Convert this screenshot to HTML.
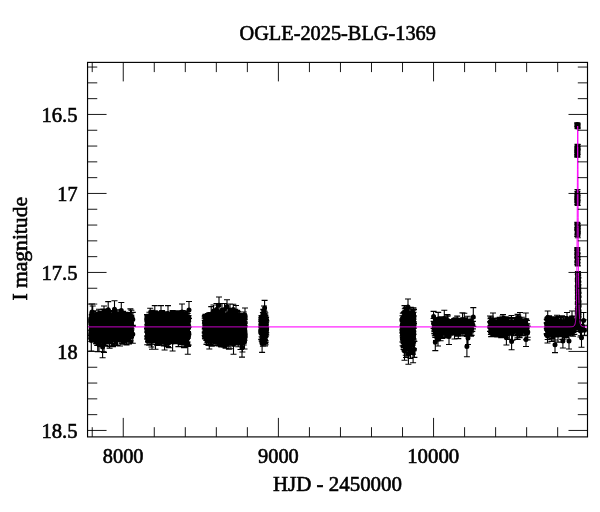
<!DOCTYPE html>
<html><head><meta charset="utf-8"><title>OGLE-2025-BLG-1369</title>
<style>
html,body{margin:0;padding:0;background:#fff;}
body{width:600px;height:512px;overflow:hidden;font-family:"Liberation Serif",serif;}
svg{display:block;}
text{font-family:"Liberation Serif",serif;font-size:20px;fill:#000;stroke:#000;stroke-width:0.6px;}
</style></head><body>
<svg width="600" height="512" viewBox="0 0 600 512">
<rect width="600" height="512" fill="#fff"/>
<path d="M87.55,326.90L560.00,326.90L560.50,326.90L561.00,326.90L561.50,326.90L562.00,326.90L562.50,326.90L563.00,326.90L563.50,326.89L564.00,326.89L564.50,326.89L565.00,326.89L565.50,326.89L566.00,326.89L566.50,326.89L567.00,326.88L567.50,326.88L568.00,326.88L568.50,326.87L569.00,326.86L569.50,326.85L570.00,326.84L570.50,326.82L571.00,326.80L571.50,326.76L572.00,326.71L572.50,326.63L573.00,326.50L573.50,326.30L574.00,325.95L574.50,325.31L575.00,324.08L575.05,323.91L575.10,323.71L575.15,323.51L575.20,323.28L575.25,323.04L575.30,322.78L575.35,322.50L575.40,322.19L575.45,321.86L575.50,321.50L575.55,321.11L575.60,320.68L575.65,320.22L575.70,319.72L575.75,319.17L575.80,318.57L575.85,317.92L575.90,317.20L575.95,316.42L576.00,315.56L576.05,314.62L576.10,313.59L576.15,312.45L576.20,311.20L576.25,309.83L576.30,308.32L576.35,306.65L576.40,304.81L576.45,302.78L576.50,300.54L576.55,298.06L576.60,295.31L576.65,292.27L576.70,288.91L576.75,285.18L576.80,281.05L576.85,276.47L576.90,271.39L576.95,265.77L577.00,259.54L577.05,252.66L577.10,245.05L577.15,236.66L577.20,227.45L577.25,217.37L577.30,206.42L577.35,194.66L577.40,182.21L577.45,169.38L577.50,156.65L577.55,144.82L577.60,134.97L577.65,128.35L577.70,126.00L577.75,128.35L577.80,134.97L577.85,144.82L577.90,156.65L577.95,169.38L578.00,182.21L578.05,194.66L578.10,206.42L578.15,217.37L578.20,227.45L578.25,236.66L578.30,245.05L578.35,252.66L578.40,259.54L578.45,265.77L578.50,271.39L578.55,276.47L578.60,281.05L578.65,285.18L578.70,288.91L578.75,292.27L578.80,295.31L578.85,298.06L578.90,300.54L578.95,302.78L579.00,304.81L579.05,306.65L579.10,308.32L579.15,309.83L579.20,311.20L579.25,312.45L579.30,313.59L579.35,314.62L579.40,315.56L579.45,316.42L579.50,317.20L579.55,317.92L579.60,318.57L579.65,319.17L579.70,319.72L579.75,320.22L579.80,320.68L579.85,321.11L579.90,321.50L579.95,321.86L580.00,322.19L580.05,322.50L580.10,322.78L580.15,323.04L580.20,323.28L580.25,323.51L580.30,323.71L580.35,323.91L580.40,324.08L580.45,324.25L580.50,324.40L580.55,324.55L580.60,324.68L580.65,324.81L580.70,324.92L580.75,325.03L581.25,325.80L581.75,326.21L582.25,326.45L582.75,326.60L583.25,326.69L583.75,326.75L584.25,326.79L584.75,326.82L585.25,326.83L585.75,326.85L586.25,326.86L586.75,326.87L587.25,326.87L587.50,326.88" fill="none" stroke="#ff00ff" stroke-width="1.0" stroke-opacity="0.5" stroke-linejoin="round"/>
<g fill="none" stroke="#000" stroke-width="1.1">
<path d="M113.6,316.8v12.2M110.6,316.8h6M110.6,329.0h6M98.0,319.4v14.2M95.0,319.4h6M95.0,333.6h6M107.2,316.7v18.0M104.2,316.7h6M104.2,334.7h6M130.8,320.1v15.8M127.8,320.1h6M127.8,335.9h6M92.1,321.4v11.6M89.1,321.4h6M89.1,333.0h6M98.9,318.0v15.9M95.9,318.0h6M95.9,333.9h6M130.7,322.0v18.7M127.7,322.0h6M127.7,340.7h6M128.3,318.7v11.7M125.3,318.7h6M125.3,330.5h6M115.1,327.7v15.7M112.1,327.7h6M112.1,343.4h6M100.9,316.5v18.1M97.9,316.5h6M97.9,334.6h6M113.4,322.7v11.3M110.4,322.7h6M110.4,334.0h6M109.7,329.6v17.0M106.7,329.6h6M106.7,346.6h6M114.4,326.9v17.9M111.4,326.9h6M111.4,344.8h6M109.1,315.0v14.5M106.1,315.0h6M106.1,329.6h6M119.0,314.5v13.8M116.0,314.5h6M116.0,328.2h6M117.5,314.8v10.5M114.5,314.8h6M114.5,325.3h6M125.6,315.4v15.0M122.6,315.4h6M122.6,330.4h6M113.0,315.9v12.9M110.0,315.9h6M110.0,328.9h6M102.3,318.0v13.5M99.3,318.0h6M99.3,331.5h6M113.6,323.3v15.1M110.6,323.3h6M110.6,338.4h6M102.1,316.4v13.3M99.1,316.4h6M99.1,329.7h6M105.2,317.3v14.0M102.2,317.3h6M102.2,331.3h6M123.9,315.0v10.9M120.9,315.0h6M120.9,325.9h6M111.3,318.3v13.1M108.3,318.3h6M108.3,331.4h6M101.0,322.7v13.6M98.0,322.7h6M98.0,336.3h6M114.2,316.5v13.6M111.2,316.5h6M111.2,330.0h6M99.3,315.8v15.5M96.3,315.8h6M96.3,331.3h6M114.2,322.9v16.1M111.2,322.9h6M111.2,339.0h6M91.5,317.3v13.1M88.5,317.3h6M88.5,330.4h6M96.8,317.1v16.0M93.8,317.1h6M93.8,333.1h6M120.6,324.8v16.1M117.6,324.8h6M117.6,340.9h6M96.5,328.5v14.9M93.5,328.5h6M93.5,343.4h6M97.1,313.8v15.0M94.1,313.8h6M94.1,328.8h6M121.4,318.0v14.8M118.4,318.0h6M118.4,332.8h6M111.7,317.2v14.5M108.7,317.2h6M108.7,331.7h6M123.4,322.6v16.9M120.4,322.6h6M120.4,339.6h6M114.8,312.3v13.7M111.8,312.3h6M111.8,325.9h6M105.3,328.7v16.9M102.3,328.7h6M102.3,345.6h6M106.0,314.4v11.9M103.0,314.4h6M103.0,326.3h6M93.7,318.7v16.5M90.7,318.7h6M90.7,335.2h6M111.5,318.4v12.4M108.5,318.4h6M108.5,330.8h6M107.9,315.6v12.0M104.9,315.6h6M104.9,327.6h6M129.9,321.3v20.3M126.9,321.3h6M126.9,341.7h6M97.3,316.5v15.5M94.3,316.5h6M94.3,332.1h6M120.9,316.8v12.8M117.9,316.8h6M117.9,329.7h6M111.8,318.6v16.0M108.8,318.6h6M108.8,334.6h6M105.2,320.2v15.4M102.2,320.2h6M102.2,335.7h6M124.5,317.3v15.5M121.5,317.3h6M121.5,332.8h6M118.8,318.9v13.1M115.8,318.9h6M115.8,332.0h6M103.0,317.4v13.1M100.0,317.4h6M100.0,330.5h6M98.8,313.1v15.4M95.8,313.1h6M95.8,328.5h6M114.7,320.8v14.9M111.7,320.8h6M111.7,335.7h6M101.8,316.5v12.2M98.8,316.5h6M98.8,328.7h6M109.6,325.5v22.8M106.6,325.5h6M106.6,348.3h6M93.2,311.5v15.6M90.2,311.5h6M90.2,327.1h6M124.2,320.0v14.5M121.2,320.0h6M121.2,334.5h6M97.0,313.8v15.8M94.0,313.8h6M94.0,329.6h6M124.6,315.1v14.8M121.6,315.1h6M121.6,329.9h6M105.2,314.6v14.6M102.2,314.6h6M102.2,329.2h6M125.2,320.0v14.1M122.2,320.0h6M122.2,334.1h6M128.0,323.9v18.4M125.0,323.9h6M125.0,342.2h6M113.0,316.4v15.5M110.0,316.4h6M110.0,332.0h6M104.6,318.1v12.1M101.6,318.1h6M101.6,330.1h6M92.1,322.3v17.3M89.1,322.3h6M89.1,339.7h6M109.6,314.5v12.9M106.6,314.5h6M106.6,327.4h6M101.5,322.8v15.8M98.5,322.8h6M98.5,338.6h6M116.3,319.5v13.7M113.3,319.5h6M113.3,333.1h6M92.8,324.7v13.5M89.8,324.7h6M89.8,338.2h6M103.3,309.1v11.8M100.3,309.1h6M100.3,320.9h6M125.6,320.4v10.3M122.6,320.4h6M122.6,330.7h6M104.4,329.4v17.0M101.4,329.4h6M101.4,346.3h6M96.5,321.2v14.2M93.5,321.2h6M93.5,335.4h6M92.1,318.7v12.2M89.1,318.7h6M89.1,330.9h6M130.4,318.7v15.7M127.4,318.7h6M127.4,334.4h6M131.0,324.8v12.1M128.0,324.8h6M128.0,336.9h6M97.0,324.1v14.6M94.0,324.1h6M94.0,338.7h6M100.7,312.9v10.8M97.7,312.9h6M97.7,323.6h6M96.4,322.3v13.7M93.4,322.3h6M93.4,335.9h6M99.4,315.7v9.8M96.4,315.7h6M96.4,325.5h6M104.0,319.3v12.7M101.0,319.3h6M101.0,331.9h6M93.1,319.3v14.8M90.1,319.3h6M90.1,334.1h6M105.2,319.5v16.1M102.2,319.5h6M102.2,335.6h6M123.2,319.0v20.9M120.2,319.0h6M120.2,339.9h6M128.3,320.1v14.7M125.3,320.1h6M125.3,334.8h6M97.2,317.0v14.5M94.2,317.0h6M94.2,331.5h6M129.1,314.6v14.3M126.1,314.6h6M126.1,328.9h6M121.5,319.2v16.2M118.5,319.2h6M118.5,335.5h6M95.5,318.6v15.0M92.5,318.6h6M92.5,333.7h6M105.8,316.6v12.8M102.8,316.6h6M102.8,329.4h6M111.1,324.9v18.8M108.1,324.9h6M108.1,343.6h6M98.9,326.0v17.3M95.9,326.0h6M95.9,343.3h6M103.4,323.1v19.2M100.4,323.1h6M100.4,342.3h6M113.9,317.3v16.8M110.9,317.3h6M110.9,334.1h6M116.7,319.0v12.2M113.7,319.0h6M113.7,331.2h6M116.8,309.7v13.0M113.8,309.7h6M113.8,322.7h6M104.7,318.1v15.6M101.7,318.1h6M101.7,333.7h6M119.4,317.4v15.2M116.4,317.4h6M116.4,332.6h6M109.9,324.8v15.6M106.9,324.8h6M106.9,340.3h6M122.6,318.0v14.1M119.6,318.0h6M119.6,332.1h6M95.8,320.0v17.0M92.8,320.0h6M92.8,337.0h6M95.6,325.4v15.4M92.6,325.4h6M92.6,340.8h6M115.0,316.2v13.0M112.0,316.2h6M112.0,329.3h6M125.0,317.0v13.9M122.0,317.0h6M122.0,330.9h6M126.7,314.3v12.6M123.7,314.3h6M123.7,326.9h6M96.5,315.2v16.6M93.5,315.2h6M93.5,331.7h6M128.5,318.0v17.2M125.5,318.0h6M125.5,335.2h6M115.2,321.9v15.0M112.2,321.9h6M112.2,336.9h6M119.9,321.9v13.6M116.9,321.9h6M116.9,335.5h6M117.4,324.9v15.0M114.4,324.9h6M114.4,339.9h6M98.9,323.5v16.0M95.9,323.5h6M95.9,339.6h6M109.7,315.6v16.3M106.7,315.6h6M106.7,331.9h6M121.0,314.7v17.5M118.0,314.7h6M118.0,332.1h6M123.9,322.6v19.9M120.9,322.6h6M120.9,342.5h6M103.9,320.1v12.7M100.9,320.1h6M100.9,332.8h6M98.3,315.7v14.1M95.3,315.7h6M95.3,329.9h6M121.6,319.4v16.3M118.6,319.4h6M118.6,335.7h6M114.8,318.3v14.1M111.8,318.3h6M111.8,332.4h6M92.5,319.4v11.8M89.5,319.4h6M89.5,331.2h6M96.8,323.3v18.2M93.8,323.3h6M93.8,341.5h6M115.0,316.6v14.4M112.0,316.6h6M112.0,331.0h6M103.6,320.5v17.1M100.6,320.5h6M100.6,337.7h6M93.3,316.2v12.4M90.3,316.2h6M90.3,328.6h6M105.4,316.3v16.4M102.4,316.3h6M102.4,332.8h6M102.6,317.4v10.1M99.6,317.4h6M99.6,327.5h6M124.9,320.6v13.7M121.9,320.6h6M121.9,334.2h6M99.1,320.1v16.7M96.1,320.1h6M96.1,336.9h6M126.0,320.1v14.8M123.0,320.1h6M123.0,334.9h6M117.0,313.2v18.7M114.0,313.2h6M114.0,331.9h6M92.3,322.7v18.3M89.3,322.7h6M89.3,341.1h6M125.7,320.8v13.3M122.7,320.8h6M122.7,334.1h6M95.4,317.4v12.3M92.4,317.4h6M92.4,329.7h6M112.5,314.1v13.8M109.5,314.1h6M109.5,327.9h6M96.1,318.1v12.2M93.1,318.1h6M93.1,330.3h6M113.9,321.4v16.8M110.9,321.4h6M110.9,338.2h6M107.6,316.8v13.6M104.6,316.8h6M104.6,330.3h6M125.4,318.7v16.9M122.4,318.7h6M122.4,335.5h6M128.7,317.7v14.4M125.7,317.7h6M125.7,332.1h6M107.8,319.7v15.6M104.8,319.7h6M104.8,335.3h6M119.5,314.5v11.1M116.5,314.5h6M116.5,325.6h6M128.6,318.0v12.6M125.6,318.0h6M125.6,330.6h6M118.3,313.8v13.6M115.3,313.8h6M115.3,327.3h6M126.1,316.8v13.8M123.1,316.8h6M123.1,330.6h6M91.3,323.9v17.6M88.3,323.9h6M88.3,341.5h6M117.6,327.5v18.3M114.6,327.5h6M114.6,345.8h6M125.6,321.3v16.2M122.6,321.3h6M122.6,337.5h6M127.6,318.0v14.7M124.6,318.0h6M124.6,332.8h6M105.2,323.0v12.5M102.2,323.0h6M102.2,335.6h6M96.5,318.1v16.9M93.5,318.1h6M93.5,335.0h6M128.4,315.0v15.3M125.4,315.0h6M125.4,330.3h6M131.0,315.5v15.6M128.0,315.5h6M128.0,331.1h6M98.8,315.8v12.9M95.8,315.8h6M95.8,328.7h6M114.4,315.8v13.8M111.4,315.8h6M111.4,329.6h6M113.4,318.5v16.5M110.4,318.5h6M110.4,335.0h6M99.0,309.3v13.1M96.0,309.3h6M96.0,322.4h6M117.6,316.4v15.0M114.6,316.4h6M114.6,331.3h6M119.3,312.9v14.2M116.3,312.9h6M116.3,327.1h6M108.0,319.3v15.5M105.0,319.3h6M105.0,334.8h6M113.1,322.5v16.5M110.1,322.5h6M110.1,339.0h6M98.1,314.5v11.9M95.1,314.5h6M95.1,326.4h6M127.2,316.3v13.6M124.2,316.3h6M124.2,330.0h6M122.8,317.6v16.3M119.8,317.6h6M119.8,333.8h6M130.5,320.5v16.4M127.5,320.5h6M127.5,336.9h6M115.6,316.9v12.8M112.6,316.9h6M112.6,329.6h6M103.2,321.9v15.1M100.2,321.9h6M100.2,336.9h6M103.5,312.3v13.1M100.5,312.3h6M100.5,325.4h6M104.7,313.7v10.2M101.7,313.7h6M101.7,323.9h6M93.9,320.4v13.9M90.9,320.4h6M90.9,334.3h6M124.1,322.2v18.6M121.1,322.2h6M121.1,340.7h6M127.9,316.9v12.9M124.9,316.9h6M124.9,329.8h6M126.3,319.9v15.8M123.3,319.9h6M123.3,335.7h6M95.9,316.7v15.7M92.9,316.7h6M92.9,332.4h6M95.9,321.7v14.6M92.9,321.7h6M92.9,336.2h6M99.5,317.9v15.7M96.5,317.9h6M96.5,333.6h6M108.5,316.7v15.9M105.5,316.7h6M105.5,332.5h6M110.7,320.2v14.9M107.7,320.2h6M107.7,335.2h6M105.6,319.6v15.6M102.6,319.6h6M102.6,335.2h6M108.6,314.2v17.6M105.6,314.2h6M105.6,331.8h6M96.2,323.7v17.3M93.2,323.7h6M93.2,341.1h6M105.9,313.2v10.4M102.9,313.2h6M102.9,323.7h6M102.2,319.9v18.3M99.2,319.9h6M99.2,338.2h6M115.1,325.9v15.3M112.1,325.9h6M112.1,341.2h6M100.0,320.5v16.6M97.0,320.5h6M97.0,337.1h6M119.5,321.2v12.6M116.5,321.2h6M116.5,333.8h6M104.8,323.9v14.3M101.8,323.9h6M101.8,338.2h6M112.8,316.0v14.2M109.8,316.0h6M109.8,330.2h6M111.1,317.1v17.1M108.1,317.1h6M108.1,334.2h6M130.3,319.4v16.0M127.3,319.4h6M127.3,335.5h6M98.3,319.4v15.9M95.3,319.4h6M95.3,335.4h6M128.7,322.0v14.3M125.7,322.0h6M125.7,336.3h6M126.1,321.0v15.1M123.1,321.0h6M123.1,336.0h6M100.8,317.7v15.3M97.8,317.7h6M97.8,333.0h6M125.7,320.1v12.7M122.7,320.1h6M122.7,332.9h6M121.8,322.4v11.7M118.8,322.4h6M118.8,334.1h6M91.1,321.7v17.2M88.1,321.7h6M88.1,338.8h6M95.7,324.0v12.4M92.7,324.0h6M92.7,336.4h6M105.8,311.9v14.6M102.8,311.9h6M102.8,326.6h6M126.1,319.2v14.7M123.1,319.2h6M123.1,333.9h6M127.1,318.7v15.7M124.1,318.7h6M124.1,334.4h6M117.8,318.1v16.1M114.8,318.1h6M114.8,334.2h6M110.6,319.6v12.7M107.6,319.6h6M107.6,332.3h6M96.8,321.2v16.7M93.8,321.2h6M93.8,338.0h6M92.9,320.4v16.0M89.9,320.4h6M89.9,336.4h6M129.8,316.1v14.2M126.8,316.1h6M126.8,330.3h6M93.7,317.7v17.5M90.7,317.7h6M90.7,335.2h6M111.5,320.6v16.9M108.5,320.6h6M108.5,337.5h6M106.8,326.0v18.0M103.8,326.0h6M103.8,343.9h6M112.3,315.9v15.4M109.3,315.9h6M109.3,331.3h6M115.2,317.3v15.1M112.2,317.3h6M112.2,332.3h6M97.7,325.2v14.6M94.7,325.2h6M94.7,339.7h6M115.9,313.3v11.7M112.9,313.3h6M112.9,325.0h6M119.4,316.9v14.6M116.4,316.9h6M116.4,331.5h6M97.5,315.9v14.5M94.5,315.9h6M94.5,330.4h6M108.9,312.3v16.6M105.9,312.3h6M105.9,328.9h6M116.4,328.5v17.0M113.4,328.5h6M113.4,345.5h6M109.6,312.1v13.8M106.6,312.1h6M106.6,325.9h6M102.4,309.2v14.7M99.4,309.2h6M99.4,323.9h6M126.5,322.9v22.0M123.5,322.9h6M123.5,344.9h6M130.6,318.7v14.3M127.6,318.7h6M127.6,333.0h6M116.0,315.4v13.3M113.0,315.4h6M113.0,328.6h6M107.5,311.6v17.1M104.5,311.6h6M104.5,328.7h6M97.0,319.4v13.4M94.0,319.4h6M94.0,332.8h6M111.1,318.3v15.5M108.1,318.3h6M108.1,333.8h6M129.6,319.1v14.9M126.6,319.1h6M126.6,334.0h6M120.2,317.3v15.6M117.2,317.3h6M117.2,333.0h6M121.1,324.3v17.2M118.1,324.3h6M118.1,341.4h6M120.1,319.8v12.1M117.1,319.8h6M117.1,331.9h6M92.6,317.4v12.4M89.6,317.4h6M89.6,329.8h6M95.9,326.7v17.1M92.9,326.7h6M92.9,343.8h6M98.0,316.9v14.5M95.0,316.9h6M95.0,331.4h6M96.1,319.0v17.2M93.1,319.0h6M93.1,336.2h6M100.6,316.7v15.4M97.6,316.7h6M97.6,332.1h6M95.7,316.8v18.4M92.7,316.8h6M92.7,335.2h6M129.0,319.0v15.4M126.0,319.0h6M126.0,334.4h6M102.1,326.2v18.6M99.1,326.2h6M99.1,344.7h6M107.8,321.5v15.6M104.8,321.5h6M104.8,337.1h6M115.6,316.9v15.6M112.6,316.9h6M112.6,332.5h6M106.4,317.0v13.9M103.4,317.0h6M103.4,330.9h6M97.2,325.8v19.6M94.2,325.8h6M94.2,345.4h6M109.2,316.5v15.8M106.2,316.5h6M106.2,332.3h6M91.2,320.6v14.2M88.2,320.6h6M88.2,334.8h6M95.4,316.4v15.3M92.4,316.4h6M92.4,331.7h6M95.5,318.7v14.3M92.5,318.7h6M92.5,333.1h6M98.6,323.8v12.2M95.6,323.8h6M95.6,336.0h6M100.7,318.1v13.0M97.7,318.1h6M97.7,331.2h6M103.7,321.2v15.6M100.7,321.2h6M100.7,336.8h6M122.0,322.9v9.9M119.0,322.9h6M119.0,332.8h6M121.3,318.7v14.5M118.3,318.7h6M118.3,333.2h6M98.9,321.0v15.0M95.9,321.0h6M95.9,336.0h6M116.3,320.8v17.6M113.3,320.8h6M113.3,338.4h6M127.7,319.0v17.9M124.7,319.0h6M124.7,337.0h6M92.6,317.2v12.1M89.6,317.2h6M89.6,329.3h6M102.9,326.6v14.5M99.9,326.6h6M99.9,341.1h6M122.1,319.2v13.1M119.1,319.2h6M119.1,332.3h6M124.6,315.6v14.5M121.6,315.6h6M121.6,330.1h6M114.2,326.4v13.8M111.2,326.4h6M111.2,340.2h6M102.1,325.4v16.4M99.1,325.4h6M99.1,341.8h6M119.1,323.5v13.6M116.1,323.5h6M116.1,337.1h6M91.5,319.4v10.9M88.5,319.4h6M88.5,330.3h6M105.9,320.4v13.9M102.9,320.4h6M102.9,334.3h6M127.7,322.9v16.0M124.7,322.9h6M124.7,339.0h6M104.0,320.7v12.8M101.0,320.7h6M101.0,333.6h6M127.8,316.5v16.4M124.8,316.5h6M124.8,332.9h6M102.8,317.0v14.6M99.8,317.0h6M99.8,331.6h6M129.2,319.1v19.7M126.2,319.1h6M126.2,338.9h6M121.3,320.2v13.4M118.3,320.2h6M118.3,333.6h6M123.8,320.2v15.4M120.8,320.2h6M120.8,335.6h6M111.9,318.7v15.2M108.9,318.7h6M108.9,333.9h6M123.1,321.0v12.4M120.1,321.0h6M120.1,333.4h6M118.6,322.2v12.0M115.6,322.2h6M115.6,334.3h6M101.4,316.3v12.2M98.4,316.3h6M98.4,328.5h6M118.5,318.0v15.1M115.5,318.0h6M115.5,333.1h6M109.0,319.9v17.3M106.0,319.9h6M106.0,337.2h6M104.9,312.8v12.1M101.9,312.8h6M101.9,324.9h6M120.0,311.9v14.4M117.0,311.9h6M117.0,326.3h6M131.0,320.1v12.0M128.0,320.1h6M128.0,332.2h6M119.2,319.7v13.4M116.2,319.7h6M116.2,333.1h6M131.0,316.6v14.2M128.0,316.6h6M128.0,330.7h6M115.5,319.5v14.2M112.5,319.5h6M112.5,333.8h6M108.8,317.5v13.9M105.8,317.5h6M105.8,331.4h6M99.3,322.4v14.4M96.3,322.4h6M96.3,336.8h6M128.1,320.1v13.3M125.1,320.1h6M125.1,333.4h6M91.2,322.4v12.7M88.2,322.4h6M88.2,335.2h6M96.3,314.1v12.6M93.3,314.1h6M93.3,326.7h6M112.0,315.5v11.7M109.0,315.5h6M109.0,327.2h6M107.2,321.2v13.0M104.2,321.2h6M104.2,334.2h6M104.9,322.5v15.3M101.9,322.5h6M101.9,337.8h6M116.9,321.1v12.3M113.9,321.1h6M113.9,333.3h6M114.4,312.0v13.3M111.4,312.0h6M111.4,325.4h6M104.1,324.7v16.6M101.1,324.7h6M101.1,341.2h6M117.1,321.3v15.1M114.1,321.3h6M114.1,336.4h6M105.6,322.2v19.0M102.6,322.2h6M102.6,341.2h6M99.4,318.3v14.6M96.4,318.3h6M96.4,332.9h6M116.2,317.0v16.2M113.2,317.0h6M113.2,333.2h6M118.3,319.6v17.7M115.3,319.6h6M115.3,337.3h6M127.7,322.7v16.7M124.7,322.7h6M124.7,339.4h6M100.7,324.4v13.5M97.7,324.4h6M97.7,337.9h6M102.2,319.0v14.3M99.2,319.0h6M99.2,333.3h6M122.0,316.4v18.7M119.0,316.4h6M119.0,335.0h6M129.9,323.5v13.6M126.9,323.5h6M126.9,337.1h6M120.6,315.5v16.1M117.6,315.5h6M117.6,331.6h6M114.9,318.6v14.6M111.9,318.6h6M111.9,333.2h6M124.0,315.9v12.0M121.0,315.9h6M121.0,327.9h6M116.0,315.0v13.5M113.0,315.0h6M113.0,328.5h6M106.1,314.5v15.2M103.1,314.5h6M103.1,329.7h6M116.4,317.4v11.2M113.4,317.4h6M113.4,328.6h6M92.1,316.1v13.7M89.1,316.1h6M89.1,329.8h6M94.4,320.2v15.5M91.4,320.2h6M91.4,335.8h6M119.9,316.2v20.9M116.9,316.2h6M116.9,337.1h6M92.3,319.1v14.4M89.3,319.1h6M89.3,333.5h6M94.5,321.7v17.7M91.5,321.7h6M91.5,339.4h6M99.9,313.3v20.6M96.9,313.3h6M96.9,333.9h6M103.9,318.0v14.8M100.9,318.0h6M100.9,332.8h6M105.6,314.8v17.0M102.6,314.8h6M102.6,331.8h6M125.3,317.5v13.6M122.3,317.5h6M122.3,331.1h6M108.2,320.9v14.7M105.2,320.9h6M105.2,335.6h6M116.5,322.5v15.2M113.5,322.5h6M113.5,337.7h6M103.1,319.5v18.0M100.1,319.5h6M100.1,337.5h6M128.7,315.7v15.9M125.7,315.7h6M125.7,331.6h6M108.4,319.0v11.4M105.4,319.0h6M105.4,330.4h6M118.3,316.6v17.6M115.3,316.6h6M115.3,334.2h6M115.1,316.9v16.8M112.1,316.9h6M112.1,333.7h6M108.5,315.3v14.5M105.5,315.3h6M105.5,329.8h6M104.6,318.9v12.0M101.6,318.9h6M101.6,330.9h6M94.7,317.7v15.2M91.7,317.7h6M91.7,332.9h6M102.2,320.1v14.3M99.2,320.1h6M99.2,334.4h6M100.7,321.0v11.0M97.7,321.0h6M97.7,332.0h6M115.8,320.9v16.9M112.8,320.9h6M112.8,337.8h6M113.4,313.7v14.4M110.4,313.7h6M110.4,328.0h6M127.2,322.6v15.8M124.2,322.6h6M124.2,338.4h6M119.9,314.9v15.1M116.9,314.9h6M116.9,330.0h6M128.1,320.1v16.1M125.1,320.1h6M125.1,336.2h6M101.2,314.6v12.6M98.2,314.6h6M98.2,327.2h6M115.2,316.9v13.9M112.2,316.9h6M112.2,330.8h6M113.5,320.7v16.4M110.5,320.7h6M110.5,337.2h6M91.4,326.3v12.9M88.4,326.3h6M88.4,339.2h6M129.6,323.5v10.7M126.6,323.5h6M126.6,334.2h6M113.7,321.3v13.3M110.7,321.3h6M110.7,334.6h6M101.2,317.4v17.8M98.2,317.4h6M98.2,335.2h6M103.5,319.1v19.0M100.5,319.1h6M100.5,338.1h6M100.3,311.3v9.5M97.3,311.3h6M97.3,320.8h6M94.5,316.3v14.0M91.5,316.3h6M91.5,330.3h6M123.3,316.5v16.1M120.3,316.5h6M120.3,332.6h6M122.5,321.6v15.5M119.5,321.6h6M119.5,337.1h6M102.8,325.1v13.6M99.8,325.1h6M99.8,338.8h6M103.3,318.0v12.9M100.3,318.0h6M100.3,330.9h6M131.4,319.5v15.6M128.4,319.5h6M128.4,335.1h6M130.0,319.8v16.6M127.0,319.8h6M127.0,336.5h6M98.9,325.0v12.7M95.9,325.0h6M95.9,337.7h6M108.7,312.3v16.8M105.7,312.3h6M105.7,329.1h6M125.1,324.9v14.4M122.1,324.9h6M122.1,339.3h6M130.3,319.6v16.5M127.3,319.6h6M127.3,336.1h6M130.4,316.8v14.3M127.4,316.8h6M127.4,331.1h6M119.9,319.2v15.0M116.9,319.2h6M116.9,334.2h6M130.2,315.2v11.8M127.2,315.2h6M127.2,327.0h6M102.5,324.8v12.3M99.5,324.8h6M99.5,337.1h6M110.6,323.3v14.6M107.6,323.3h6M107.6,337.9h6M109.3,323.2v15.5M106.3,323.2h6M106.3,338.7h6M116.5,321.0v18.2M113.5,321.0h6M113.5,339.2h6M115.8,317.1v13.2M112.8,317.1h6M112.8,330.2h6M103.0,316.5v17.9M100.0,316.5h6M100.0,334.5h6M107.2,320.1v11.7M104.2,320.1h6M104.2,331.7h6M109.5,317.3v16.5M106.5,317.3h6M106.5,333.7h6M114.1,320.9v10.6M111.1,320.9h6M111.1,331.4h6M96.3,324.5v14.5M93.3,324.5h6M93.3,339.0h6M124.8,318.8v17.2M121.8,318.8h6M121.8,336.0h6M113.0,314.9v15.2M110.0,314.9h6M110.0,330.0h6M103.4,322.9v18.6M100.4,322.9h6M100.4,341.4h6M100.3,315.8v10.1M97.3,315.8h6M97.3,325.9h6M99.3,320.5v13.3M96.3,320.5h6M96.3,333.7h6M127.6,318.7v13.2M124.6,318.7h6M124.6,331.9h6M91.3,320.8v13.0M88.3,320.8h6M88.3,333.8h6M97.8,326.7v12.2M94.8,326.7h6M94.8,338.8h6M114.4,327.3v16.0M111.4,327.3h6M111.4,343.3h6M124.1,317.7v17.1M121.1,317.7h6M121.1,334.8h6M106.9,316.1v14.8M103.9,316.1h6M103.9,330.9h6M94.0,321.8v16.7M91.0,321.8h6M91.0,338.5h6M107.8,321.1v14.2M104.8,321.1h6M104.8,335.3h6M106.5,321.6v13.0M103.5,321.6h6M103.5,334.6h6M106.2,317.1v12.1M103.2,317.1h6M103.2,329.1h6M101.1,325.4v15.7M98.1,325.4h6M98.1,341.1h6M102.7,325.4v17.6M99.7,325.4h6M99.7,343.1h6M120.9,321.7v15.0M117.9,321.7h6M117.9,336.7h6M115.9,318.0v19.1M112.9,318.0h6M112.9,337.1h6M131.3,319.1v14.3M128.3,319.1h6M128.3,333.4h6M128.6,319.2v16.8M125.6,319.2h6M125.6,336.0h6M107.8,322.1v18.0M104.8,322.1h6M104.8,340.1h6M109.1,311.3v14.2M106.1,311.3h6M106.1,325.5h6M114.4,322.4v12.4M111.4,322.4h6M111.4,334.8h6M93.0,315.5v14.7M90.0,315.5h6M90.0,330.2h6M108.0,323.0v14.1M105.0,323.0h6M105.0,337.2h6M100.3,316.7v14.3M97.3,316.7h6M97.3,330.9h6M129.3,324.3v11.0M126.3,324.3h6M126.3,335.3h6M99.3,322.6v14.0M96.3,322.6h6M96.3,336.6h6M95.7,318.7v14.7M92.7,318.7h6M92.7,333.4h6M129.4,317.9v12.6M126.4,317.9h6M126.4,330.4h6M107.6,321.4v12.2M104.6,321.4h6M104.6,333.5h6M93.6,320.7v13.8M90.6,320.7h6M90.6,334.5h6M108.8,321.8v17.9M105.8,321.8h6M105.8,339.8h6M126.3,318.0v15.6M123.3,318.0h6M123.3,333.6h6M116.5,315.9v16.7M113.5,315.9h6M113.5,332.5h6M128.0,319.3v16.8M125.0,319.3h6M125.0,336.1h6M99.2,320.5v14.2M96.2,320.5h6M96.2,334.7h6M124.5,316.0v14.3M121.5,316.0h6M121.5,330.4h6M124.3,318.4v13.1M121.3,318.4h6M121.3,331.5h6M101.3,320.7v8.2M98.3,320.7h6M98.3,328.9h6M131.2,312.6v17.8M128.2,312.6h6M128.2,330.4h6M120.8,323.3v17.5M117.8,323.3h6M117.8,340.8h6M106.3,318.6v9.3M103.3,318.6h6M103.3,327.8h6M94.7,318.2v14.7M91.7,318.2h6M91.7,332.9h6M129.8,315.4v17.1M126.8,315.4h6M126.8,332.5h6M116.9,318.1v14.8M113.9,318.1h6M113.9,332.9h6M107.3,317.0v14.4M104.3,317.0h6M104.3,331.3h6M92.3,318.6v16.2M89.3,318.6h6M89.3,334.8h6M101.8,323.1v15.1M98.8,323.1h6M98.8,338.2h6M97.2,317.7v19.7M94.2,317.7h6M94.2,337.4h6M111.4,320.9v15.0M108.4,320.9h6M108.4,336.0h6M113.1,317.9v14.9M110.1,317.9h6M110.1,332.8h6M91.7,321.5v15.1M88.7,321.5h6M88.7,336.6h6M128.7,319.1v16.1M125.7,319.1h6M125.7,335.2h6M106.8,321.8v14.7M103.8,321.8h6M103.8,336.6h6M118.5,318.2v15.1M115.5,318.2h6M115.5,333.3h6M110.1,317.4v12.9M107.1,317.4h6M107.1,330.3h6M125.5,312.4v15.3M122.5,312.4h6M122.5,327.6h6M91.7,319.7v16.9M88.7,319.7h6M88.7,336.7h6M99.4,317.5v16.3M96.4,317.5h6M96.4,333.8h6M108.4,325.2v17.3M105.4,325.2h6M105.4,342.5h6M102.0,318.8v17.7M99.0,318.8h6M99.0,336.5h6M97.3,324.1v17.9M94.3,324.1h6M94.3,341.9h6M97.8,325.3v14.7M94.8,325.3h6M94.8,340.0h6M112.4,323.7v14.5M109.4,323.7h6M109.4,338.2h6M113.5,316.6v8.7M110.5,316.6h6M110.5,325.3h6M119.6,320.1v13.4M116.6,320.1h6M116.6,333.5h6M122.4,325.0v19.2M119.4,325.0h6M119.4,344.1h6M130.8,319.7v16.0M127.8,319.7h6M127.8,335.7h6M93.8,323.4v15.0M90.8,323.4h6M90.8,338.4h6M92.1,314.0v13.7M89.1,314.0h6M89.1,327.8h6M126.0,322.2v15.7M123.0,322.2h6M123.0,337.9h6M104.2,316.7v16.3M101.2,316.7h6M101.2,333.0h6M98.7,314.3v15.5M95.7,314.3h6M95.7,329.8h6M127.6,314.0v14.3M124.6,314.0h6M124.6,328.3h6M113.7,321.5v15.7M110.7,321.5h6M110.7,337.3h6M129.0,318.0v10.5M126.0,318.0h6M126.0,328.4h6M106.6,322.3v10.2M103.6,322.3h6M103.6,332.5h6M92.5,322.3v16.9M89.5,322.3h6M89.5,339.2h6M91.7,314.9v16.0M88.7,314.9h6M88.7,330.8h6M118.4,323.0v17.0M115.4,323.0h6M115.4,340.0h6M100.7,321.7v12.8M97.7,321.7h6M97.7,334.4h6M100.3,319.5v11.4M97.3,319.5h6M97.3,330.8h6M126.6,323.3v17.2M123.6,323.3h6M123.6,340.4h6M110.2,311.1v14.9M107.2,311.1h6M107.2,326.0h6M122.6,316.8v13.0M119.6,316.8h6M119.6,329.8h6M113.2,319.9v14.3M110.2,319.9h6M110.2,334.2h6M121.2,319.4v16.4M118.2,319.4h6M118.2,335.8h6M109.0,323.2v14.3M106.0,323.2h6M106.0,337.4h6M120.8,321.7v12.6M117.8,321.7h6M117.8,334.3h6M123.3,319.6v13.9M120.3,319.6h6M120.3,333.6h6M103.1,315.7v13.6M100.1,315.7h6M100.1,329.3h6M119.3,319.1v17.7M116.3,319.1h6M116.3,336.8h6M107.9,309.7v12.7M104.9,309.7h6M104.9,322.5h6M97.1,314.8v14.4M94.1,314.8h6M94.1,329.1h6M123.8,321.9v13.7M120.8,321.9h6M120.8,335.6h6M108.6,316.1v14.8M105.6,316.1h6M105.6,330.8h6M120.3,318.4v11.2M117.3,318.4h6M117.3,329.6h6M94.2,319.3v18.9M91.2,319.3h6M91.2,338.2h6M129.5,321.8v14.2M126.5,321.8h6M126.5,336.0h6M107.8,320.0v14.7M104.8,320.0h6M104.8,334.7h6M113.9,324.3v14.1M110.9,324.3h6M110.9,338.4h6M107.8,318.8v13.9M104.8,318.8h6M104.8,332.7h6M100.7,322.3v12.9M97.7,322.3h6M97.7,335.1h6M99.4,319.7v14.3M96.4,319.7h6M96.4,334.0h6M119.5,316.7v17.0M116.5,316.7h6M116.5,333.7h6M100.9,317.0v18.0M97.9,317.0h6M97.9,335.0h6M95.9,315.7v15.9M92.9,315.7h6M92.9,331.6h6M122.8,315.2v15.2M119.8,315.2h6M119.8,330.4h6M116.7,316.0v12.6M113.7,316.0h6M113.7,328.6h6M120.9,317.3v14.6M117.9,317.3h6M117.9,331.9h6M125.4,315.1v19.5M122.4,315.1h6M122.4,334.6h6M127.0,317.7v15.2M124.0,317.7h6M124.0,332.8h6M106.7,319.0v14.3M103.7,319.0h6M103.7,333.3h6M109.9,318.9v15.8M106.9,318.9h6M106.9,334.7h6M99.2,321.2v15.9M96.2,321.2h6M96.2,337.1h6M126.8,317.8v16.3M123.8,317.8h6M123.8,334.0h6M129.9,315.0v12.8M126.9,315.0h6M126.9,327.8h6M107.8,324.4v17.3M104.8,324.4h6M104.8,341.7h6M106.8,318.4v18.5M103.8,318.4h6M103.8,336.9h6M125.0,321.4v13.1M122.0,321.4h6M122.0,334.5h6M107.3,324.7v15.5M104.3,324.7h6M104.3,340.2h6M126.4,326.0v14.8M123.4,326.0h6M123.4,340.8h6M92.2,317.6v14.0M89.2,317.6h6M89.2,331.6h6M108.4,325.0v13.1M105.4,325.0h6M105.4,338.0h6M100.6,319.3v14.8M97.6,319.3h6M97.6,334.1h6M100.4,319.7v14.2M97.4,319.7h6M97.4,333.9h6M124.1,321.7v14.6M121.1,321.7h6M121.1,336.3h6M98.9,317.0v15.4M95.9,317.0h6M95.9,332.4h6M99.6,320.5v13.7M96.6,320.5h6M96.6,334.1h6M123.6,323.3v16.1M120.6,323.3h6M120.6,339.5h6M119.8,315.4v13.3M116.8,315.4h6M116.8,328.7h6M113.2,319.4v17.2M110.2,319.4h6M110.2,336.6h6M119.9,319.4v14.0M116.9,319.4h6M116.9,333.4h6M94.5,322.0v13.1M91.5,322.0h6M91.5,335.1h6M100.6,319.9v16.1M97.6,319.9h6M97.6,335.9h6M121.0,314.4v14.9M118.0,314.4h6M118.0,329.4h6M91.5,324.1v15.1M88.5,324.1h6M88.5,339.2h6M114.4,319.1v12.5M111.4,319.1h6M111.4,331.7h6M103.6,317.8v15.2M100.6,317.8h6M100.6,333.0h6M129.7,319.7v11.9M126.7,319.7h6M126.7,331.5h6M117.5,318.8v15.7M114.5,318.8h6M114.5,334.4h6M124.2,314.8v12.8M121.2,314.8h6M121.2,327.6h6M111.6,329.1v16.7M108.6,329.1h6M108.6,345.8h6M115.9,319.1v18.1M112.9,319.1h6M112.9,337.3h6M112.4,322.5v16.0M109.4,322.5h6M109.4,338.5h6M128.2,317.1v11.5M125.2,317.1h6M125.2,328.6h6M95.0,312.8v14.8M92.0,312.8h6M92.0,327.6h6M94.0,315.4v9.7M91.0,315.4h6M91.0,325.1h6M124.2,312.5v13.3M121.2,312.5h6M121.2,325.8h6M106.0,320.8v15.9M103.0,320.8h6M103.0,336.7h6M91.3,318.9v14.1M88.3,318.9h6M88.3,333.1h6M98.4,312.5v14.6M95.4,312.5h6M95.4,327.1h6M92.5,312.9v14.6M89.5,312.9h6M89.5,327.5h6M91.6,323.0v15.3M88.6,323.0h6M88.6,338.3h6M119.9,321.4v17.9M116.9,321.4h6M116.9,339.3h6M118.1,316.0v16.9M115.1,316.0h6M115.1,332.9h6M107.5,310.4v13.6M104.5,310.4h6M104.5,324.0h6M105.1,329.0v14.9M102.1,329.0h6M102.1,343.9h6M106.5,327.8v14.2M103.5,327.8h6M103.5,342.0h6M122.2,321.8v14.2M119.2,321.8h6M119.2,336.1h6M92.6,318.4v12.9M89.6,318.4h6M89.6,331.3h6M112.7,316.9v15.0M109.7,316.9h6M109.7,331.8h6M100.4,321.0v21.0M97.4,321.0h6M97.4,342.0h6M94.6,317.7v12.4M91.6,317.7h6M91.6,330.1h6M117.0,324.4v15.8M114.0,324.4h6M114.0,340.2h6M114.0,318.9v13.3M111.0,318.9h6M111.0,332.2h6M100.9,323.7v16.4M97.9,323.7h6M97.9,340.1h6M107.6,318.8v15.5M104.6,318.8h6M104.6,334.3h6M116.8,318.4v13.6M113.8,318.4h6M113.8,332.0h6M126.9,313.3v14.4M123.9,313.3h6M123.9,327.7h6M119.0,312.3v15.4M116.0,312.3h6M116.0,327.7h6M126.7,316.2v16.1M123.7,316.2h6M123.7,332.4h6M94.3,314.9v12.8M91.3,314.9h6M91.3,327.7h6M108.2,313.4v11.6M105.2,313.4h6M105.2,325.0h6M112.7,311.1v13.7M109.7,311.1h6M109.7,324.8h6M96.5,318.0v12.2M93.5,318.0h6M93.5,330.2h6M124.8,322.9v21.0M121.8,322.9h6M121.8,343.9h6M93.5,317.3v16.2M90.5,317.3h6M90.5,333.5h6M127.3,321.6v13.7M124.3,321.6h6M124.3,335.3h6M122.6,317.8v17.1M119.6,317.8h6M119.6,334.9h6M93.3,321.3v12.5M90.3,321.3h6M90.3,333.8h6M127.1,320.5v18.8M124.1,320.5h6M124.1,339.3h6M126.7,318.4v16.8M123.7,318.4h6M123.7,335.2h6M129.4,320.9v14.3M126.4,320.9h6M126.4,335.2h6M95.9,313.0v13.1M92.9,313.0h6M92.9,326.1h6M116.0,329.7v15.3M113.0,329.7h6M113.0,345.0h6M118.9,323.1v11.8M115.9,323.1h6M115.9,334.9h6M130.6,320.8v17.5M127.6,320.8h6M127.6,338.3h6M129.5,323.5v15.2M126.5,323.5h6M126.5,338.7h6M104.6,318.2v16.0M101.6,318.2h6M101.6,334.2h6M95.8,323.4v14.8M92.8,323.4h6M92.8,338.2h6M129.2,328.4v12.4M126.2,328.4h6M126.2,340.8h6M118.2,323.9v17.9M115.2,323.9h6M115.2,341.8h6M116.1,318.1v16.3M113.1,318.1h6M113.1,334.4h6M130.5,322.4v12.4M127.5,322.4h6M127.5,334.7h6M126.6,314.1v13.3M123.6,314.1h6M123.6,327.4h6M125.2,318.5v12.4M122.2,318.5h6M122.2,330.9h6M93.3,322.9v14.6M90.3,322.9h6M90.3,337.5h6M95.4,317.1v12.3M92.4,317.1h6M92.4,329.4h6M118.9,313.1v13.1M115.9,313.1h6M115.9,326.2h6M123.5,324.5v15.6M120.5,324.5h6M120.5,340.1h6M107.3,316.8v12.8M104.3,316.8h6M104.3,329.7h6M112.9,315.5v14.9M109.9,315.5h6M109.9,330.3h6M123.3,320.0v19.6M120.3,320.0h6M120.3,339.6h6M102.6,315.9v9.7M99.6,315.9h6M99.6,325.7h6M123.7,313.3v8.5M120.7,313.3h6M120.7,321.8h6M99.4,320.9v13.4M96.4,320.9h6M96.4,334.2h6M127.4,317.3v16.5M124.4,317.3h6M124.4,333.7h6M91.6,320.9v15.3M88.6,320.9h6M88.6,336.1h6M101.2,322.7v12.6M98.2,322.7h6M98.2,335.4h6M131.4,315.2v10.7M128.4,315.2h6M128.4,325.9h6M100.1,327.7v15.2M97.1,327.7h6M97.1,342.8h6M116.1,319.9v19.2M113.1,319.9h6M113.1,339.1h6M114.1,328.4v12.1M111.1,328.4h6M111.1,340.5h6M127.3,319.3v11.0M124.3,319.3h6M124.3,330.3h6M97.0,314.5v14.9M94.0,314.5h6M94.0,329.4h6M106.2,325.3v11.8M103.2,325.3h6M103.2,337.1h6M115.3,317.1v18.0M112.3,317.1h6M112.3,335.0h6M121.7,315.8v14.9M118.7,315.8h6M118.7,330.7h6M121.6,322.9v16.5M118.6,322.9h6M118.6,339.4h6M97.5,317.5v12.0M94.5,317.5h6M94.5,329.5h6M130.8,322.0v12.8M127.8,322.0h6M127.8,334.8h6M96.4,325.3v17.4M93.4,325.3h6M93.4,342.7h6M126.2,317.2v16.7M123.2,317.2h6M123.2,333.9h6M100.6,312.3v11.3M97.6,312.3h6M97.6,323.5h6M112.6,319.3v11.4M109.6,319.3h6M109.6,330.7h6M116.7,311.9v12.6M113.7,311.9h6M113.7,324.5h6M122.1,321.2v13.8M119.1,321.2h6M119.1,335.0h6M95.6,320.3v18.4M92.6,320.3h6M92.6,338.7h6M111.3,321.9v19.5M108.3,321.9h6M108.3,341.5h6M101.0,316.6v13.8M98.0,316.6h6M98.0,330.5h6M116.3,317.1v19.1M113.3,317.1h6M113.3,336.2h6M127.3,323.3v17.7M124.3,323.3h6M124.3,341.1h6M103.6,322.2v14.4M100.6,322.2h6M100.6,336.6h6M131.5,317.6v11.3M128.5,317.6h6M128.5,328.9h6M96.8,320.7v17.9M93.8,320.7h6M93.8,338.6h6M121.7,316.6v16.2M118.7,316.6h6M118.7,332.7h6M95.7,310.7v15.8M92.7,310.7h6M92.7,326.5h6M104.7,311.1v13.0M101.7,311.1h6M101.7,324.2h6M111.7,315.6v15.9M108.7,315.6h6M108.7,331.5h6M95.0,322.6v18.1M92.0,322.6h6M92.0,340.7h6M106.6,323.5v14.3M103.6,323.5h6M103.6,337.8h6M96.5,323.6v15.9M93.5,323.6h6M93.5,339.5h6M97.6,321.3v19.9M94.6,321.3h6M94.6,341.2h6M110.3,323.9v15.2M107.3,323.9h6M107.3,339.1h6M128.0,320.8v17.0M125.0,320.8h6M125.0,337.9h6M125.7,319.7v12.0M122.7,319.7h6M122.7,331.7h6M105.6,318.9v17.6M102.6,318.9h6M102.6,336.6h6M99.8,320.6v11.6M96.8,320.6h6M96.8,332.2h6M96.3,316.9v19.6M93.3,316.9h6M93.3,336.6h6M117.7,319.4v16.7M114.7,319.4h6M114.7,336.1h6M105.7,314.7v9.7M102.7,314.7h6M102.7,324.3h6M105.7,319.8v14.4M102.7,319.8h6M102.7,334.1h6M95.8,321.1v14.3M92.8,321.1h6M92.8,335.4h6M124.7,319.5v14.3M121.7,319.5h6M121.7,333.8h6M94.5,321.4v14.2M91.5,321.4h6M91.5,335.6h6M109.6,313.6v14.1M106.6,313.6h6M106.6,327.7h6M124.0,314.9v13.2M121.0,314.9h6M121.0,328.1h6M99.6,319.0v13.2M96.6,319.0h6M96.6,332.2h6M106.7,324.8v17.1M103.7,324.8h6M103.7,341.9h6M101.6,323.6v12.8M98.6,323.6h6M98.6,336.5h6M115.5,320.0v15.7M112.5,320.0h6M112.5,335.6h6M127.8,321.9v19.5M124.8,321.9h6M124.8,341.4h6M91.4,318.1v19.5M88.4,318.1h6M88.4,337.6h6M96.0,313.6v18.1M93.0,313.6h6M93.0,331.7h6M130.5,317.1v14.6M127.5,317.1h6M127.5,331.8h6M92.1,319.4v15.8M89.1,319.4h6M89.1,335.2h6M113.4,323.3v16.7M110.4,323.3h6M110.4,340.0h6M92.6,321.5v19.0M89.6,321.5h6M89.6,340.5h6M93.3,319.9v18.3M90.3,319.9h6M90.3,338.2h6M106.8,319.7v14.7M103.8,319.7h6M103.8,334.4h6M114.8,313.2v16.3M111.8,313.2h6M111.8,329.5h6M116.6,310.1v10.3M113.6,310.1h6M113.6,320.4h6M118.5,320.7v11.6M115.5,320.7h6M115.5,332.3h6M110.2,319.3v12.5M107.2,319.3h6M107.2,331.8h6M104.6,321.4v15.9M101.6,321.4h6M101.6,337.3h6M123.4,323.7v9.7M120.4,323.7h6M120.4,333.4h6M109.8,320.5v13.2M106.8,320.5h6M106.8,333.8h6M125.2,317.4v10.2M122.2,317.4h6M122.2,327.6h6M127.1,319.3v10.9M124.1,319.3h6M124.1,330.2h6M127.3,323.6v17.3M124.3,323.6h6M124.3,341.0h6M92.7,321.9v13.3M89.7,321.9h6M89.7,335.1h6M97.2,322.0v11.7M94.2,322.0h6M94.2,333.7h6M102.8,323.3v8.0M99.8,323.3h6M99.8,331.3h6M128.0,324.9v15.7M125.0,324.9h6M125.0,340.6h6M97.0,319.0v13.7M94.0,319.0h6M94.0,332.7h6M97.5,316.3v13.4M94.5,316.3h6M94.5,329.6h6M127.0,319.5v17.4M124.0,319.5h6M124.0,337.0h6M97.2,319.4v15.0M94.2,319.4h6M94.2,334.4h6M101.3,324.1v14.3M98.3,324.1h6M98.3,338.4h6M123.0,311.2v16.0M120.0,311.2h6M120.0,327.2h6M98.2,318.4v16.0M95.2,318.4h6M95.2,334.3h6M121.7,314.5v14.0M118.7,314.5h6M118.7,328.5h6M128.0,317.2v16.4M125.0,317.2h6M125.0,333.6h6M122.3,316.3v16.7M119.3,316.3h6M119.3,333.1h6M117.5,319.7v13.5M114.5,319.7h6M114.5,333.2h6M104.8,320.1v16.0M101.8,320.1h6M101.8,336.1h6M119.3,313.5v14.6M116.3,313.5h6M116.3,328.1h6M99.4,322.6v15.5M96.4,322.6h6M96.4,338.1h6M127.1,315.8v14.0M124.1,315.8h6M124.1,329.8h6M122.9,322.0v18.0M119.9,322.0h6M119.9,340.0h6M108.3,318.5v12.6M105.3,318.5h6M105.3,331.2h6M123.8,322.1v15.9M120.8,322.1h6M120.8,338.0h6M120.1,322.8v15.2M117.1,322.8h6M117.1,338.0h6M106.9,322.1v10.4M103.9,322.1h6M103.9,332.5h6M124.1,318.0v16.5M121.1,318.0h6M121.1,334.5h6M103.7,321.3v15.5M100.7,321.3h6M100.7,336.7h6M100.5,315.9v14.4M97.5,315.9h6M97.5,330.2h6M101.3,311.7v16.8M98.3,311.7h6M98.3,328.6h6M121.7,326.6v16.6M118.7,326.6h6M118.7,343.2h6M130.7,317.4v13.6M127.7,317.4h6M127.7,331.0h6M118.3,314.9v14.4M115.3,314.9h6M115.3,329.4h6M102.0,316.7v14.2M99.0,316.7h6M99.0,330.9h6M122.1,320.4v17.3M119.1,320.4h6M119.1,337.7h6M100.7,316.8v12.4M97.7,316.8h6M97.7,329.2h6M99.3,320.4v16.2M96.3,320.4h6M96.3,336.6h6M101.8,325.8v19.8M98.8,325.8h6M98.8,345.5h6M107.4,323.2v12.3M104.4,323.2h6M104.4,335.4h6M109.2,320.6v14.0M106.2,320.6h6M106.2,334.5h6M120.3,313.6v14.0M117.3,313.6h6M117.3,327.6h6M128.2,314.7v20.7M125.2,314.7h6M125.2,335.4h6M96.5,317.4v11.7M93.5,317.4h6M93.5,329.0h6M94.3,317.9v14.6M91.3,317.9h6M91.3,332.5h6M117.6,318.3v16.6M114.6,318.3h6M114.6,334.9h6M117.7,319.7v10.3M114.7,319.7h6M114.7,330.0h6M120.2,322.4v18.5M117.2,322.4h6M117.2,341.0h6M113.2,310.6v16.2M110.2,310.6h6M110.2,326.7h6M130.9,317.3v13.7M127.9,317.3h6M127.9,331.0h6M129.0,324.3v19.6M126.0,324.3h6M126.0,343.9h6M130.9,315.2v13.7M127.9,315.2h6M127.9,328.8h6M92.5,314.6v15.6M89.5,314.6h6M89.5,330.3h6M96.5,314.4v13.9M93.5,314.4h6M93.5,328.3h6M110.4,321.3v13.6M107.4,321.3h6M107.4,334.9h6M107.1,313.5v19.8M104.1,313.5h6M104.1,333.3h6M103.5,320.4v18.5M100.5,320.4h6M100.5,338.9h6M113.3,315.3v13.3M110.3,315.3h6M110.3,328.6h6M101.5,327.0v15.8M98.5,327.0h6M98.5,342.8h6M125.8,318.7v16.1M122.8,318.7h6M122.8,334.8h6M112.9,317.4v14.0M109.9,317.4h6M109.9,331.4h6M102.7,316.4v13.6M99.7,316.4h6M99.7,330.0h6M93.8,320.5v16.6M90.8,320.5h6M90.8,337.1h6M131.0,322.2v15.6M128.0,322.2h6M128.0,337.8h6M128.5,318.2v15.8M125.5,318.2h6M125.5,334.0h6M91.4,318.5v14.2M88.4,318.5h6M88.4,332.7h6M98.7,316.9v18.0M95.7,316.9h6M95.7,334.9h6M112.7,319.8v14.8M109.7,319.8h6M109.7,334.6h6M118.0,319.1v10.5M115.0,319.1h6M115.0,329.6h6M121.9,312.5v17.5M118.9,312.5h6M118.9,330.0h6M120.8,316.1v12.8M117.8,316.1h6M117.8,328.9h6M124.9,318.5v12.6M121.9,318.5h6M121.9,331.0h6M128.9,320.4v15.2M125.9,320.4h6M125.9,335.6h6M118.0,323.4v13.2M115.0,323.4h6M115.0,336.6h6M97.6,325.5v15.1M94.6,325.5h6M94.6,340.6h6M92.6,322.1v14.8M89.6,322.1h6M89.6,337.0h6M95.0,317.9v12.6M92.0,317.9h6M92.0,330.5h6M111.3,316.9v17.6M108.3,316.9h6M108.3,334.5h6M119.8,324.1v12.8M116.8,324.1h6M116.8,336.9h6M109.4,319.7v16.5M106.4,319.7h6M106.4,336.3h6M115.8,325.8v19.2M112.8,325.8h6M112.8,345.0h6M130.0,319.0v14.9M127.0,319.0h6M127.0,334.0h6M110.7,314.9v10.8M107.7,314.9h6M107.7,325.7h6M119.5,313.6v13.0M116.5,313.6h6M116.5,326.6h6M115.6,309.8v13.0M112.6,309.8h6M112.6,322.8h6M112.1,319.6v12.0M109.1,319.6h6M109.1,331.6h6M108.8,319.1v13.7M105.8,319.1h6M105.8,332.8h6M95.6,322.4v16.1M92.6,322.4h6M92.6,338.5h6M127.0,321.1v14.9M124.0,321.1h6M124.0,335.9h6M92.8,319.3v14.4M89.8,319.3h6M89.8,333.7h6M101.9,323.4v17.0M98.9,323.4h6M98.9,340.4h6M111.5,316.3v13.9M108.5,316.3h6M108.5,330.2h6M122.1,314.9v13.4M119.1,314.9h6M119.1,328.3h6M131.3,319.4v14.5M128.3,319.4h6M128.3,333.9h6M91.2,318.7v12.1M88.2,318.7h6M88.2,330.9h6M104.8,317.9v15.7M101.8,317.9h6M101.8,333.6h6M104.8,320.3v11.2M101.8,320.3h6M101.8,331.4h6M106.4,320.7v13.8M103.4,320.7h6M103.4,334.5h6M116.7,319.1v15.0M113.7,319.1h6M113.7,334.0h6M110.9,321.4v14.9M107.9,321.4h6M107.9,336.2h6M128.5,317.4v15.1M125.5,317.4h6M125.5,332.6h6M128.5,316.6v12.6M125.5,316.6h6M125.5,329.3h6M104.3,320.4v16.9M101.3,320.4h6M101.3,337.3h6M103.0,320.1v17.6M100.0,320.1h6M100.0,337.7h6M91.9,321.9v10.4M88.9,321.9h6M88.9,332.3h6M106.7,316.1v15.3M103.7,316.1h6M103.7,331.4h6M124.9,321.1v13.3M121.9,321.1h6M121.9,334.4h6M126.9,312.7v13.7M123.9,312.7h6M123.9,326.3h6M115.4,323.0v16.8M112.4,323.0h6M112.4,339.8h6M118.2,317.3v15.5M115.2,317.3h6M115.2,332.8h6M107.3,315.3v16.4M104.3,315.3h6M104.3,331.7h6M116.2,321.4v17.4M113.2,321.4h6M113.2,338.8h6M100.3,324.9v17.4M97.3,324.9h6M97.3,342.2h6M93.7,313.7v15.8M90.7,313.7h6M90.7,329.5h6M129.3,321.6v14.4M126.3,321.6h6M126.3,336.0h6M129.8,316.0v16.0M126.8,316.0h6M126.8,332.1h6M100.3,324.0v15.7M97.3,324.0h6M97.3,339.7h6M109.3,324.1v18.3M106.3,324.1h6M106.3,342.3h6M95.6,321.7v14.0M92.6,321.7h6M92.6,335.7h6M117.8,316.7v11.7M114.8,316.7h6M114.8,328.4h6M123.0,314.1v15.3M120.0,314.1h6M120.0,329.4h6M99.2,320.9v14.2M96.2,320.9h6M96.2,335.1h6M131.4,316.5v16.2M128.4,316.5h6M128.4,332.7h6M99.5,313.5v12.5M96.5,313.5h6M96.5,325.9h6M97.7,316.8v13.8M94.7,316.8h6M94.7,330.6h6M112.8,319.0v10.8M109.8,319.0h6M109.8,329.8h6M94.0,318.8v17.2M91.0,318.8h6M91.0,335.9h6M118.6,322.0v16.4M115.6,322.0h6M115.6,338.4h6M120.3,319.1v17.9M117.3,319.1h6M117.3,337.0h6M114.1,318.3v13.1M111.1,318.3h6M111.1,331.4h6M100.0,323.0v12.2M97.0,323.0h6M97.0,335.2h6M109.0,318.8v14.4M106.0,318.8h6M106.0,333.2h6M100.3,319.2v15.3M97.3,319.2h6M97.3,334.5h6M114.0,318.1v16.5M111.0,318.1h6M111.0,334.6h6M126.0,320.3v10.8M123.0,320.3h6M123.0,331.1h6M94.9,322.6v18.9M91.9,322.6h6M91.9,341.5h6M114.2,319.5v18.3M111.2,319.5h6M111.2,337.8h6M130.1,324.2v17.8M127.1,324.2h6M127.1,342.1h6M126.5,319.5v15.9M123.5,319.5h6M123.5,335.4h6M110.7,324.9v12.7M107.7,324.9h6M107.7,337.7h6M109.3,312.1v12.7M106.3,312.1h6M106.3,324.8h6M124.9,314.7v15.1M121.9,314.7h6M121.9,329.7h6M121.5,320.1v11.0M118.5,320.1h6M118.5,331.1h6M117.4,317.9v18.6M114.4,317.9h6M114.4,336.5h6M121.1,324.9v14.3M118.1,324.9h6M118.1,339.2h6M119.9,325.4v11.4M116.9,325.4h6M116.9,336.8h6M129.3,316.2v13.2M126.3,316.2h6M126.3,329.4h6M127.3,320.8v16.1M124.3,320.8h6M124.3,336.9h6M109.7,317.8v16.7M106.7,317.8h6M106.7,334.5h6M92.3,321.4v16.5M89.3,321.4h6M89.3,337.9h6M112.7,312.2v12.1M109.7,312.2h6M109.7,324.4h6M110.8,315.7v11.0M107.8,315.7h6M107.8,326.7h6M124.3,318.7v15.7M121.3,318.7h6M121.3,334.4h6M92.6,319.4v13.5M89.6,319.4h6M89.6,332.9h6M92.7,322.0v15.1M89.7,322.0h6M89.7,337.1h6M97.7,312.8v16.8M94.7,312.8h6M94.7,329.6h6M130.5,319.4v17.0M127.5,319.4h6M127.5,336.4h6M106.0,325.0v18.7M103.0,325.0h6M103.0,343.7h6M109.4,320.1v19.3M106.4,320.1h6M106.4,339.4h6M92.5,320.7v18.5M89.5,320.7h6M89.5,339.3h6M104.7,318.5v11.3M101.7,318.5h6M101.7,329.8h6M127.2,317.8v15.1M124.2,317.8h6M124.2,332.9h6M91.4,317.7v12.4M88.4,317.7h6M88.4,330.1h6M130.7,318.1v15.2M127.7,318.1h6M127.7,333.2h6M108.8,323.4v19.7M105.8,323.4h6M105.8,343.0h6M111.0,315.0v10.1M108.0,315.0h6M108.0,325.1h6M96.5,316.4v9.5M93.5,316.4h6M93.5,325.9h6M91.3,323.8v13.3M88.3,323.8h6M88.3,337.1h6M107.9,317.9v10.4M104.9,317.9h6M104.9,328.3h6M103.7,319.9v13.8M100.7,319.9h6M100.7,333.7h6M103.3,309.6v11.9M100.3,309.6h6M100.3,321.5h6M128.0,316.7v15.2M125.0,316.7h6M125.0,331.9h6M124.4,318.7v15.3M121.4,318.7h6M121.4,334.0h6M125.8,321.6v15.0M122.8,321.6h6M122.8,336.6h6M116.9,319.6v14.2M113.9,319.6h6M113.9,333.9h6M121.8,316.5v13.9M118.8,316.5h6M118.8,330.4h6M114.9,324.3v15.0M111.9,324.3h6M111.9,339.3h6M107.4,325.1v12.6M104.4,325.1h6M104.4,337.7h6M124.2,316.4v13.9M121.2,316.4h6M121.2,330.3h6M107.5,317.9v16.0M104.5,317.9h6M104.5,333.9h6M94.9,317.8v9.3M91.9,317.8h6M91.9,327.1h6M110.3,313.9v10.3M107.3,313.9h6M107.3,324.1h6M107.8,320.4v15.1M104.8,320.4h6M104.8,335.5h6M117.7,317.7v16.1M114.7,317.7h6M114.7,333.8h6M103.8,314.4v14.5M100.8,314.4h6M100.8,328.8h6M110.7,327.5v16.3M107.7,327.5h6M107.7,343.8h6M93.6,320.8v11.6M90.6,320.8h6M90.6,332.4h6M96.0,326.2v15.6M93.0,326.2h6M93.0,341.8h6M126.9,314.8v12.2M123.9,314.8h6M123.9,326.9h6M94.3,320.7v13.3M91.3,320.7h6M91.3,334.0h6M116.0,316.7v13.9M113.0,316.7h6M113.0,330.5h6M102.5,325.3v15.2M99.5,325.3h6M99.5,340.5h6M121.4,312.1v15.3M118.4,312.1h6M118.4,327.4h6M94.0,321.2v17.4M91.0,321.2h6M91.0,338.6h6M113.6,316.9v13.8M110.6,316.9h6M110.6,330.7h6M101.5,322.4v16.5M98.5,322.4h6M98.5,338.8h6M123.2,323.3v18.1M120.2,323.3h6M120.2,341.5h6M92.9,319.9v13.6M89.9,319.9h6M89.9,333.5h6M91.7,319.6v15.3M88.7,319.6h6M88.7,334.9h6M120.9,314.5v13.2M117.9,314.5h6M117.9,327.6h6M109.0,316.4v11.4M106.0,316.4h6M106.0,327.8h6M117.3,313.9v15.3M114.3,313.9h6M114.3,329.3h6M123.5,312.3v14.4M120.5,312.3h6M120.5,326.7h6M131.3,318.0v16.6M128.3,318.0h6M128.3,334.6h6M97.5,315.3v11.8M94.5,315.3h6M94.5,327.1h6M126.5,317.5v14.2M123.5,317.5h6M123.5,331.7h6M169.7,313.7v14.3M166.7,313.7h6M166.7,328.0h6M151.7,326.7v15.4M148.7,326.7h6M148.7,342.1h6M175.3,319.6v13.5M172.3,319.6h6M172.3,333.1h6M187.6,325.6v12.8M184.6,325.6h6M184.6,338.4h6M188.2,321.5v13.8M185.2,321.5h6M185.2,335.3h6M163.0,316.7v12.9M160.0,316.7h6M160.0,329.6h6M185.8,324.2v15.4M182.8,324.2h6M182.8,339.6h6M164.5,322.7v15.9M161.5,322.7h6M161.5,338.6h6M185.7,321.2v17.0M182.7,321.2h6M182.7,338.1h6M157.9,319.7v18.6M154.9,319.7h6M154.9,338.3h6M147.5,317.7v12.0M144.5,317.7h6M144.5,329.7h6M150.7,320.8v15.3M147.7,320.8h6M147.7,336.1h6M167.6,319.0v13.8M164.6,319.0h6M164.6,332.8h6M159.6,324.5v16.6M156.6,324.5h6M156.6,341.1h6M182.7,326.9v13.9M179.7,326.9h6M179.7,340.8h6M166.6,318.5v18.1M163.6,318.5h6M163.6,336.6h6M152.6,322.1v14.7M149.6,322.1h6M149.6,336.8h6M171.6,317.6v14.5M168.6,317.6h6M168.6,332.2h6M152.8,322.7v16.6M149.8,322.7h6M149.8,339.3h6M155.7,316.5v17.2M152.7,316.5h6M152.7,333.7h6M156.1,318.2v15.1M153.1,318.2h6M153.1,333.2h6M149.3,314.3v12.2M146.3,314.3h6M146.3,326.6h6M164.4,318.2v17.0M161.4,318.2h6M161.4,335.2h6M159.3,321.7v10.6M156.3,321.7h6M156.3,332.3h6M160.4,320.1v12.8M157.4,320.1h6M157.4,333.0h6M186.0,325.5v17.9M183.0,325.5h6M183.0,343.4h6M151.6,315.5v15.0M148.6,315.5h6M148.6,330.5h6M172.6,317.5v12.7M169.6,317.5h6M169.6,330.2h6M172.1,312.9v17.0M169.1,312.9h6M169.1,329.8h6M147.4,319.8v18.6M144.4,319.8h6M144.4,338.4h6M148.8,317.0v16.3M145.8,317.0h6M145.8,333.3h6M148.5,320.4v18.3M145.5,320.4h6M145.5,338.7h6M163.6,321.5v13.8M160.6,321.5h6M160.6,335.3h6M161.4,313.1v18.5M158.4,313.1h6M158.4,331.6h6M150.7,319.4v13.1M147.7,319.4h6M147.7,332.6h6M149.5,315.7v15.6M146.5,315.7h6M146.5,331.3h6M161.8,322.0v17.3M158.8,322.0h6M158.8,339.3h6M168.7,324.4v14.6M165.7,324.4h6M165.7,338.9h6M186.7,317.4v14.1M183.7,317.4h6M183.7,331.5h6M147.2,327.2v17.5M144.2,327.2h6M144.2,344.8h6M156.6,317.7v13.7M153.6,317.7h6M153.6,331.5h6M154.9,323.3v16.8M151.9,323.3h6M151.9,340.0h6M157.4,320.2v16.0M154.4,320.2h6M154.4,336.3h6M168.4,319.1v13.5M165.4,319.1h6M165.4,332.6h6M154.9,319.8v15.0M151.9,319.8h6M151.9,334.8h6M164.0,320.0v13.9M161.0,320.0h6M161.0,333.9h6M182.6,323.9v12.3M179.6,323.9h6M179.6,336.2h6M151.4,320.8v13.7M148.4,320.8h6M148.4,334.6h6M166.2,318.9v16.3M163.2,318.9h6M163.2,335.2h6M187.7,313.5v15.3M184.7,313.5h6M184.7,328.7h6M150.2,308.3v18.7M147.2,308.3h6M147.2,327.0h6M152.4,324.5v16.9M149.4,324.5h6M149.4,341.4h6M148.6,315.2v13.5M145.6,315.2h6M145.6,328.7h6M185.1,314.3v13.5M182.1,314.3h6M182.1,327.7h6M163.0,315.1v16.2M160.0,315.1h6M160.0,331.3h6M186.5,316.3v18.3M183.5,316.3h6M183.5,334.7h6M167.5,317.2v17.0M164.5,317.2h6M164.5,334.2h6M151.3,311.1v15.1M148.3,311.1h6M148.3,326.2h6M185.5,322.6v15.2M182.5,322.6h6M182.5,337.8h6M180.5,322.6v12.2M177.5,322.6h6M177.5,334.8h6M183.2,321.5v13.3M180.2,321.5h6M180.2,334.8h6M151.1,323.2v13.4M148.1,323.2h6M148.1,336.7h6M148.1,320.6v13.5M145.1,320.6h6M145.1,334.1h6M180.4,318.8v9.3M177.4,318.8h6M177.4,328.1h6M155.0,315.3v11.4M152.0,315.3h6M152.0,326.7h6M179.1,322.9v13.6M176.1,322.9h6M176.1,336.5h6M170.3,320.6v17.7M167.3,320.6h6M167.3,338.3h6M153.2,322.8v11.9M150.2,322.8h6M150.2,334.7h6M185.7,324.7v18.8M182.7,324.7h6M182.7,343.5h6M176.1,313.1v13.9M173.1,313.1h6M173.1,327.0h6M181.8,326.3v16.8M178.8,326.3h6M178.8,343.1h6M159.2,323.6v12.6M156.2,323.6h6M156.2,336.2h6M180.5,320.3v13.8M177.5,320.3h6M177.5,334.1h6M153.6,316.8v11.9M150.6,316.8h6M150.6,328.7h6M167.0,323.0v18.5M164.0,323.0h6M164.0,341.5h6M169.2,320.3v14.2M166.2,320.3h6M166.2,334.4h6M156.7,324.4v14.7M153.7,324.4h6M153.7,339.1h6M181.2,325.9v16.6M178.2,325.9h6M178.2,342.4h6M175.4,324.5v17.6M172.4,324.5h6M172.4,342.1h6M167.2,321.7v16.4M164.2,321.7h6M164.2,338.1h6M149.5,315.6v17.4M146.5,315.6h6M146.5,333.1h6M170.6,317.0v16.4M167.6,317.0h6M167.6,333.4h6M147.6,316.5v12.6M144.6,316.5h6M144.6,329.1h6M166.9,320.1v18.5M163.9,320.1h6M163.9,338.6h6M181.3,312.9v14.8M178.3,312.9h6M178.3,327.8h6M149.6,317.4v17.7M146.6,317.4h6M146.6,335.1h6M172.3,315.0v11.6M169.3,315.0h6M169.3,326.7h6M180.6,319.0v16.3M177.6,319.0h6M177.6,335.3h6M148.8,323.3v15.3M145.8,323.3h6M145.8,338.5h6M165.3,324.6v16.8M162.3,324.6h6M162.3,341.4h6M188.4,317.3v17.2M185.4,317.3h6M185.4,334.5h6M164.4,323.8v14.7M161.4,323.8h6M161.4,338.5h6M158.2,323.3v15.3M155.2,323.3h6M155.2,338.6h6M188.0,319.3v12.4M185.0,319.3h6M185.0,331.6h6M186.2,320.8v16.5M183.2,320.8h6M183.2,337.3h6M188.0,319.5v17.3M185.0,319.5h6M185.0,336.8h6M176.2,320.6v15.2M173.2,320.6h6M173.2,335.8h6M180.2,318.3v15.9M177.2,318.3h6M177.2,334.2h6M169.9,323.1v15.8M166.9,323.1h6M166.9,338.9h6M163.1,319.4v13.1M160.1,319.4h6M160.1,332.5h6M175.1,314.9v16.3M172.1,314.9h6M172.1,331.2h6M152.9,327.0v12.6M149.9,327.0h6M149.9,339.6h6M162.7,312.2v16.3M159.7,312.2h6M159.7,328.5h6M149.7,324.1v16.5M146.7,324.1h6M146.7,340.6h6M147.4,316.8v15.0M144.4,316.8h6M144.4,331.8h6M160.4,318.4v14.8M157.4,318.4h6M157.4,333.2h6M167.5,317.1v13.6M164.5,317.1h6M164.5,330.8h6M167.0,318.9v16.6M164.0,318.9h6M164.0,335.5h6M181.6,322.9v16.3M178.6,322.9h6M178.6,339.2h6M173.5,315.8v12.7M170.5,315.8h6M170.5,328.4h6M159.7,323.1v15.1M156.7,323.1h6M156.7,338.2h6M185.6,319.0v15.5M182.6,319.0h6M182.6,334.5h6M170.4,317.9v18.4M167.4,317.9h6M167.4,336.3h6M151.9,322.9v15.3M148.9,322.9h6M148.9,338.2h6M161.1,319.1v14.2M158.1,319.1h6M158.1,333.3h6M164.9,318.6v18.3M161.9,318.6h6M161.9,337.0h6M182.6,310.6v13.5M179.6,310.6h6M179.6,324.2h6M186.3,323.2v13.9M183.3,323.2h6M183.3,337.2h6M160.6,317.2v15.7M157.6,317.2h6M157.6,332.9h6M172.7,311.1v12.9M169.7,311.1h6M169.7,324.0h6M167.0,321.9v15.1M164.0,321.9h6M164.0,337.0h6M148.8,322.3v14.3M145.8,322.3h6M145.8,336.6h6M168.5,322.4v14.8M165.5,322.4h6M165.5,337.2h6M184.0,326.7v17.8M181.0,326.7h6M181.0,344.5h6M156.2,317.0v13.4M153.2,317.0h6M153.2,330.4h6M158.8,326.4v14.6M155.8,326.4h6M155.8,341.0h6M183.0,324.8v13.8M180.0,324.8h6M180.0,338.5h6M175.0,318.7v13.2M172.0,318.7h6M172.0,331.9h6M150.6,323.8v14.7M147.6,323.8h6M147.6,338.5h6M169.0,328.1v19.7M166.0,328.1h6M166.0,347.8h6M161.4,317.2v15.9M158.4,317.2h6M158.4,333.0h6M187.0,316.5v14.0M184.0,316.5h6M184.0,330.5h6M181.1,322.7v12.1M178.1,322.7h6M178.1,334.8h6M176.7,324.8v16.8M173.7,324.8h6M173.7,341.6h6M178.7,316.2v15.1M175.7,316.2h6M175.7,331.3h6M172.2,315.0v14.8M169.2,315.0h6M169.2,329.8h6M183.7,316.4v13.6M180.7,316.4h6M180.7,330.0h6M160.4,318.9v14.3M157.4,318.9h6M157.4,333.2h6M173.7,317.5v14.9M170.7,317.5h6M170.7,332.4h6M169.5,323.6v18.9M166.5,323.6h6M166.5,342.5h6M170.4,327.0v11.7M167.4,327.0h6M167.4,338.7h6M154.9,311.9v11.7M151.9,311.9h6M151.9,323.6h6M173.7,327.1v15.2M170.7,327.1h6M170.7,342.3h6M161.7,319.5v15.8M158.7,319.5h6M158.7,335.4h6M170.4,317.5v11.1M167.4,317.5h6M167.4,328.7h6M149.1,328.1v17.0M146.1,328.1h6M146.1,345.1h6M165.2,315.6v17.6M162.2,315.6h6M162.2,333.2h6M158.5,324.1v17.2M155.5,324.1h6M155.5,341.3h6M149.9,320.6v16.0M146.9,320.6h6M146.9,336.6h6M174.4,319.2v15.5M171.4,319.2h6M171.4,334.7h6M181.0,320.7v17.3M178.0,320.7h6M178.0,338.0h6M150.6,315.1v18.5M147.6,315.1h6M147.6,333.6h6M185.6,320.5v16.1M182.6,320.5h6M182.6,336.6h6M174.9,318.9v13.0M171.9,318.9h6M171.9,331.9h6M156.2,323.3v15.0M153.2,323.3h6M153.2,338.3h6M151.6,315.2v15.0M148.6,315.2h6M148.6,330.2h6M157.0,322.5v18.9M154.0,322.5h6M154.0,341.4h6M182.6,317.0v13.9M179.6,317.0h6M179.6,330.9h6M163.1,312.1v18.0M160.1,312.1h6M160.1,330.1h6M179.8,320.9v16.2M176.8,320.9h6M176.8,337.1h6M163.7,317.4v13.2M160.7,317.4h6M160.7,330.6h6M152.4,318.8v14.2M149.4,318.8h6M149.4,333.0h6M147.5,319.4v10.8M144.5,319.4h6M144.5,330.2h6M162.6,317.1v12.9M159.6,317.1h6M159.6,330.0h6M153.9,314.7v15.9M150.9,314.7h6M150.9,330.6h6M150.6,321.2v13.8M147.6,321.2h6M147.6,335.0h6M186.2,323.3v17.4M183.2,323.3h6M183.2,340.8h6M149.5,319.4v16.6M146.5,319.4h6M146.5,336.0h6M168.0,319.5v11.4M165.0,319.5h6M165.0,330.9h6M183.4,320.1v17.8M180.4,320.1h6M180.4,338.0h6M179.8,314.7v17.1M176.8,314.7h6M176.8,331.9h6M169.6,324.8v18.7M166.6,324.8h6M166.6,343.5h6M166.1,319.2v15.7M163.1,319.2h6M163.1,334.9h6M175.2,324.8v15.1M172.2,324.8h6M172.2,339.9h6M160.6,324.7v15.1M157.6,324.7h6M157.6,339.8h6M157.2,317.9v18.1M154.2,317.9h6M154.2,336.0h6M172.8,319.2v16.3M169.8,319.2h6M169.8,335.5h6M179.6,322.9v18.6M176.6,322.9h6M176.6,341.5h6M156.6,319.6v13.8M153.6,319.6h6M153.6,333.3h6M157.9,322.9v18.1M154.9,322.9h6M154.9,341.0h6M153.5,319.2v17.0M150.5,319.2h6M150.5,336.2h6M166.4,319.9v17.0M163.4,319.9h6M163.4,336.9h6M172.1,319.0v13.4M169.1,319.0h6M169.1,332.3h6M171.8,313.5v16.0M168.8,313.5h6M168.8,329.5h6M158.2,316.7v10.7M155.2,316.7h6M155.2,327.4h6M170.0,318.9v14.4M167.0,318.9h6M167.0,333.3h6M163.5,328.2v15.2M160.5,328.2h6M160.5,343.4h6M173.7,320.8v17.6M170.7,320.8h6M170.7,338.4h6M186.7,319.3v15.5M183.7,319.3h6M183.7,334.8h6M163.1,322.4v11.9M160.1,322.4h6M160.1,334.3h6M167.0,314.3v14.1M164.0,314.3h6M164.0,328.4h6M177.3,312.9v15.9M174.3,312.9h6M174.3,328.8h6M147.3,315.5v13.9M144.3,315.5h6M144.3,329.4h6M188.1,319.2v13.7M185.1,319.2h6M185.1,332.9h6M149.0,315.6v18.9M146.0,315.6h6M146.0,334.5h6M173.3,316.7v14.6M170.3,316.7h6M170.3,331.3h6M150.8,320.4v14.4M147.8,320.4h6M147.8,334.8h6M157.2,322.4v15.9M154.2,322.4h6M154.2,338.3h6M185.9,318.1v16.9M182.9,318.1h6M182.9,334.9h6M170.5,323.6v16.6M167.5,323.6h6M167.5,340.2h6M171.9,324.0v17.9M168.9,324.0h6M168.9,341.8h6M183.7,325.3v18.4M180.7,325.3h6M180.7,343.8h6M162.3,325.3v16.9M159.3,325.3h6M159.3,342.2h6M156.2,314.7v14.3M153.2,314.7h6M153.2,328.9h6M154.7,313.0v11.8M151.7,313.0h6M151.7,324.9h6M185.1,312.4v14.2M182.1,312.4h6M182.1,326.7h6M175.0,318.1v17.2M172.0,318.1h6M172.0,335.4h6M150.8,314.3v13.5M147.8,314.3h6M147.8,327.9h6M151.7,324.6v14.8M148.7,324.6h6M148.7,339.4h6M157.3,316.9v12.9M154.3,316.9h6M154.3,329.7h6M162.7,324.4v14.6M159.7,324.4h6M159.7,339.0h6M160.1,318.0v10.2M157.1,318.0h6M157.1,328.2h6M186.0,317.1v12.7M183.0,317.1h6M183.0,329.8h6M153.2,313.3v9.6M150.2,313.3h6M150.2,322.9h6M151.4,313.1v13.2M148.4,313.1h6M148.4,326.2h6M173.2,311.8v12.9M170.2,311.8h6M170.2,324.8h6M154.8,318.6v17.3M151.8,318.6h6M151.8,335.9h6M185.7,324.1v13.6M182.7,324.1h6M182.7,337.8h6M149.2,318.5v12.7M146.2,318.5h6M146.2,331.2h6M184.9,317.5v16.0M181.9,317.5h6M181.9,333.4h6M148.3,317.3v12.2M145.3,317.3h6M145.3,329.5h6M160.8,324.8v18.1M157.8,324.8h6M157.8,342.9h6M169.6,320.5v15.0M166.6,320.5h6M166.6,335.5h6M151.2,316.0v14.7M148.2,316.0h6M148.2,330.8h6M148.1,324.8v16.2M145.1,324.8h6M145.1,341.1h6M166.3,318.1v15.0M163.3,318.1h6M163.3,333.1h6M167.4,322.8v12.2M164.4,322.8h6M164.4,335.0h6M151.9,320.4v18.8M148.9,320.4h6M148.9,339.2h6M153.8,322.1v18.2M150.8,322.1h6M150.8,340.3h6M163.3,314.1v16.8M160.3,314.1h6M160.3,330.9h6M185.9,316.5v11.9M182.9,316.5h6M182.9,328.4h6M185.2,322.6v16.7M182.2,322.6h6M182.2,339.3h6M176.9,316.1v11.5M173.9,316.1h6M173.9,327.7h6M186.7,322.2v16.3M183.7,322.2h6M183.7,338.5h6M183.6,320.0v15.9M180.6,320.0h6M180.6,335.8h6M177.6,321.4v18.8M174.6,321.4h6M174.6,340.2h6M173.1,319.4v16.4M170.1,319.4h6M170.1,335.8h6M154.9,315.1v13.3M151.9,315.1h6M151.9,328.5h6M147.7,316.9v13.5M144.7,316.9h6M144.7,330.3h6M186.3,316.4v11.7M183.3,316.4h6M183.3,328.1h6M173.5,319.7v20.5M170.5,319.7h6M170.5,340.2h6M183.4,320.2v14.4M180.4,320.2h6M180.4,334.5h6M180.3,316.4v11.3M177.3,316.4h6M177.3,327.7h6M167.6,315.9v13.6M164.6,315.9h6M164.6,329.5h6M165.8,319.0v13.0M162.8,319.0h6M162.8,332.0h6M158.8,318.2v12.4M155.8,318.2h6M155.8,330.6h6M178.5,319.4v15.5M175.5,319.4h6M175.5,335.0h6M169.7,312.9v13.8M166.7,312.9h6M166.7,326.7h6M168.4,321.1v11.7M165.4,321.1h6M165.4,332.7h6M170.8,322.0v15.7M167.8,322.0h6M167.8,337.7h6M147.6,316.5v15.6M144.6,316.5h6M144.6,332.2h6M182.8,321.3v15.6M179.8,321.3h6M179.8,336.9h6M186.4,324.1v20.8M183.4,324.1h6M183.4,344.9h6M166.9,316.0v12.6M163.9,316.0h6M163.9,328.6h6M169.4,324.5v14.8M166.4,324.5h6M166.4,339.3h6M155.9,316.0v12.7M152.9,316.0h6M152.9,328.7h6M176.3,316.9v13.9M173.3,316.9h6M173.3,330.8h6M161.6,324.1v16.5M158.6,324.1h6M158.6,340.7h6M162.2,320.8v16.5M159.2,320.8h6M159.2,337.3h6M182.8,316.2v12.1M179.8,316.2h6M179.8,328.2h6M177.7,314.1v14.9M174.7,314.1h6M174.7,329.0h6M188.5,315.5v11.9M185.5,315.5h6M185.5,327.5h6M157.9,322.6v19.1M154.9,322.6h6M154.9,341.7h6M182.4,318.3v13.8M179.4,318.3h6M179.4,332.1h6M152.7,322.1v19.4M149.7,322.1h6M149.7,341.6h6M164.8,320.9v21.7M161.8,320.9h6M161.8,342.6h6M157.2,311.7v11.3M154.2,311.7h6M154.2,323.0h6M178.0,317.3v14.0M175.0,317.3h6M175.0,331.3h6M178.4,329.3v17.4M175.4,329.3h6M175.4,346.6h6M158.5,325.1v15.5M155.5,325.1h6M155.5,340.6h6M159.1,322.5v14.6M156.1,322.5h6M156.1,337.0h6M160.6,314.3v15.1M157.6,314.3h6M157.6,329.5h6M157.6,319.7v12.0M154.6,319.7h6M154.6,331.7h6M155.1,319.4v12.5M152.1,319.4h6M152.1,331.9h6M175.3,322.1v17.0M172.3,322.1h6M172.3,339.1h6M168.0,328.5v18.1M165.0,328.5h6M165.0,346.6h6M169.8,314.0v14.7M166.8,314.0h6M166.8,328.7h6M184.6,312.8v16.2M181.6,312.8h6M181.6,329.1h6M187.0,320.8v11.4M184.0,320.8h6M184.0,332.3h6M158.8,322.9v18.9M155.8,322.9h6M155.8,341.8h6M164.2,317.4v18.2M161.2,317.4h6M161.2,335.6h6M169.0,321.8v14.0M166.0,321.8h6M166.0,335.8h6M186.4,320.2v13.7M183.4,320.2h6M183.4,333.8h6M158.9,318.6v14.3M155.9,318.6h6M155.9,332.9h6M181.9,318.6v13.5M178.9,318.6h6M178.9,332.1h6M151.5,327.2v19.8M148.5,327.2h6M148.5,347.0h6M183.8,322.2v16.5M180.8,322.2h6M180.8,338.7h6M178.4,323.0v17.4M175.4,323.0h6M175.4,340.4h6M175.3,311.8v11.9M172.3,311.8h6M172.3,323.7h6M153.7,320.4v14.9M150.7,320.4h6M150.7,335.2h6M153.9,317.3v12.1M150.9,317.3h6M150.9,329.4h6M153.4,320.6v15.2M150.4,320.6h6M150.4,335.8h6M169.8,322.2v16.0M166.8,322.2h6M166.8,338.2h6M174.0,317.6v14.6M171.0,317.6h6M171.0,332.2h6M155.4,322.3v14.3M152.4,322.3h6M152.4,336.6h6M151.1,321.0v19.2M148.1,321.0h6M148.1,340.2h6M176.4,311.9v13.0M173.4,311.9h6M173.4,324.9h6M168.0,314.9v13.9M165.0,314.9h6M165.0,328.8h6M158.8,317.8v15.0M155.8,317.8h6M155.8,332.8h6M159.9,321.9v15.8M156.9,321.9h6M156.9,337.7h6M184.1,320.4v12.1M181.1,320.4h6M181.1,332.5h6M152.3,325.1v17.0M149.3,325.1h6M149.3,342.1h6M156.3,323.3v16.0M153.3,323.3h6M153.3,339.3h6M180.5,320.3v14.0M177.5,320.3h6M177.5,334.3h6M170.1,318.1v17.7M167.1,318.1h6M167.1,335.8h6M154.6,319.3v15.4M151.6,319.3h6M151.6,334.6h6M148.0,324.5v16.9M145.0,324.5h6M145.0,341.4h6M174.4,319.3v17.2M171.4,319.3h6M171.4,336.5h6M181.8,314.7v18.3M178.8,314.7h6M178.8,332.9h6M150.2,322.1v15.9M147.2,322.1h6M147.2,338.0h6M151.4,322.1v12.5M148.4,322.1h6M148.4,334.6h6M185.2,325.6v21.5M182.2,325.6h6M182.2,347.1h6M174.4,314.8v13.3M171.4,314.8h6M171.4,328.1h6M174.8,319.7v15.8M171.8,319.7h6M171.8,335.4h6M171.2,317.0v14.2M168.2,317.0h6M168.2,331.2h6M186.0,315.7v12.1M183.0,315.7h6M183.0,327.8h6M148.5,315.0v15.7M145.5,315.0h6M145.5,330.7h6M176.5,319.0v9.5M173.5,319.0h6M173.5,328.5h6M178.9,319.5v13.0M175.9,319.5h6M175.9,332.5h6M183.4,317.7v13.8M180.4,317.7h6M180.4,331.5h6M178.1,317.9v13.6M175.1,317.9h6M175.1,331.5h6M182.0,318.2v16.2M179.0,318.2h6M179.0,334.5h6M171.0,320.3v12.5M168.0,320.3h6M168.0,332.8h6M164.1,315.7v17.2M161.1,315.7h6M161.1,332.9h6M164.2,319.6v17.3M161.2,319.6h6M161.2,336.9h6M150.4,319.0v11.0M147.4,319.0h6M147.4,329.9h6M162.0,319.1v17.4M159.0,319.1h6M159.0,336.5h6M181.4,322.1v16.8M178.4,322.1h6M178.4,338.9h6M168.8,322.1v15.0M165.8,322.1h6M165.8,337.1h6M164.9,311.7v15.6M161.9,311.7h6M161.9,327.3h6M156.7,313.1v13.6M153.7,313.1h6M153.7,326.7h6M147.6,315.1v15.9M144.6,315.1h6M144.6,331.0h6M171.5,318.7v16.2M168.5,318.7h6M168.5,334.9h6M170.2,317.1v13.8M167.2,317.1h6M167.2,330.9h6M179.9,327.2v14.3M176.9,327.2h6M176.9,341.4h6M184.7,321.2v15.0M181.7,321.2h6M181.7,336.2h6M166.2,321.1v11.8M163.2,321.1h6M163.2,332.9h6M178.1,322.5v14.9M175.1,322.5h6M175.1,337.4h6M168.5,321.1v16.3M165.5,321.1h6M165.5,337.4h6M182.2,325.9v13.0M179.2,325.9h6M179.2,338.9h6M162.1,322.3v16.3M159.1,322.3h6M159.1,338.7h6M163.8,324.9v21.1M160.8,324.9h6M160.8,345.9h6M161.7,314.1v19.8M158.7,314.1h6M158.7,333.9h6M165.3,316.3v16.8M162.3,316.3h6M162.3,333.0h6M182.4,321.9v17.4M179.4,321.9h6M179.4,339.3h6M170.0,313.8v14.0M167.0,313.8h6M167.0,327.8h6M176.7,323.9v15.8M173.7,323.9h6M173.7,339.6h6M147.8,316.7v13.3M144.8,316.7h6M144.8,330.0h6M149.8,316.3v15.7M146.8,316.3h6M146.8,332.1h6M162.6,315.3v10.0M159.6,315.3h6M159.6,325.2h6M165.0,318.9v11.9M162.0,318.9h6M162.0,330.8h6M158.4,322.1v10.8M155.4,322.1h6M155.4,333.0h6M156.1,317.3v12.2M153.1,317.3h6M153.1,329.5h6M154.3,320.4v13.9M151.3,320.4h6M151.3,334.3h6M184.0,327.6v20.2M181.0,327.6h6M181.0,347.8h6M150.2,325.1v15.1M147.2,325.1h6M147.2,340.2h6M159.3,322.1v16.1M156.3,322.1h6M156.3,338.2h6M169.3,318.3v17.0M166.3,318.3h6M166.3,335.3h6M173.5,321.2v16.2M170.5,321.2h6M170.5,337.3h6M166.4,326.2v16.1M163.4,326.2h6M163.4,342.3h6M149.1,323.1v12.9M146.1,323.1h6M146.1,336.0h6M178.1,322.1v15.7M175.1,322.1h6M175.1,337.8h6M169.3,316.2v12.0M166.3,316.2h6M166.3,328.2h6M158.6,321.6v15.7M155.6,321.6h6M155.6,337.3h6M183.8,320.1v16.3M180.8,320.1h6M180.8,336.4h6M185.9,317.2v13.0M182.9,317.2h6M182.9,330.2h6M162.6,325.3v12.7M159.6,325.3h6M159.6,338.0h6M168.6,321.2v17.1M165.6,321.2h6M165.6,338.3h6M178.0,314.7v12.0M175.0,314.7h6M175.0,326.7h6M177.4,316.4v12.3M174.4,316.4h6M174.4,328.7h6M163.9,324.2v16.3M160.9,324.2h6M160.9,340.5h6M177.5,318.1v18.2M174.5,318.1h6M174.5,336.3h6M162.6,319.5v12.8M159.6,319.5h6M159.6,332.3h6M179.0,313.9v13.7M176.0,313.9h6M176.0,327.6h6M152.1,313.9v10.9M149.1,313.9h6M149.1,324.8h6M186.1,315.0v14.1M183.1,315.0h6M183.1,329.2h6M148.8,316.9v15.3M145.8,316.9h6M145.8,332.2h6M186.9,324.2v15.0M183.9,324.2h6M183.9,339.2h6M177.8,322.6v11.3M174.8,322.6h6M174.8,333.9h6M152.3,316.4v14.9M149.3,316.4h6M149.3,331.3h6M181.3,322.0v14.0M178.3,322.0h6M178.3,336.0h6M167.2,315.5v16.4M164.2,315.5h6M164.2,331.9h6M172.1,319.9v15.7M169.1,319.9h6M169.1,335.6h6M154.6,316.9v13.0M151.6,316.9h6M151.6,329.9h6M165.9,325.6v13.0M162.9,325.6h6M162.9,338.6h6M169.5,320.7v18.4M166.5,320.7h6M166.5,339.1h6M155.6,311.5v15.2M152.6,311.5h6M152.6,326.7h6M164.5,318.1v17.3M161.5,318.1h6M161.5,335.4h6M180.2,316.9v14.0M177.2,316.9h6M177.2,331.0h6M168.2,319.7v15.7M165.2,319.7h6M165.2,335.4h6M155.6,324.2v15.8M152.6,324.2h6M152.6,340.0h6M186.4,317.1v11.7M183.4,317.1h6M183.4,328.8h6M155.7,323.6v18.4M152.7,323.6h6M152.7,342.0h6M168.6,325.0v15.8M165.6,325.0h6M165.6,340.8h6M163.3,316.8v16.2M160.3,316.8h6M160.3,333.0h6M184.3,321.9v12.3M181.3,321.9h6M181.3,334.1h6M187.4,320.4v13.5M184.4,320.4h6M184.4,334.0h6M187.1,319.9v14.5M184.1,319.9h6M184.1,334.5h6M182.3,316.0v13.4M179.3,316.0h6M179.3,329.4h6M158.8,317.4v12.2M155.8,317.4h6M155.8,329.6h6M167.1,313.4v15.2M164.1,313.4h6M164.1,328.6h6M188.4,326.2v18.7M185.4,326.2h6M185.4,344.8h6M158.1,323.4v11.2M155.1,323.4h6M155.1,334.6h6M147.4,320.6v16.0M144.4,320.6h6M144.4,336.6h6M157.0,315.9v14.5M154.0,315.9h6M154.0,330.3h6M166.9,317.2v13.5M163.9,317.2h6M163.9,330.6h6M147.2,319.5v12.8M144.2,319.5h6M144.2,332.2h6M156.6,315.4v11.7M153.6,315.4h6M153.6,327.0h6M150.3,323.3v17.6M147.3,323.3h6M147.3,340.9h6M167.8,324.3v20.2M164.8,324.3h6M164.8,344.5h6M183.7,322.0v15.0M180.7,322.0h6M180.7,337.0h6M150.3,315.5v11.8M147.3,315.5h6M147.3,327.3h6M168.3,324.8v16.1M165.3,324.8h6M165.3,341.0h6M150.9,315.7v10.4M147.9,315.7h6M147.9,326.1h6M186.0,313.0v14.4M183.0,313.0h6M183.0,327.4h6M165.3,315.4v14.4M162.3,315.4h6M162.3,329.7h6M167.6,321.9v10.0M164.6,321.9h6M164.6,331.9h6M149.3,318.6v15.7M146.3,318.6h6M146.3,334.3h6M157.8,323.8v14.7M154.8,323.8h6M154.8,338.5h6M149.2,321.0v14.9M146.2,321.0h6M146.2,336.0h6M177.7,318.5v16.2M174.7,318.5h6M174.7,334.7h6M182.8,321.0v12.8M179.8,321.0h6M179.8,333.8h6M152.6,318.4v14.9M149.6,318.4h6M149.6,333.2h6M158.8,329.9v14.6M155.8,329.9h6M155.8,344.5h6M149.4,320.1v13.8M146.4,320.1h6M146.4,333.8h6M178.5,320.5v12.7M175.5,320.5h6M175.5,333.2h6M168.8,320.8v14.5M165.8,320.8h6M165.8,335.3h6M177.9,312.2v12.0M174.9,312.2h6M174.9,324.2h6M178.8,320.2v12.9M175.8,320.2h6M175.8,333.1h6M158.4,322.5v14.3M155.4,322.5h6M155.4,336.8h6M180.0,319.6v12.9M177.0,319.6h6M177.0,332.5h6M180.6,311.9v12.1M177.6,311.9h6M177.6,324.0h6M164.0,320.7v13.5M161.0,320.7h6M161.0,334.2h6M187.0,319.0v13.8M184.0,319.0h6M184.0,332.8h6M173.9,314.2v15.6M170.9,314.2h6M170.9,329.8h6M161.9,321.5v13.5M158.9,321.5h6M158.9,334.9h6M174.3,311.6v11.7M171.3,311.6h6M171.3,323.3h6M163.5,325.5v17.4M160.5,325.5h6M160.5,342.9h6M180.9,322.9v13.9M177.9,322.9h6M177.9,336.8h6M180.1,314.4v18.0M177.1,314.4h6M177.1,332.4h6M168.6,312.9v14.3M165.6,312.9h6M165.6,327.2h6M175.6,311.1v15.2M172.6,311.1h6M172.6,326.3h6M174.1,312.0v18.1M171.1,312.0h6M171.1,330.2h6M162.1,310.6v18.5M159.1,310.6h6M159.1,329.2h6M188.0,328.4v18.1M185.0,328.4h6M185.0,346.5h6M172.0,314.8v11.3M169.0,314.8h6M169.0,326.2h6M187.0,317.6v21.4M184.0,317.6h6M184.0,339.0h6M165.4,326.2v19.5M162.4,326.2h6M162.4,345.7h6M188.1,316.2v17.2M185.1,316.2h6M185.1,333.4h6M163.2,316.3v15.6M160.2,316.3h6M160.2,331.8h6M183.1,318.4v15.8M180.1,318.4h6M180.1,334.1h6M188.2,319.2v13.7M185.2,319.2h6M185.2,332.8h6M183.3,320.6v19.3M180.3,320.6h6M180.3,339.9h6M152.8,321.7v14.0M149.8,321.7h6M149.8,335.7h6M172.9,320.0v15.4M169.9,320.0h6M169.9,335.3h6M152.8,313.0v13.3M149.8,313.0h6M149.8,326.3h6M177.1,318.5v13.6M174.1,318.5h6M174.1,332.1h6M164.9,315.8v14.7M161.9,315.8h6M161.9,330.5h6M154.5,317.6v17.6M151.5,317.6h6M151.5,335.3h6M171.0,312.7v16.9M168.0,312.7h6M168.0,329.6h6M182.4,312.4v10.0M179.4,312.4h6M179.4,322.4h6M149.4,312.2v18.3M146.4,312.2h6M146.4,330.5h6M186.0,317.8v15.7M183.0,317.8h6M183.0,333.6h6M171.3,326.0v16.0M168.3,326.0h6M168.3,342.0h6M183.4,320.4v16.5M180.4,320.4h6M180.4,336.9h6M170.9,320.6v15.9M167.9,320.6h6M167.9,336.5h6M159.1,314.6v12.0M156.1,314.6h6M156.1,326.7h6M153.5,322.3v15.2M150.5,322.3h6M150.5,337.5h6M178.7,324.6v16.9M175.7,324.6h6M175.7,341.4h6M186.8,318.6v16.7M183.8,318.6h6M183.8,335.3h6M174.6,320.7v16.8M171.6,320.7h6M171.6,337.5h6M153.1,323.3v16.8M150.1,323.3h6M150.1,340.1h6M179.5,323.6v16.7M176.5,323.6h6M176.5,340.3h6M163.1,314.8v15.1M160.1,314.8h6M160.1,329.9h6M174.5,317.6v17.0M171.5,317.6h6M171.5,334.6h6M148.5,319.5v16.2M145.5,319.5h6M145.5,335.7h6M154.9,323.1v15.7M151.9,323.1h6M151.9,338.8h6M174.1,315.9v14.7M171.1,315.9h6M171.1,330.6h6M166.0,319.7v15.1M163.0,319.7h6M163.0,334.8h6M167.4,325.0v17.7M164.4,325.0h6M164.4,342.7h6M168.7,323.1v14.9M165.7,323.1h6M165.7,338.0h6M178.6,316.1v13.9M175.6,316.1h6M175.6,330.0h6M169.8,321.9v20.6M166.8,321.9h6M166.8,342.6h6M159.2,319.4v12.2M156.2,319.4h6M156.2,331.7h6M150.8,316.1v14.7M147.8,316.1h6M147.8,330.7h6M185.7,316.7v9.6M182.7,316.7h6M182.7,326.4h6M162.7,322.8v15.7M159.7,322.8h6M159.7,338.5h6M169.7,326.3v14.0M166.7,326.3h6M166.7,340.2h6M185.0,318.7v10.3M182.0,318.7h6M182.0,329.0h6M168.4,319.3v15.0M165.4,319.3h6M165.4,334.4h6M147.7,317.1v12.3M144.7,317.1h6M144.7,329.3h6M179.5,322.2v15.6M176.5,322.2h6M176.5,337.9h6M164.6,319.9v17.9M161.6,319.9h6M161.6,337.8h6M170.9,322.0v16.1M167.9,322.0h6M167.9,338.1h6M168.4,317.0v16.0M165.4,317.0h6M165.4,333.0h6M166.3,314.3v12.7M163.3,314.3h6M163.3,327.1h6M168.4,320.2v16.7M165.4,320.2h6M165.4,336.9h6M186.2,327.3v17.3M183.2,327.3h6M183.2,344.6h6M184.6,316.2v8.4M181.6,316.2h6M181.6,324.6h6M166.0,319.9v16.9M163.0,319.9h6M163.0,336.8h6M168.6,320.0v11.2M165.6,320.0h6M165.6,331.2h6M184.8,313.5v8.9M181.8,313.5h6M181.8,322.4h6M176.3,320.2v12.8M173.3,320.2h6M173.3,333.0h6M170.5,323.5v15.6M167.5,323.5h6M167.5,339.1h6M154.9,318.4v17.2M151.9,318.4h6M151.9,335.5h6M148.3,324.3v13.5M145.3,324.3h6M145.3,337.8h6M149.2,320.7v16.9M146.2,320.7h6M146.2,337.6h6M147.7,323.7v13.9M144.7,323.7h6M144.7,337.6h6M185.7,316.2v13.6M182.7,316.2h6M182.7,329.8h6M157.6,313.3v13.9M154.6,313.3h6M154.6,327.2h6M150.2,317.1v15.7M147.2,317.1h6M147.2,332.8h6M173.6,312.9v14.3M170.6,312.9h6M170.6,327.1h6M153.6,317.6v17.4M150.6,317.6h6M150.6,335.0h6M178.2,316.7v10.6M175.2,316.7h6M175.2,327.3h6M172.0,316.9v16.2M169.0,316.9h6M169.0,333.1h6M181.0,318.3v13.5M178.0,318.3h6M178.0,331.8h6M173.2,315.5v11.1M170.2,315.5h6M170.2,326.6h6M183.1,323.2v16.3M180.1,323.2h6M180.1,339.5h6M184.4,320.3v18.6M181.4,320.3h6M181.4,338.9h6M147.2,324.9v14.2M144.2,324.9h6M144.2,339.1h6M184.6,326.8v13.3M181.6,326.8h6M181.6,340.2h6M173.7,317.3v12.7M170.7,317.3h6M170.7,329.9h6M151.5,312.8v10.9M148.5,312.8h6M148.5,323.8h6M163.1,318.9v14.8M160.1,318.9h6M160.1,333.7h6M177.9,326.4v17.2M174.9,326.4h6M174.9,343.7h6M177.4,319.9v11.1M174.4,319.9h6M174.4,331.0h6M188.4,317.8v16.6M185.4,317.8h6M185.4,334.4h6M171.8,316.7v15.9M168.8,316.7h6M168.8,332.6h6M176.0,315.2v12.1M173.0,315.2h6M173.0,327.3h6M181.0,317.1v17.5M178.0,317.1h6M178.0,334.6h6M147.4,319.1v12.6M144.4,319.1h6M144.4,331.7h6M158.2,316.4v15.9M155.2,316.4h6M155.2,332.3h6M157.0,319.6v13.8M154.0,319.6h6M154.0,333.4h6M188.3,315.7v18.3M185.3,315.7h6M185.3,333.9h6M188.1,320.9v11.7M185.1,320.9h6M185.1,332.6h6M158.2,314.5v13.5M155.2,314.5h6M155.2,328.0h6M151.2,321.4v16.6M148.2,321.4h6M148.2,338.0h6M154.7,319.1v16.5M151.7,319.1h6M151.7,335.6h6M175.5,318.6v17.2M172.5,318.6h6M172.5,335.9h6M158.9,315.6v12.6M155.9,315.6h6M155.9,328.1h6M175.2,316.6v13.4M172.2,316.6h6M172.2,330.0h6M185.4,315.9v16.0M182.4,315.9h6M182.4,331.9h6M178.9,328.3v14.2M175.9,328.3h6M175.9,342.5h6M178.2,313.0v13.4M175.2,313.0h6M175.2,326.4h6M174.8,322.7v15.8M171.8,322.7h6M171.8,338.6h6M178.1,317.5v14.3M175.1,317.5h6M175.1,331.8h6M170.5,321.7v14.0M167.5,321.7h6M167.5,335.7h6M181.7,319.5v16.1M178.7,319.5h6M178.7,335.6h6M177.8,317.5v16.0M174.8,317.5h6M174.8,333.5h6M155.9,322.4v15.3M152.9,322.4h6M152.9,337.7h6M148.4,322.3v17.7M145.4,322.3h6M145.4,340.0h6M183.8,320.5v17.0M180.8,320.5h6M180.8,337.6h6M175.4,315.2v17.5M172.4,315.2h6M172.4,332.7h6M158.7,319.6v14.1M155.7,319.6h6M155.7,333.7h6M184.9,315.2v13.2M181.9,315.2h6M181.9,328.4h6M159.5,322.2v19.2M156.5,322.2h6M156.5,341.4h6M158.3,312.2v11.0M155.3,312.2h6M155.3,323.2h6M174.3,319.1v12.5M171.3,319.1h6M171.3,331.6h6M180.0,313.9v15.5M177.0,313.9h6M177.0,329.5h6M159.9,314.2v14.6M156.9,314.2h6M156.9,328.8h6M173.5,321.0v14.4M170.5,321.0h6M170.5,335.4h6M157.4,312.5v14.6M154.4,312.5h6M154.4,327.1h6M167.7,325.7v17.4M164.7,325.7h6M164.7,343.2h6M168.8,318.9v12.9M165.8,318.9h6M165.8,331.8h6M152.1,320.0v14.6M149.1,320.0h6M149.1,334.6h6M157.7,321.2v18.4M154.7,321.2h6M154.7,339.6h6M159.7,317.3v18.2M156.7,317.3h6M156.7,335.5h6M178.1,317.6v19.0M175.1,317.6h6M175.1,336.5h6M185.7,318.9v16.2M182.7,318.9h6M182.7,335.1h6M169.7,326.9v12.2M166.7,326.9h6M166.7,339.2h6M152.3,326.0v16.7M149.3,326.0h6M149.3,342.6h6M167.5,315.5v17.1M164.5,315.5h6M164.5,332.6h6M176.9,321.4v15.4M173.9,321.4h6M173.9,336.9h6M150.7,321.0v14.5M147.7,321.0h6M147.7,335.5h6M147.5,320.9v17.9M144.5,320.9h6M144.5,338.8h6M173.6,318.9v15.9M170.6,318.9h6M170.6,334.8h6M166.2,323.0v17.9M163.2,323.0h6M163.2,340.9h6M178.3,320.1v13.5M175.3,320.1h6M175.3,333.6h6M175.9,321.8v14.7M172.9,321.8h6M172.9,336.5h6M164.5,316.9v18.3M161.5,316.9h6M161.5,335.2h6M151.2,324.5v14.4M148.2,324.5h6M148.2,338.9h6M149.5,317.8v14.2M146.5,317.8h6M146.5,331.9h6M167.8,319.7v13.8M164.8,319.7h6M164.8,333.5h6M156.3,321.8v15.6M153.3,321.8h6M153.3,337.4h6M180.6,326.9v17.8M177.6,326.9h6M177.6,344.7h6M166.2,320.2v10.2M163.2,320.2h6M163.2,330.4h6M157.7,319.5v15.7M154.7,319.5h6M154.7,335.3h6M186.0,326.2v14.2M183.0,326.2h6M183.0,340.4h6M176.5,317.8v14.9M173.5,317.8h6M173.5,332.6h6M174.8,318.0v16.6M171.8,318.0h6M171.8,334.6h6M152.0,317.9v14.2M149.0,317.9h6M149.0,332.1h6M172.8,316.4v16.7M169.8,316.4h6M169.8,333.1h6M149.2,318.9v13.9M146.2,318.9h6M146.2,332.9h6M170.8,321.2v12.4M167.8,321.2h6M167.8,333.6h6M181.2,316.2v15.4M178.2,316.2h6M178.2,331.6h6M156.1,323.9v15.2M153.1,323.9h6M153.1,339.1h6M173.5,321.2v12.9M170.5,321.2h6M170.5,334.2h6M162.2,318.2v15.5M159.2,318.2h6M159.2,333.7h6M181.7,323.6v15.8M178.7,323.6h6M178.7,339.4h6M153.0,323.6v16.6M150.0,323.6h6M150.0,340.2h6M159.3,322.9v16.9M156.3,322.9h6M156.3,339.8h6M154.5,314.5v16.6M151.5,314.5h6M151.5,331.1h6M163.4,324.8v13.9M160.4,324.8h6M160.4,338.7h6M163.1,317.5v16.6M160.1,317.5h6M160.1,334.1h6M186.8,317.4v16.8M183.8,317.4h6M183.8,334.2h6M172.5,318.8v16.4M169.5,318.8h6M169.5,335.3h6M176.8,325.9v16.7M173.8,325.9h6M173.8,342.7h6M150.0,321.4v16.1M147.0,321.4h6M147.0,337.5h6M150.2,317.3v15.4M147.2,317.3h6M147.2,332.7h6M171.6,321.9v17.1M168.6,321.9h6M168.6,339.0h6M147.6,318.7v17.0M144.6,318.7h6M144.6,335.8h6M174.6,326.0v16.5M171.6,326.0h6M171.6,342.5h6M161.5,321.9v14.1M158.5,321.9h6M158.5,336.0h6M160.4,317.5v10.5M157.4,317.5h6M157.4,328.0h6M147.8,317.4v13.4M144.8,317.4h6M144.8,330.8h6M178.3,320.5v16.1M175.3,320.5h6M175.3,336.5h6M158.1,316.3v10.6M155.1,316.3h6M155.1,326.9h6M182.5,315.0v15.8M179.5,315.0h6M179.5,330.8h6M183.8,317.1v15.6M180.8,317.1h6M180.8,332.6h6M176.2,318.9v13.7M173.2,318.9h6M173.2,332.6h6M169.1,323.8v12.4M166.1,323.8h6M166.1,336.2h6M156.8,322.3v14.9M153.8,322.3h6M153.8,337.2h6M165.9,322.7v17.0M162.9,322.7h6M162.9,339.6h6M152.7,317.8v17.9M149.7,317.8h6M149.7,335.7h6M158.6,315.4v14.5M155.6,315.4h6M155.6,329.9h6M148.5,324.0v18.0M145.5,324.0h6M145.5,341.9h6M183.1,315.8v17.4M180.1,315.8h6M180.1,333.2h6M164.0,320.4v14.1M161.0,320.4h6M161.0,334.5h6M179.0,315.6v13.4M176.0,315.6h6M176.0,329.1h6M155.4,317.1v13.2M152.4,317.1h6M152.4,330.4h6M165.5,315.9v16.7M162.5,315.9h6M162.5,332.6h6M154.8,321.6v12.6M151.8,321.6h6M151.8,334.2h6M153.2,313.6v11.8M150.2,313.6h6M150.2,325.4h6M173.1,312.2v16.0M170.1,312.2h6M170.1,328.2h6M157.2,325.1v16.1M154.2,325.1h6M154.2,341.2h6M181.6,319.9v15.2M178.6,319.9h6M178.6,335.2h6M179.0,315.2v19.4M176.0,315.2h6M176.0,334.6h6M158.9,322.2v15.4M155.9,322.2h6M155.9,337.6h6M159.2,321.5v15.1M156.2,321.5h6M156.2,336.6h6M179.4,317.9v14.5M176.4,317.9h6M176.4,332.5h6M183.0,315.8v8.9M180.0,315.8h6M180.0,324.6h6M173.9,321.4v16.2M170.9,321.4h6M170.9,337.6h6M179.2,311.3v15.0M176.2,311.3h6M176.2,326.3h6M179.9,320.2v16.6M176.9,320.2h6M176.9,336.8h6M176.5,318.8v15.2M173.5,318.8h6M173.5,334.0h6M183.7,319.8v15.2M180.7,319.8h6M180.7,335.0h6M168.4,318.1v14.8M165.4,318.1h6M165.4,332.9h6M180.2,319.1v14.8M177.2,319.1h6M177.2,333.8h6M182.2,320.9v10.8M179.2,320.9h6M179.2,331.7h6M183.7,316.7v12.4M180.7,316.7h6M180.7,329.1h6M168.7,324.5v14.9M165.7,324.5h6M165.7,339.5h6M161.6,315.5v13.6M158.6,315.5h6M158.6,329.1h6M168.5,319.6v15.1M165.5,319.6h6M165.5,334.7h6M160.1,317.6v15.0M157.1,317.6h6M157.1,332.6h6M184.4,316.8v16.0M181.4,316.8h6M181.4,332.8h6M184.6,314.8v13.9M181.6,314.8h6M181.6,328.8h6M167.0,319.0v11.8M164.0,319.0h6M164.0,330.8h6M156.5,325.4v15.9M153.5,325.4h6M153.5,341.3h6M148.0,318.5v13.7M145.0,318.5h6M145.0,332.2h6M172.4,312.9v12.4M169.4,312.9h6M169.4,325.3h6M166.2,317.7v15.3M163.2,317.7h6M163.2,333.0h6M159.5,318.1v15.5M156.5,318.1h6M156.5,333.6h6M161.0,316.9v15.4M158.0,316.9h6M158.0,332.3h6M175.0,313.2v13.1M172.0,313.2h6M172.0,326.3h6M158.3,314.0v12.2M155.3,314.0h6M155.3,326.2h6M178.0,316.7v16.7M175.0,316.7h6M175.0,333.4h6M151.2,321.8v13.9M148.2,321.8h6M148.2,335.7h6M158.5,312.2v11.9M155.5,312.2h6M155.5,324.2h6M179.3,318.2v12.2M176.3,318.2h6M176.3,330.4h6M181.6,320.7v14.3M178.6,320.7h6M178.6,334.9h6M175.5,320.9v12.5M172.5,320.9h6M172.5,333.4h6M157.2,320.1v18.9M154.2,320.1h6M154.2,339.0h6M163.3,318.8v12.2M160.3,318.8h6M160.3,331.0h6M158.8,318.5v13.6M155.8,318.5h6M155.8,332.1h6M157.6,319.4v14.2M154.6,319.4h6M154.6,333.6h6M166.6,319.7v16.8M163.6,319.7h6M163.6,336.5h6M188.4,327.5v18.1M185.4,327.5h6M185.4,345.5h6M186.7,319.5v17.9M183.7,319.5h6M183.7,337.4h6M167.2,319.3v10.7M164.2,319.3h6M164.2,330.0h6M184.5,315.7v15.1M181.5,315.7h6M181.5,330.7h6M182.0,317.4v12.3M179.0,317.4h6M179.0,329.7h6M177.7,310.7v16.5M174.7,310.7h6M174.7,327.2h6M164.8,316.2v15.2M161.8,316.2h6M161.8,331.4h6M163.9,318.7v16.5M160.9,318.7h6M160.9,335.2h6M161.7,322.1v14.2M158.7,322.1h6M158.7,336.3h6M160.5,317.6v17.9M157.5,317.6h6M157.5,335.5h6M180.3,319.1v10.9M177.3,319.1h6M177.3,330.0h6M156.9,320.2v18.1M153.9,320.2h6M153.9,338.2h6M159.6,324.5v14.1M156.6,324.5h6M156.6,338.5h6M183.8,318.5v15.7M180.8,318.5h6M180.8,334.2h6M160.7,314.1v10.4M157.7,314.1h6M157.7,324.5h6M171.6,317.8v16.7M168.6,317.8h6M168.6,334.5h6M149.8,315.1v19.5M146.8,315.1h6M146.8,334.6h6M164.7,321.2v12.8M161.7,321.2h6M161.7,334.0h6M148.5,319.5v18.6M145.5,319.5h6M145.5,338.1h6M157.6,326.3v12.4M154.6,326.3h6M154.6,338.8h6M176.4,320.5v14.4M173.4,320.5h6M173.4,334.9h6M176.1,314.6v13.4M173.1,314.6h6M173.1,328.0h6M181.8,313.6v14.8M178.8,313.6h6M178.8,328.5h6M153.5,319.0v14.0M150.5,319.0h6M150.5,333.0h6M169.3,316.6v13.5M166.3,316.6h6M166.3,330.1h6M174.4,313.1v11.3M171.4,313.1h6M171.4,324.4h6M180.6,317.9v18.6M177.6,317.9h6M177.6,336.5h6M165.2,324.0v16.3M162.2,324.0h6M162.2,340.3h6M168.3,317.3v15.5M165.3,317.3h6M165.3,332.9h6M171.9,320.7v18.6M168.9,320.7h6M168.9,339.3h6M159.3,319.7v14.3M156.3,319.7h6M156.3,334.0h6M150.6,317.6v15.0M147.6,317.6h6M147.6,332.6h6M148.5,319.4v15.4M145.5,319.4h6M145.5,334.7h6M152.1,326.4v14.1M149.1,326.4h6M149.1,340.4h6M155.9,323.5v16.4M152.9,323.5h6M152.9,339.9h6M152.9,321.3v15.0M149.9,321.3h6M149.9,336.2h6M181.4,312.6v11.6M178.4,312.6h6M178.4,324.3h6M148.1,322.5v16.6M145.1,322.5h6M145.1,339.1h6M165.9,319.4v17.9M162.9,319.4h6M162.9,337.2h6M150.5,323.4v14.7M147.5,323.4h6M147.5,338.1h6M180.5,311.9v13.4M177.5,311.9h6M177.5,325.3h6M150.9,325.1v19.2M147.9,325.1h6M147.9,344.3h6M153.1,316.4v12.1M150.1,316.4h6M150.1,328.5h6M164.7,323.3v14.3M161.7,323.3h6M161.7,337.6h6M150.7,325.8v16.4M147.7,325.8h6M147.7,342.2h6M156.8,317.5v15.7M153.8,317.5h6M153.8,333.2h6M172.8,321.6v20.1M169.8,321.6h6M169.8,341.7h6M153.2,323.7v14.5M150.2,323.7h6M150.2,338.2h6M149.1,320.2v15.4M146.1,320.2h6M146.1,335.6h6M158.2,327.1v16.3M155.2,327.1h6M155.2,343.4h6M181.7,317.8v12.3M178.7,317.8h6M178.7,330.2h6M181.0,317.3v15.3M178.0,317.3h6M178.0,332.6h6M174.7,310.8v16.6M171.7,310.8h6M171.7,327.4h6M162.1,320.7v11.7M159.1,320.7h6M159.1,332.4h6M172.6,312.5v14.4M169.6,312.5h6M169.6,326.9h6M182.5,320.8v11.1M179.5,320.8h6M179.5,331.8h6M176.3,315.1v16.2M173.3,315.1h6M173.3,331.3h6M151.4,322.5v17.3M148.4,322.5h6M148.4,339.7h6M153.5,320.6v14.9M150.5,320.6h6M150.5,335.5h6M180.0,318.6v13.5M177.0,318.6h6M177.0,332.1h6M184.6,318.9v15.0M181.6,318.9h6M181.6,333.9h6M176.4,321.4v15.8M173.4,321.4h6M173.4,337.3h6M148.5,320.6v14.9M145.5,320.6h6M145.5,335.5h6M183.6,318.4v15.0M180.6,318.4h6M180.6,333.4h6M155.1,314.9v13.4M152.1,314.9h6M152.1,328.3h6M184.6,320.0v15.7M181.6,320.0h6M181.6,335.7h6M183.9,319.9v15.7M180.9,319.9h6M180.9,335.6h6M152.5,321.4v10.5M149.5,321.4h6M149.5,332.0h6M185.3,320.1v15.4M182.3,320.1h6M182.3,335.5h6M172.5,317.5v17.4M169.5,317.5h6M169.5,334.9h6M176.8,322.1v16.5M173.8,322.1h6M173.8,338.6h6M150.4,322.7v18.7M147.4,322.7h6M147.4,341.4h6M186.6,325.5v14.2M183.6,325.5h6M183.6,339.7h6M183.6,323.7v17.5M180.6,323.7h6M180.6,341.2h6M163.7,323.7v16.5M160.7,323.7h6M160.7,340.2h6M150.5,321.8v16.9M147.5,321.8h6M147.5,338.7h6M175.5,315.1v15.5M172.5,315.1h6M172.5,330.6h6M156.2,318.0v14.2M153.2,318.0h6M153.2,332.2h6M175.6,324.2v15.0M172.6,324.2h6M172.6,339.2h6M165.1,318.3v16.1M162.1,318.3h6M162.1,334.5h6M150.9,323.4v13.9M147.9,323.4h6M147.9,337.3h6M178.6,320.9v15.8M175.6,320.9h6M175.6,336.7h6M187.6,318.7v13.2M184.6,318.7h6M184.6,331.9h6M172.6,322.1v14.8M169.6,322.1h6M169.6,336.8h6M161.7,313.3v13.4M158.7,313.3h6M158.7,326.7h6M178.8,319.0v15.7M175.8,319.0h6M175.8,334.6h6M150.6,322.8v15.0M147.6,322.8h6M147.6,337.8h6M174.3,322.2v19.8M171.3,322.2h6M171.3,342.0h6M187.0,317.4v16.2M184.0,317.4h6M184.0,333.6h6M173.0,322.5v13.8M170.0,322.5h6M170.0,336.3h6M185.5,323.0v13.7M182.5,323.0h6M182.5,336.7h6M184.3,325.2v13.7M181.3,325.2h6M181.3,339.0h6M152.2,320.6v15.7M149.2,320.6h6M149.2,336.3h6M178.3,318.4v14.6M175.3,318.4h6M175.3,333.0h6M156.8,320.2v18.4M153.8,320.2h6M153.8,338.6h6M149.0,325.9v16.8M146.0,325.9h6M146.0,342.7h6M176.7,324.3v13.4M173.7,324.3h6M173.7,337.7h6M188.0,320.4v14.3M185.0,320.4h6M185.0,334.8h6M168.6,321.5v9.0M165.6,321.5h6M165.6,330.6h6M174.1,319.5v14.1M171.1,319.5h6M171.1,333.6h6M157.4,319.8v16.8M154.4,319.8h6M154.4,336.6h6M153.7,314.1v15.4M150.7,314.1h6M150.7,329.4h6M161.2,312.5v18.2M158.2,312.5h6M158.2,330.6h6M155.5,311.2v12.3M152.5,311.2h6M152.5,323.5h6M160.7,322.8v17.0M157.7,322.8h6M157.7,339.8h6M155.4,322.4v11.7M152.4,322.4h6M152.4,334.1h6M147.9,318.9v14.2M144.9,318.9h6M144.9,333.1h6M154.5,316.8v17.5M151.5,316.8h6M151.5,334.3h6M186.6,316.1v13.2M183.6,316.1h6M183.6,329.3h6M168.7,317.2v15.5M165.7,317.2h6M165.7,332.7h6M166.9,320.2v15.8M163.9,320.2h6M163.9,336.0h6M152.0,322.7v12.4M149.0,322.7h6M149.0,335.2h6M147.2,318.3v17.7M144.2,318.3h6M144.2,336.0h6M182.8,319.4v10.4M179.8,319.4h6M179.8,329.8h6M175.5,321.3v13.5M172.5,321.3h6M172.5,334.7h6M159.7,313.3v12.1M156.7,313.3h6M156.7,325.4h6M187.4,317.9v15.4M184.4,317.9h6M184.4,333.3h6M153.5,318.7v14.3M150.5,318.7h6M150.5,333.0h6M157.4,314.3v10.9M154.4,314.3h6M154.4,325.1h6M150.8,324.7v16.6M147.8,324.7h6M147.8,341.2h6M158.1,325.5v19.2M155.1,325.5h6M155.1,344.7h6M161.3,321.2v15.0M158.3,321.2h6M158.3,336.2h6M152.0,319.8v13.2M149.0,319.8h6M149.0,333.0h6M177.2,323.2v13.5M174.2,323.2h6M174.2,336.8h6M149.4,318.4v13.5M146.4,318.4h6M146.4,331.9h6M179.6,315.0v12.5M176.6,315.0h6M176.6,327.5h6M175.9,321.7v17.6M172.9,321.7h6M172.9,339.3h6M176.2,314.8v12.8M173.2,314.8h6M173.2,327.5h6M177.1,314.2v8.6M174.1,314.2h6M174.1,322.8h6M169.8,317.7v13.9M166.8,317.7h6M166.8,331.6h6M149.9,316.3v12.4M146.9,316.3h6M146.9,328.7h6M179.3,315.1v14.4M176.3,315.1h6M176.3,329.5h6M185.2,315.0v15.6M182.2,315.0h6M182.2,330.7h6M179.7,323.5v16.9M176.7,323.5h6M176.7,340.4h6M154.4,320.2v13.8M151.4,320.2h6M151.4,334.0h6M175.5,323.0v20.7M172.5,323.0h6M172.5,343.7h6M161.2,320.5v17.9M158.2,320.5h6M158.2,338.4h6M151.9,312.6v18.3M148.9,312.6h6M148.9,330.9h6M151.7,322.3v13.9M148.7,322.3h6M148.7,336.2h6M178.7,317.1v13.3M175.7,317.1h6M175.7,330.4h6M185.2,313.6v16.5M182.2,313.6h6M182.2,330.1h6M158.5,317.3v16.6M155.5,317.3h6M155.5,333.9h6M154.5,319.4v17.6M151.5,319.4h6M151.5,337.0h6M157.4,319.5v16.1M154.4,319.5h6M154.4,335.6h6M158.1,317.5v13.0M155.1,317.5h6M155.1,330.5h6M159.1,319.8v16.5M156.1,319.8h6M156.1,336.3h6M159.3,312.0v12.7M156.3,312.0h6M156.3,324.7h6M167.8,312.9v17.1M164.8,312.9h6M164.8,330.0h6M167.9,320.2v14.9M164.9,320.2h6M164.9,335.1h6M176.0,324.0v17.0M173.0,324.0h6M173.0,341.0h6M176.4,321.0v18.8M173.4,321.0h6M173.4,339.8h6M187.6,324.2v17.7M184.6,324.2h6M184.6,342.0h6M153.1,316.2v16.1M150.1,316.2h6M150.1,332.3h6M185.6,322.2v10.3M182.6,322.2h6M182.6,332.4h6M158.4,325.3v15.1M155.4,325.3h6M155.4,340.5h6M178.5,313.7v14.2M175.5,313.7h6M175.5,328.0h6M150.0,322.9v15.0M147.0,322.9h6M147.0,337.9h6M151.9,326.2v16.2M148.9,326.2h6M148.9,342.5h6M182.9,317.8v16.6M179.9,317.8h6M179.9,334.4h6M162.1,313.9v11.6M159.1,313.9h6M159.1,325.5h6M161.6,312.8v13.9M158.6,312.8h6M158.6,326.7h6M156.0,321.7v14.6M153.0,321.7h6M153.0,336.3h6M180.0,322.0v10.0M177.0,322.0h6M177.0,332.0h6M183.7,318.5v15.7M180.7,318.5h6M180.7,334.2h6M149.8,317.6v14.8M146.8,317.6h6M146.8,332.4h6M155.0,323.3v13.3M152.0,323.3h6M152.0,336.6h6M161.9,320.3v14.6M158.9,320.3h6M158.9,334.9h6M150.2,317.7v15.5M147.2,317.7h6M147.2,333.2h6M163.9,317.4v14.4M160.9,317.4h6M160.9,331.9h6M151.9,327.0v14.6M148.9,327.0h6M148.9,341.6h6M154.1,320.2v14.4M151.1,320.2h6M151.1,334.5h6M176.1,314.3v15.8M173.1,314.3h6M173.1,330.1h6M171.9,314.5v13.8M168.9,314.5h6M168.9,328.2h6M148.1,325.3v16.8M145.1,325.3h6M145.1,342.2h6M220.9,325.0v15.0M217.9,325.0h6M217.9,340.0h6M205.8,322.6v12.6M202.8,322.6h6M202.8,335.2h6M224.5,313.6v14.8M221.5,313.6h6M221.5,328.3h6M212.7,322.9v13.9M209.7,322.9h6M209.7,336.8h6M220.3,324.8v10.8M217.3,324.8h6M217.3,335.7h6M230.0,316.6v15.4M227.0,316.6h6M227.0,332.1h6M212.0,318.2v14.9M209.0,318.2h6M209.0,333.1h6M237.1,322.0v12.5M234.1,322.0h6M234.1,334.5h6M217.7,311.8v13.0M214.7,311.8h6M214.7,324.8h6M230.4,312.6v14.7M227.4,312.6h6M227.4,327.3h6M208.3,327.0v17.6M205.3,327.0h6M205.3,344.6h6M228.1,321.0v12.0M225.1,321.0h6M225.1,333.0h6M209.2,322.4v14.9M206.2,322.4h6M206.2,337.4h6M243.6,323.4v13.3M240.6,323.4h6M240.6,336.8h6M216.7,322.7v13.9M213.7,322.7h6M213.7,336.6h6M244.1,318.4v19.7M241.1,318.4h6M241.1,338.1h6M209.3,321.2v15.5M206.3,321.2h6M206.3,336.7h6M219.0,318.6v14.8M216.0,318.6h6M216.0,333.4h6M229.0,314.5v14.7M226.0,314.5h6M226.0,329.2h6M241.2,327.2v17.1M238.2,327.2h6M238.2,344.3h6M240.8,314.2v13.7M237.8,314.2h6M237.8,327.9h6M220.0,323.4v18.8M217.0,323.4h6M217.0,342.2h6M212.3,323.3v17.7M209.3,323.3h6M209.3,341.0h6M218.3,318.3v14.6M215.3,318.3h6M215.3,332.8h6M221.6,323.8v13.3M218.6,323.8h6M218.6,337.1h6M240.6,320.5v16.5M237.6,320.5h6M237.6,337.0h6M223.7,319.0v13.2M220.7,319.0h6M220.7,332.2h6M206.7,322.6v13.9M203.7,322.6h6M203.7,336.5h6M222.1,317.4v15.9M219.1,317.4h6M219.1,333.3h6M223.6,313.8v12.5M220.6,313.8h6M220.6,326.4h6M207.8,324.0v17.1M204.8,324.0h6M204.8,341.2h6M219.9,325.8v14.6M216.9,325.8h6M216.9,340.4h6M238.6,315.0v14.2M235.6,315.0h6M235.6,329.2h6M214.1,319.0v13.7M211.1,319.0h6M211.1,332.7h6M230.4,326.6v14.0M227.4,326.6h6M227.4,340.6h6M220.0,325.9v15.3M217.0,325.9h6M217.0,341.1h6M225.1,316.8v11.3M222.1,316.8h6M222.1,328.1h6M235.1,316.5v6.1M232.1,316.5h6M232.1,322.6h6M214.2,317.1v14.0M211.2,317.1h6M211.2,331.2h6M236.4,314.7v13.4M233.4,314.7h6M233.4,328.0h6M237.1,317.9v12.8M234.1,317.9h6M234.1,330.7h6M228.3,328.6v16.1M225.3,328.6h6M225.3,344.7h6M243.7,315.9v13.4M240.7,315.9h6M240.7,329.2h6M227.4,321.6v19.8M224.4,321.6h6M224.4,341.4h6M225.5,324.4v17.2M222.5,324.4h6M222.5,341.6h6M239.1,317.3v16.3M236.1,317.3h6M236.1,333.5h6M212.3,315.8v12.3M209.3,315.8h6M209.3,328.1h6M227.7,319.7v15.5M224.7,319.7h6M224.7,335.2h6M233.1,315.2v13.4M230.1,315.2h6M230.1,328.5h6M237.8,320.3v15.3M234.8,320.3h6M234.8,335.6h6M214.2,319.4v16.2M211.2,319.4h6M211.2,335.7h6M207.6,322.4v15.0M204.6,322.4h6M204.6,337.4h6M227.0,322.7v14.8M224.0,322.7h6M224.0,337.5h6M221.1,317.7v14.0M218.1,317.7h6M218.1,331.7h6M219.7,317.5v13.7M216.7,317.5h6M216.7,331.3h6M233.9,322.0v14.8M230.9,322.0h6M230.9,336.7h6M216.4,312.0v13.2M213.4,312.0h6M213.4,325.2h6M230.9,328.7v20.0M227.9,328.7h6M227.9,348.7h6M233.5,318.5v12.6M230.5,318.5h6M230.5,331.1h6M241.9,326.6v14.3M238.9,326.6h6M238.9,340.9h6M235.1,320.3v13.8M232.1,320.3h6M232.1,334.1h6M213.9,325.3v17.6M210.9,325.3h6M210.9,342.9h6M205.4,317.4v16.7M202.4,317.4h6M202.4,334.0h6M233.9,321.4v16.4M230.9,321.4h6M230.9,337.8h6M235.2,320.5v17.6M232.2,320.5h6M232.2,338.1h6M241.1,323.7v12.8M238.1,323.7h6M238.1,336.5h6M212.7,315.0v16.1M209.7,315.0h6M209.7,331.1h6M214.2,325.3v14.9M211.2,325.3h6M211.2,340.2h6M221.2,322.9v17.4M218.2,322.9h6M218.2,340.3h6M207.3,322.8v17.2M204.3,322.8h6M204.3,340.0h6M229.6,327.3v16.1M226.6,327.3h6M226.6,343.4h6M230.3,319.1v16.0M227.3,319.1h6M227.3,335.1h6M212.8,318.5v15.0M209.8,318.5h6M209.8,333.5h6M210.2,318.7v15.2M207.2,318.7h6M207.2,334.0h6M227.7,316.2v12.4M224.7,316.2h6M224.7,328.5h6M232.3,316.5v13.5M229.3,316.5h6M229.3,330.1h6M216.5,325.2v16.2M213.5,325.2h6M213.5,341.4h6M212.1,320.9v12.4M209.1,320.9h6M209.1,333.3h6M227.2,316.0v12.3M224.2,316.0h6M224.2,328.3h6M242.1,319.0v16.4M239.1,319.0h6M239.1,335.5h6M243.8,312.0v15.4M240.8,312.0h6M240.8,327.4h6M238.2,320.6v13.0M235.2,320.6h6M235.2,333.6h6M209.7,317.1v13.0M206.7,317.1h6M206.7,330.1h6M228.8,323.9v13.0M225.8,323.9h6M225.8,336.9h6M216.3,328.2v13.7M213.3,328.2h6M213.3,342.0h6M216.9,321.7v15.4M213.9,321.7h6M213.9,337.2h6M234.0,324.9v13.7M231.0,324.9h6M231.0,338.7h6M212.1,319.5v14.0M209.1,319.5h6M209.1,333.5h6M230.9,316.3v14.8M227.9,316.3h6M227.9,331.1h6M212.6,322.3v15.3M209.6,322.3h6M209.6,337.6h6M217.2,320.1v12.6M214.2,320.1h6M214.2,332.7h6M234.8,310.9v15.1M231.8,310.9h6M231.8,326.0h6M226.9,316.3v13.0M223.9,316.3h6M223.9,329.2h6M228.5,321.2v15.2M225.5,321.2h6M225.5,336.4h6M235.8,314.6v19.5M232.8,314.6h6M232.8,334.1h6M231.2,323.0v16.6M228.2,323.0h6M228.2,339.7h6M210.0,318.0v15.1M207.0,318.0h6M207.0,333.1h6M213.7,315.0v11.7M210.7,315.0h6M210.7,326.8h6M224.3,318.7v12.5M221.3,318.7h6M221.3,331.2h6M221.6,328.1v18.9M218.6,328.1h6M218.6,346.9h6M228.2,320.4v12.9M225.2,320.4h6M225.2,333.3h6M221.8,319.2v18.4M218.8,319.2h6M218.8,337.6h6M227.7,321.3v15.5M224.7,321.3h6M224.7,336.7h6M230.0,313.4v18.8M227.0,313.4h6M227.0,332.2h6M239.7,319.3v11.3M236.7,319.3h6M236.7,330.6h6M225.2,314.7v11.1M222.2,314.7h6M222.2,325.7h6M240.0,317.5v17.3M237.0,317.5h6M237.0,334.8h6M220.7,323.6v12.8M217.7,323.6h6M217.7,336.5h6M237.9,320.4v15.8M234.9,320.4h6M234.9,336.1h6M216.2,315.4v15.6M213.2,315.4h6M213.2,331.0h6M243.7,318.8v18.5M240.7,318.8h6M240.7,337.4h6M213.0,313.6v15.6M210.0,313.6h6M210.0,329.2h6M209.1,320.0v16.6M206.1,320.0h6M206.1,336.6h6M223.5,317.2v10.2M220.5,317.2h6M220.5,327.4h6M234.9,322.9v15.1M231.9,322.9h6M231.9,338.0h6M206.7,318.7v12.8M203.7,318.7h6M203.7,331.5h6M210.6,314.1v17.9M207.6,314.1h6M207.6,332.0h6M240.7,323.8v18.1M237.7,323.8h6M237.7,342.0h6M224.4,318.0v14.6M221.4,318.0h6M221.4,332.6h6M227.5,320.9v17.1M224.5,320.9h6M224.5,338.0h6M244.6,319.2v14.3M241.6,319.2h6M241.6,333.5h6M243.0,314.9v15.9M240.0,314.9h6M240.0,330.8h6M215.6,318.7v15.1M212.6,318.7h6M212.6,333.8h6M228.0,323.2v12.5M225.0,323.2h6M225.0,335.7h6M217.5,319.3v9.7M214.5,319.3h6M214.5,328.9h6M241.4,317.0v14.7M238.4,317.0h6M238.4,331.8h6M215.6,322.8v16.2M212.6,322.8h6M212.6,339.1h6M212.5,318.4v12.9M209.5,318.4h6M209.5,331.3h6M241.0,322.7v18.8M238.0,322.7h6M238.0,341.5h6M215.1,322.3v16.6M212.1,322.3h6M212.1,338.9h6M244.7,325.9v10.2M241.7,325.9h6M241.7,336.1h6M242.9,322.5v15.1M239.9,322.5h6M239.9,337.5h6M238.0,323.7v16.2M235.0,323.7h6M235.0,339.9h6M226.1,321.2v13.1M223.1,321.2h6M223.1,334.3h6M238.1,319.4v13.3M235.1,319.4h6M235.1,332.7h6M232.0,317.4v11.7M229.0,317.4h6M229.0,329.1h6M230.5,318.7v17.3M227.5,318.7h6M227.5,336.0h6M211.0,313.7v13.4M208.0,313.7h6M208.0,327.1h6M216.2,326.1v12.5M213.2,326.1h6M213.2,338.6h6M221.8,324.5v13.5M218.8,324.5h6M218.8,338.0h6M230.5,322.4v14.2M227.5,322.4h6M227.5,336.6h6M223.3,316.0v16.7M220.3,316.0h6M220.3,332.6h6M244.1,323.2v16.5M241.1,323.2h6M241.1,339.7h6M238.5,316.9v14.1M235.5,316.9h6M235.5,331.0h6M226.5,318.9v14.4M223.5,318.9h6M223.5,333.3h6M206.3,314.6v14.0M203.3,314.6h6M203.3,328.6h6M218.3,320.8v13.7M215.3,320.8h6M215.3,334.4h6M211.8,312.6v16.7M208.8,312.6h6M208.8,329.3h6M224.8,318.4v13.3M221.8,318.4h6M221.8,331.7h6M230.9,318.8v13.1M227.9,318.8h6M227.9,331.9h6M234.4,323.6v17.6M231.4,323.6h6M231.4,341.2h6M231.6,315.2v14.7M228.6,315.2h6M228.6,329.8h6M244.7,317.8v18.6M241.7,317.8h6M241.7,336.4h6M233.7,320.3v15.3M230.7,320.3h6M230.7,335.5h6M243.6,321.3v16.7M240.6,321.3h6M240.6,338.0h6M208.6,314.9v14.5M205.6,314.9h6M205.6,329.3h6M232.6,313.4v10.8M229.6,313.4h6M229.6,324.2h6M230.4,315.0v14.8M227.4,315.0h6M227.4,329.7h6M224.1,321.2v14.4M221.1,321.2h6M221.1,335.7h6M205.7,318.8v12.8M202.7,318.8h6M202.7,331.6h6M223.5,320.4v18.7M220.5,320.4h6M220.5,339.1h6M238.1,323.8v15.6M235.1,323.8h6M235.1,339.5h6M218.0,325.3v20.5M215.0,325.3h6M215.0,345.8h6M227.1,323.2v11.6M224.1,323.2h6M224.1,334.8h6M204.9,320.7v15.9M201.9,320.7h6M201.9,336.6h6M221.4,319.7v12.8M218.4,319.7h6M218.4,332.5h6M225.1,320.4v13.2M222.1,320.4h6M222.1,333.6h6M221.1,323.6v14.5M218.1,323.6h6M218.1,338.0h6M211.8,319.1v19.5M208.8,319.1h6M208.8,338.6h6M244.3,317.4v14.3M241.3,317.4h6M241.3,331.7h6M240.0,327.7v15.9M237.0,327.7h6M237.0,343.6h6M243.0,317.7v16.1M240.0,317.7h6M240.0,333.8h6M240.7,322.5v13.7M237.7,322.5h6M237.7,336.1h6M209.2,318.6v17.8M206.2,318.6h6M206.2,336.4h6M211.8,325.9v20.4M208.8,325.9h6M208.8,346.3h6M214.6,319.7v16.8M211.6,319.7h6M211.6,336.5h6M214.7,321.1v12.2M211.7,321.1h6M211.7,333.4h6M239.5,323.9v13.2M236.5,323.9h6M236.5,337.2h6M234.2,322.3v13.5M231.2,322.3h6M231.2,335.8h6M224.9,319.3v16.7M221.9,319.3h6M221.9,336.0h6M229.3,321.2v16.1M226.3,321.2h6M226.3,337.3h6M209.8,320.6v13.0M206.8,320.6h6M206.8,333.6h6M208.0,320.7v16.0M205.0,320.7h6M205.0,336.7h6M208.3,318.0v17.3M205.3,318.0h6M205.3,335.3h6M231.0,319.7v14.5M228.0,319.7h6M228.0,334.1h6M241.4,321.7v16.5M238.4,321.7h6M238.4,338.2h6M227.3,321.2v16.1M224.3,321.2h6M224.3,337.3h6M212.9,323.0v20.0M209.9,323.0h6M209.9,343.1h6M217.2,322.3v13.4M214.2,322.3h6M214.2,335.7h6M224.3,319.5v12.1M221.3,319.5h6M221.3,331.6h6M213.9,316.6v17.2M210.9,316.6h6M210.9,333.8h6M238.2,327.7v19.0M235.2,327.7h6M235.2,346.7h6M229.6,316.7v12.1M226.6,316.7h6M226.6,328.8h6M233.4,321.3v15.2M230.4,321.3h6M230.4,336.4h6M223.1,321.1v16.5M220.1,321.1h6M220.1,337.6h6M212.8,316.6v14.7M209.8,316.6h6M209.8,331.4h6M207.9,318.4v14.6M204.9,318.4h6M204.9,333.0h6M213.4,316.3v15.7M210.4,316.3h6M210.4,332.1h6M218.0,325.4v14.6M215.0,325.4h6M215.0,340.1h6M217.0,327.0v14.8M214.0,327.0h6M214.0,341.8h6M205.3,318.1v16.7M202.3,318.1h6M202.3,334.7h6M237.6,326.2v15.5M234.6,326.2h6M234.6,341.6h6M225.7,319.9v17.5M222.7,319.9h6M222.7,337.4h6M209.0,323.2v16.6M206.0,323.2h6M206.0,339.8h6M232.8,327.4v17.5M229.8,327.4h6M229.8,344.9h6M218.4,324.5v14.7M215.4,324.5h6M215.4,339.2h6M207.0,324.6v14.9M204.0,324.6h6M204.0,339.4h6M227.7,320.5v16.4M224.7,320.5h6M224.7,336.9h6M244.3,317.6v13.4M241.3,317.6h6M241.3,330.9h6M239.7,312.0v18.1M236.7,312.0h6M236.7,330.1h6M222.0,322.1v16.1M219.0,322.1h6M219.0,338.2h6M242.5,324.1v16.4M239.5,324.1h6M239.5,340.5h6M233.3,315.3v17.2M230.3,315.3h6M230.3,332.6h6M215.5,323.4v16.3M212.5,323.4h6M212.5,339.7h6M214.9,317.9v17.9M211.9,317.9h6M211.9,335.8h6M214.2,319.2v10.0M211.2,319.2h6M211.2,329.2h6M229.1,321.1v16.5M226.1,321.1h6M226.1,337.6h6M219.7,322.2v16.8M216.7,322.2h6M216.7,339.0h6M209.6,315.2v16.2M206.6,315.2h6M206.6,331.5h6M226.7,320.7v16.3M223.7,320.7h6M223.7,336.9h6M218.3,326.8v12.7M215.3,326.8h6M215.3,339.5h6M228.3,330.4v12.1M225.3,330.4h6M225.3,342.6h6M242.4,323.3v15.6M239.4,323.3h6M239.4,338.9h6M208.0,318.3v16.7M205.0,318.3h6M205.0,335.0h6M232.7,318.0v16.5M229.7,318.0h6M229.7,334.5h6M209.3,312.7v13.6M206.3,312.7h6M206.3,326.3h6M210.0,316.1v14.9M207.0,316.1h6M207.0,331.0h6M244.5,316.4v10.3M241.5,316.4h6M241.5,326.7h6M227.6,322.5v13.4M224.6,322.5h6M224.6,335.9h6M229.4,324.2v15.3M226.4,324.2h6M226.4,339.6h6M232.1,323.9v16.1M229.1,323.9h6M229.1,339.9h6M208.8,316.2v14.0M205.8,316.2h6M205.8,330.3h6M207.0,321.6v18.4M204.0,321.6h6M204.0,340.0h6M222.7,320.8v12.9M219.7,320.8h6M219.7,333.8h6M218.4,323.9v14.9M215.4,323.9h6M215.4,338.8h6M226.5,317.8v15.7M223.5,317.8h6M223.5,333.6h6M220.8,319.0v17.0M217.8,319.0h6M217.8,336.0h6M244.5,318.4v14.2M241.5,318.4h6M241.5,332.7h6M239.7,321.3v15.8M236.7,321.3h6M236.7,337.1h6M240.0,318.3v17.5M237.0,318.3h6M237.0,335.8h6M210.9,320.0v14.5M207.9,320.0h6M207.9,334.4h6M229.5,317.3v14.9M226.5,317.3h6M226.5,332.1h6M238.4,318.1v15.9M235.4,318.1h6M235.4,334.0h6M206.8,321.0v16.4M203.8,321.0h6M203.8,337.4h6M215.6,319.6v15.4M212.6,319.6h6M212.6,335.0h6M222.3,317.0v14.3M219.3,317.0h6M219.3,331.3h6M236.0,319.4v12.9M233.0,319.4h6M233.0,332.3h6M212.5,319.0v13.2M209.5,319.0h6M209.5,332.2h6M209.2,322.9v14.8M206.2,322.9h6M206.2,337.7h6M212.6,321.0v13.8M209.6,321.0h6M209.6,334.8h6M234.9,321.8v13.7M231.9,321.8h6M231.9,335.5h6M243.2,319.9v10.8M240.2,319.9h6M240.2,330.7h6M213.9,319.9v17.3M210.9,319.9h6M210.9,337.2h6M228.0,321.6v15.9M225.0,321.6h6M225.0,337.5h6M210.6,328.2v16.4M207.6,328.2h6M207.6,344.6h6M231.5,325.0v19.6M228.5,325.0h6M228.5,344.6h6M204.9,323.3v15.0M201.9,323.3h6M201.9,338.3h6M242.7,313.5v14.1M239.7,313.5h6M239.7,327.6h6M219.9,322.6v16.7M216.9,322.6h6M216.9,339.3h6M226.7,318.1v18.7M223.7,318.1h6M223.7,336.8h6M208.4,324.5v14.8M205.4,324.5h6M205.4,339.3h6M239.4,319.6v12.3M236.4,319.6h6M236.4,331.9h6M216.3,322.8v14.4M213.3,322.8h6M213.3,337.2h6M207.4,325.6v16.5M204.4,325.6h6M204.4,342.1h6M217.5,322.3v16.2M214.5,322.3h6M214.5,338.5h6M220.6,319.9v12.0M217.6,319.9h6M217.6,332.0h6M206.5,315.9v12.5M203.5,315.9h6M203.5,328.4h6M213.7,322.4v13.3M210.7,322.4h6M210.7,335.7h6M212.5,320.0v20.9M209.5,320.0h6M209.5,340.9h6M234.1,322.9v18.0M231.1,322.9h6M231.1,340.9h6M234.5,317.8v13.5M231.5,317.8h6M231.5,331.3h6M238.0,320.1v13.8M235.0,320.1h6M235.0,333.9h6M216.3,315.5v15.6M213.3,315.5h6M213.3,331.1h6M227.1,324.4v15.1M224.1,324.4h6M224.1,339.5h6M217.3,326.8v14.8M214.3,326.8h6M214.3,341.7h6M212.0,326.2v13.2M209.0,326.2h6M209.0,339.5h6M235.8,317.0v14.4M232.8,317.0h6M232.8,331.4h6M216.6,322.8v16.9M213.6,322.8h6M213.6,339.7h6M224.7,325.7v14.3M221.7,325.7h6M221.7,340.0h6M234.5,323.4v11.3M231.5,323.4h6M231.5,334.7h6M232.0,316.3v14.2M229.0,316.3h6M229.0,330.5h6M207.7,322.8v12.9M204.7,322.8h6M204.7,335.7h6M212.0,323.0v17.4M209.0,323.0h6M209.0,340.3h6M223.6,327.6v15.1M220.6,327.6h6M220.6,342.8h6M225.2,315.8v12.8M222.2,315.8h6M222.2,328.7h6M238.8,322.8v13.1M235.8,322.8h6M235.8,335.8h6M227.2,321.9v15.0M224.2,321.9h6M224.2,337.0h6M238.1,314.5v13.2M235.1,314.5h6M235.1,327.7h6M231.7,317.6v12.1M228.7,317.6h6M228.7,329.6h6M236.5,320.8v15.7M233.5,320.8h6M233.5,336.4h6M239.7,323.0v11.7M236.7,323.0h6M236.7,334.8h6M236.6,317.4v17.6M233.6,317.4h6M233.6,335.0h6M233.3,315.0v16.3M230.3,315.0h6M230.3,331.3h6M221.7,320.6v15.6M218.7,320.6h6M218.7,336.2h6M204.7,316.2v12.8M201.7,316.2h6M201.7,329.0h6M244.7,321.8v15.2M241.7,321.8h6M241.7,336.9h6M244.0,325.7v13.0M241.0,325.7h6M241.0,338.7h6M226.7,321.5v17.0M223.7,321.5h6M223.7,338.6h6M208.0,323.0v16.2M205.0,323.0h6M205.0,339.2h6M236.3,327.0v18.0M233.3,327.0h6M233.3,344.9h6M233.9,317.3v10.6M230.9,317.3h6M230.9,327.8h6M228.3,326.8v16.2M225.3,326.8h6M225.3,343.0h6M218.1,315.2v10.4M215.1,315.2h6M215.1,325.6h6M220.7,323.2v15.1M217.7,323.2h6M217.7,338.2h6M232.0,322.4v16.1M229.0,322.4h6M229.0,338.5h6M227.1,314.2v11.6M224.1,314.2h6M224.1,325.8h6M214.8,312.3v12.7M211.8,312.3h6M211.8,324.9h6M233.4,320.3v14.5M230.4,320.3h6M230.4,334.9h6M219.4,325.3v15.7M216.4,325.3h6M216.4,341.0h6M236.2,323.0v11.8M233.2,323.0h6M233.2,334.8h6M210.6,323.5v19.0M207.6,323.5h6M207.6,342.5h6M240.4,316.6v14.5M237.4,316.6h6M237.4,331.1h6M243.1,323.8v12.7M240.1,323.8h6M240.1,336.5h6M208.5,320.9v15.9M205.5,320.9h6M205.5,336.8h6M238.1,322.7v12.1M235.1,322.7h6M235.1,334.8h6M218.9,317.8v17.3M215.9,317.8h6M215.9,335.1h6M238.0,321.0v15.5M235.0,321.0h6M235.0,336.5h6M230.5,316.9v15.2M227.5,316.9h6M227.5,332.1h6M241.3,323.9v11.0M238.3,323.9h6M238.3,334.9h6M207.9,313.5v17.6M204.9,313.5h6M204.9,331.0h6M218.9,322.5v20.6M215.9,322.5h6M215.9,343.1h6M220.5,321.6v14.3M217.5,321.6h6M217.5,335.9h6M206.3,322.2v18.2M203.3,322.2h6M203.3,340.4h6M241.0,324.6v15.6M238.0,324.6h6M238.0,340.2h6M226.4,316.1v12.0M223.4,316.1h6M223.4,328.1h6M240.3,321.2v17.7M237.3,321.2h6M237.3,338.9h6M220.5,319.3v11.7M217.5,319.3h6M217.5,331.0h6M205.8,321.4v16.4M202.8,321.4h6M202.8,337.7h6M216.9,317.3v12.0M213.9,317.3h6M213.9,329.2h6M225.0,317.3v18.2M222.0,317.3h6M222.0,335.5h6M225.8,318.1v12.8M222.8,318.1h6M222.8,331.0h6M243.3,325.0v11.2M240.3,325.0h6M240.3,336.2h6M241.0,316.0v14.4M238.0,316.0h6M238.0,330.4h6M218.9,317.7v12.3M215.9,317.7h6M215.9,330.0h6M234.4,319.4v17.8M231.4,319.4h6M231.4,337.2h6M223.3,326.5v14.4M220.3,326.5h6M220.3,340.9h6M209.3,317.3v14.7M206.3,317.3h6M206.3,332.1h6M213.7,322.6v16.4M210.7,322.6h6M210.7,339.0h6M232.0,315.7v14.3M229.0,315.7h6M229.0,330.0h6M222.6,322.6v16.3M219.6,322.6h6M219.6,338.9h6M219.8,320.7v14.8M216.8,320.7h6M216.8,335.5h6M220.1,323.1v13.8M217.1,323.1h6M217.1,336.9h6M232.5,319.7v17.5M229.5,319.7h6M229.5,337.3h6M229.5,326.2v10.4M226.5,326.2h6M226.5,336.5h6M227.4,323.7v16.7M224.4,323.7h6M224.4,340.4h6M228.8,320.3v14.0M225.8,320.3h6M225.8,334.3h6M228.4,314.8v16.1M225.4,314.8h6M225.4,330.8h6M221.3,312.2v15.0M218.3,312.2h6M218.3,327.3h6M218.4,316.9v20.2M215.4,316.9h6M215.4,337.0h6M234.1,320.7v16.4M231.1,320.7h6M231.1,337.1h6M206.5,321.3v13.8M203.5,321.3h6M203.5,335.1h6M215.5,319.9v16.0M212.5,319.9h6M212.5,335.8h6M244.2,324.6v14.1M241.2,324.6h6M241.2,338.6h6M207.1,319.1v17.8M204.1,319.1h6M204.1,337.0h6M231.3,321.2v18.0M228.3,321.2h6M228.3,339.1h6M230.3,317.4v16.4M227.3,317.4h6M227.3,333.8h6M229.7,314.7v15.2M226.7,314.7h6M226.7,329.9h6M235.7,314.0v17.6M232.7,314.0h6M232.7,331.6h6M206.6,317.0v12.0M203.6,317.0h6M203.6,329.1h6M233.6,319.5v14.3M230.6,319.5h6M230.6,333.8h6M212.7,320.5v15.0M209.7,320.5h6M209.7,335.5h6M231.4,324.1v14.6M228.4,324.1h6M228.4,338.7h6M224.3,329.3v18.0M221.3,329.3h6M221.3,347.3h6M233.5,320.7v13.2M230.5,320.7h6M230.5,333.9h6M210.2,327.0v15.3M207.2,327.0h6M207.2,342.3h6M223.9,313.6v13.9M220.9,313.6h6M220.9,327.5h6M244.1,319.2v17.9M241.1,319.2h6M241.1,337.2h6M224.8,323.8v19.4M221.8,323.8h6M221.8,343.1h6M223.6,313.8v14.1M220.6,313.8h6M220.6,327.9h6M221.9,324.7v12.9M218.9,324.7h6M218.9,337.6h6M225.8,317.5v13.4M222.8,317.5h6M222.8,330.9h6M207.8,319.8v13.2M204.8,319.8h6M204.8,333.0h6M228.8,320.0v17.3M225.8,320.0h6M225.8,337.3h6M235.4,319.1v15.4M232.4,319.1h6M232.4,334.5h6M211.4,321.3v15.6M208.4,321.3h6M208.4,336.9h6M215.1,319.4v14.8M212.1,319.4h6M212.1,334.2h6M225.7,319.0v15.6M222.7,319.0h6M222.7,334.6h6M235.8,319.9v9.9M232.8,319.9h6M232.8,329.8h6M216.0,318.6v13.8M213.0,318.6h6M213.0,332.4h6M227.2,329.2v16.9M224.2,329.2h6M224.2,346.1h6M211.8,321.6v16.8M208.8,321.6h6M208.8,338.4h6M218.9,322.4v17.2M215.9,322.4h6M215.9,339.7h6M230.9,323.6v16.0M227.9,323.6h6M227.9,339.6h6M240.3,319.4v14.8M237.3,319.4h6M237.3,334.2h6M236.8,326.7v18.0M233.8,326.7h6M233.8,344.7h6M235.8,323.8v12.3M232.8,323.8h6M232.8,336.1h6M236.0,327.1v17.7M233.0,327.1h6M233.0,344.8h6M224.5,319.2v14.0M221.5,319.2h6M221.5,333.3h6M225.6,322.5v13.1M222.6,322.5h6M222.6,335.6h6M206.1,321.4v14.0M203.1,321.4h6M203.1,335.4h6M218.0,311.5v11.8M215.0,311.5h6M215.0,323.3h6M233.5,320.1v15.7M230.5,320.1h6M230.5,335.8h6M217.0,315.7v13.3M214.0,315.7h6M214.0,329.0h6M227.2,320.7v11.1M224.2,320.7h6M224.2,331.8h6M228.5,317.6v10.6M225.5,317.6h6M225.5,328.2h6M239.7,316.5v14.5M236.7,316.5h6M236.7,331.1h6M225.8,316.7v13.0M222.8,316.7h6M222.8,329.7h6M217.5,322.0v15.7M214.5,322.0h6M214.5,337.6h6M213.5,314.2v13.9M210.5,314.2h6M210.5,328.1h6M224.6,317.9v15.6M221.6,317.9h6M221.6,333.6h6M233.9,320.7v17.0M230.9,320.7h6M230.9,337.7h6M211.3,320.3v12.6M208.3,320.3h6M208.3,332.9h6M226.9,320.7v19.4M223.9,320.7h6M223.9,340.1h6M227.1,316.2v11.7M224.1,316.2h6M224.1,327.9h6M215.9,314.5v15.1M212.9,314.5h6M212.9,329.6h6M233.2,321.9v13.7M230.2,321.9h6M230.2,335.6h6M215.3,318.7v19.0M212.3,318.7h6M212.3,337.6h6M235.3,320.1v14.8M232.3,320.1h6M232.3,334.9h6M213.5,316.9v12.4M210.5,316.9h6M210.5,329.3h6M223.2,316.4v11.7M220.2,316.4h6M220.2,328.1h6M242.5,324.0v16.1M239.5,324.0h6M239.5,340.1h6M238.4,323.0v15.7M235.4,323.0h6M235.4,338.7h6M231.7,321.3v11.6M228.7,321.3h6M228.7,332.9h6M205.2,322.1v16.8M202.2,322.1h6M202.2,338.9h6M206.3,319.3v13.3M203.3,319.3h6M203.3,332.6h6M212.8,318.6v14.9M209.8,318.6h6M209.8,333.5h6M242.0,327.0v18.1M239.0,327.0h6M239.0,345.0h6M219.6,313.8v17.5M216.6,313.8h6M216.6,331.3h6M223.9,317.9v15.0M220.9,317.9h6M220.9,332.9h6M214.1,317.8v17.7M211.1,317.8h6M211.1,335.5h6M215.4,324.1v14.1M212.4,324.1h6M212.4,338.2h6M234.8,318.0v15.7M231.8,318.0h6M231.8,333.7h6M210.2,317.3v14.8M207.2,317.3h6M207.2,332.1h6M234.4,316.4v14.3M231.4,316.4h6M231.4,330.6h6M232.9,320.0v14.7M229.9,320.0h6M229.9,334.7h6M234.2,325.6v17.5M231.2,325.6h6M231.2,343.1h6M237.1,321.9v13.1M234.1,321.9h6M234.1,335.0h6M215.6,326.4v17.9M212.6,326.4h6M212.6,344.2h6M208.7,322.9v21.8M205.7,322.9h6M205.7,344.6h6M213.6,315.3v14.3M210.6,315.3h6M210.6,329.6h6M212.6,313.6v17.2M209.6,313.6h6M209.6,330.8h6M223.4,320.9v13.3M220.4,320.9h6M220.4,334.2h6M239.1,328.3v15.8M236.1,328.3h6M236.1,344.1h6M230.9,325.8v16.1M227.9,325.8h6M227.9,341.8h6M244.4,323.5v14.0M241.4,323.5h6M241.4,337.5h6M205.6,323.5v14.3M202.6,323.5h6M202.6,337.8h6M231.4,328.0v15.3M228.4,328.0h6M228.4,343.3h6M210.0,316.7v16.2M207.0,316.7h6M207.0,332.9h6M233.1,320.8v13.8M230.1,320.8h6M230.1,334.5h6M212.7,321.7v13.8M209.7,321.7h6M209.7,335.4h6M208.3,314.7v16.3M205.3,314.7h6M205.3,331.0h6M216.1,312.3v12.9M213.1,312.3h6M213.1,325.2h6M210.9,318.3v14.3M207.9,318.3h6M207.9,332.6h6M233.9,319.9v19.1M230.9,319.9h6M230.9,339.0h6M221.3,323.6v18.7M218.3,323.6h6M218.3,342.3h6M207.9,317.3v17.2M204.9,317.3h6M204.9,334.5h6M225.1,324.5v13.3M222.1,324.5h6M222.1,337.8h6M206.5,316.2v13.8M203.5,316.2h6M203.5,330.0h6M219.9,315.6v13.7M216.9,315.6h6M216.9,329.3h6M213.2,322.3v17.1M210.2,322.3h6M210.2,339.3h6M208.9,324.9v12.5M205.9,324.9h6M205.9,337.4h6M206.5,315.4v17.8M203.5,315.4h6M203.5,333.2h6M235.7,312.6v17.3M232.7,312.6h6M232.7,329.9h6M241.9,323.5v19.9M238.9,323.5h6M238.9,343.4h6M211.8,316.7v13.3M208.8,316.7h6M208.8,330.0h6M235.5,322.0v12.9M232.5,322.0h6M232.5,334.8h6M214.1,314.4v17.8M211.1,314.4h6M211.1,332.2h6M216.5,313.9v14.4M213.5,313.9h6M213.5,328.3h6M204.7,320.2v15.3M201.7,320.2h6M201.7,335.5h6M216.6,315.9v11.3M213.6,315.9h6M213.6,327.2h6M226.3,324.8v18.4M223.3,324.8h6M223.3,343.2h6M234.4,321.0v18.3M231.4,321.0h6M231.4,339.3h6M239.8,320.5v19.2M236.8,320.5h6M236.8,339.6h6M213.9,320.3v17.6M210.9,320.3h6M210.9,337.9h6M209.0,318.0v12.5M206.0,318.0h6M206.0,330.5h6M225.6,321.1v16.3M222.6,321.1h6M222.6,337.4h6M224.0,323.4v12.7M221.0,323.4h6M221.0,336.1h6M226.3,322.5v16.0M223.3,322.5h6M223.3,338.5h6M212.8,319.6v14.6M209.8,319.6h6M209.8,334.2h6M206.2,318.2v14.4M203.2,318.2h6M203.2,332.6h6M220.9,314.8v12.5M217.9,314.8h6M217.9,327.3h6M221.4,315.5v15.3M218.4,315.5h6M218.4,330.8h6M241.9,320.7v14.1M238.9,320.7h6M238.9,334.8h6M235.3,325.5v18.2M232.3,325.5h6M232.3,343.8h6M213.6,323.1v12.4M210.6,323.1h6M210.6,335.6h6M232.2,318.7v13.2M229.2,318.7h6M229.2,332.0h6M236.7,319.2v17.1M233.7,319.2h6M233.7,336.3h6M236.2,319.9v12.1M233.2,319.9h6M233.2,332.0h6M217.6,313.2v16.6M214.6,313.2h6M214.6,329.8h6M232.5,326.5v14.8M229.5,326.5h6M229.5,341.4h6M214.0,322.2v10.0M211.0,322.2h6M211.0,332.2h6M211.6,320.3v17.0M208.6,320.3h6M208.6,337.3h6M211.0,324.9v12.9M208.0,324.9h6M208.0,337.7h6M212.5,318.9v14.3M209.5,318.9h6M209.5,333.2h6M230.1,320.5v13.7M227.1,320.5h6M227.1,334.3h6M231.5,315.3v15.9M228.5,315.3h6M228.5,331.3h6M224.1,317.9v15.6M221.1,317.9h6M221.1,333.5h6M229.9,318.8v15.0M226.9,318.8h6M226.9,333.7h6M233.7,318.9v17.3M230.7,318.9h6M230.7,336.2h6M235.0,319.2v14.1M232.0,319.2h6M232.0,333.3h6M222.3,320.6v15.7M219.3,320.6h6M219.3,336.3h6M222.8,317.0v15.1M219.8,317.0h6M219.8,332.1h6M222.5,318.0v17.0M219.5,318.0h6M219.5,334.9h6M223.3,318.1v14.8M220.3,318.1h6M220.3,332.9h6M225.2,316.4v15.3M222.2,316.4h6M222.2,331.7h6M212.4,322.4v15.5M209.4,322.4h6M209.4,337.9h6M218.9,312.4v11.1M215.9,312.4h6M215.9,323.5h6M210.9,318.4v13.7M207.9,318.4h6M207.9,332.1h6M239.1,318.3v14.1M236.1,318.3h6M236.1,332.4h6M242.1,325.8v17.4M239.1,325.8h6M239.1,343.2h6M225.6,313.1v12.8M222.6,313.1h6M222.6,326.0h6M233.9,321.6v13.8M230.9,321.6h6M230.9,335.3h6M240.0,316.9v13.5M237.0,316.9h6M237.0,330.4h6M242.6,324.1v12.7M239.6,324.1h6M239.6,336.8h6M229.7,323.8v16.6M226.7,323.8h6M226.7,340.4h6M212.9,323.2v16.7M209.9,323.2h6M209.9,339.9h6M244.0,313.8v14.6M241.0,313.8h6M241.0,328.4h6M238.4,318.8v13.9M235.4,318.8h6M235.4,332.8h6M221.8,321.3v13.5M218.8,321.3h6M218.8,334.7h6M206.0,326.1v12.8M203.0,326.1h6M203.0,338.9h6M214.2,320.8v10.6M211.2,320.8h6M211.2,331.4h6M231.7,320.1v15.9M228.7,320.1h6M228.7,336.0h6M240.9,318.0v16.2M237.9,318.0h6M237.9,334.3h6M211.3,320.0v15.8M208.3,320.0h6M208.3,335.8h6M217.5,324.0v9.1M214.5,324.0h6M214.5,333.1h6M211.8,317.2v17.1M208.8,317.2h6M208.8,334.3h6M217.6,322.5v14.8M214.6,322.5h6M214.6,337.3h6M234.7,320.2v12.6M231.7,320.2h6M231.7,332.7h6M209.2,318.6v14.2M206.2,318.6h6M206.2,332.7h6M220.8,319.7v16.5M217.8,319.7h6M217.8,336.2h6M224.6,325.3v16.5M221.6,325.3h6M221.6,341.7h6M241.7,316.7v17.6M238.7,316.7h6M238.7,334.3h6M237.5,318.8v13.5M234.5,318.8h6M234.5,332.3h6M210.9,324.0v15.1M207.9,324.0h6M207.9,339.1h6M215.3,316.7v14.5M212.3,316.7h6M212.3,331.2h6M217.2,319.5v13.5M214.2,319.5h6M214.2,333.0h6M244.6,319.4v18.2M241.6,319.4h6M241.6,337.6h6M213.7,317.1v18.1M210.7,317.1h6M210.7,335.2h6M211.7,314.3v16.0M208.7,314.3h6M208.7,330.3h6M220.9,329.7v17.0M217.9,329.7h6M217.9,346.7h6M221.5,319.2v14.7M218.5,319.2h6M218.5,333.8h6M235.2,309.2v18.4M232.2,309.2h6M232.2,327.6h6M232.1,322.0v13.0M229.1,322.0h6M229.1,335.0h6M207.4,319.1v15.5M204.4,319.1h6M204.4,334.6h6M204.9,315.3v12.7M201.9,315.3h6M201.9,328.0h6M204.7,318.1v13.9M201.7,318.1h6M201.7,332.0h6M229.2,316.0v15.4M226.2,316.0h6M226.2,331.4h6M205.3,320.5v16.5M202.3,320.5h6M202.3,337.0h6M234.5,320.7v13.8M231.5,320.7h6M231.5,334.5h6M239.2,315.6v15.8M236.2,315.6h6M236.2,331.4h6M234.7,314.3v10.7M231.7,314.3h6M231.7,325.0h6M214.0,320.2v15.8M211.0,320.2h6M211.0,336.1h6M238.0,315.0v15.4M235.0,315.0h6M235.0,330.4h6M231.2,318.8v10.6M228.2,318.8h6M228.2,329.4h6M206.8,322.9v12.9M203.8,322.9h6M203.8,335.8h6M239.3,318.6v15.3M236.3,318.6h6M236.3,333.9h6M237.4,315.9v11.4M234.4,315.9h6M234.4,327.4h6M216.7,322.2v15.9M213.7,322.2h6M213.7,338.1h6M207.5,325.0v14.3M204.5,325.0h6M204.5,339.3h6M223.3,319.8v15.3M220.3,319.8h6M220.3,335.1h6M222.5,320.0v15.8M219.5,320.0h6M219.5,335.8h6M223.3,315.3v13.9M220.3,315.3h6M220.3,329.2h6M216.9,322.6v14.3M213.9,322.6h6M213.9,336.9h6M238.6,313.6v13.6M235.6,313.6h6M235.6,327.1h6M226.5,323.4v15.2M223.5,323.4h6M223.5,338.6h6M234.0,316.9v16.0M231.0,316.9h6M231.0,332.9h6M211.8,323.5v17.0M208.8,323.5h6M208.8,340.6h6M227.4,314.5v11.9M224.4,314.5h6M224.4,326.4h6M230.2,311.9v12.1M227.2,311.9h6M227.2,324.1h6M233.2,322.3v18.4M230.2,322.3h6M230.2,340.7h6M242.5,322.3v15.4M239.5,322.3h6M239.5,337.7h6M224.8,325.4v18.2M221.8,325.4h6M221.8,343.6h6M232.0,321.0v14.7M229.0,321.0h6M229.0,335.7h6M213.7,316.7v15.4M210.7,316.7h6M210.7,332.1h6M211.7,321.4v16.4M208.7,321.4h6M208.7,337.8h6M242.7,321.4v17.7M239.7,321.4h6M239.7,339.1h6M210.2,319.9v18.8M207.2,319.9h6M207.2,338.6h6M216.2,321.1v12.7M213.2,321.1h6M213.2,333.8h6M232.7,322.0v14.4M229.7,322.0h6M229.7,336.4h6M221.1,327.2v14.2M218.1,327.2h6M218.1,341.4h6M217.1,321.8v16.4M214.1,321.8h6M214.1,338.2h6M232.4,316.2v14.3M229.4,316.2h6M229.4,330.5h6M222.3,318.3v18.4M219.3,318.3h6M219.3,336.6h6M219.8,317.8v12.9M216.8,317.8h6M216.8,330.8h6M225.1,324.3v17.5M222.1,324.3h6M222.1,341.8h6M213.1,321.2v10.9M210.1,321.2h6M210.1,332.1h6M209.3,318.2v16.4M206.3,318.2h6M206.3,334.6h6M237.6,321.0v13.8M234.6,321.0h6M234.6,334.9h6M216.6,317.2v16.9M213.6,317.2h6M213.6,334.1h6M234.2,321.3v16.1M231.2,321.3h6M231.2,337.5h6M227.3,314.2v10.6M224.3,314.2h6M224.3,324.7h6M212.2,321.4v12.9M209.2,321.4h6M209.2,334.2h6M229.7,318.0v17.6M226.7,318.0h6M226.7,335.6h6M230.8,316.5v12.6M227.8,316.5h6M227.8,329.0h6M212.7,320.6v12.7M209.7,320.6h6M209.7,333.3h6M219.6,315.8v14.9M216.6,315.8h6M216.6,330.7h6M235.4,318.6v16.6M232.4,318.6h6M232.4,335.3h6M230.8,317.5v14.4M227.8,317.5h6M227.8,331.9h6M223.7,316.0v11.3M220.7,316.0h6M220.7,327.3h6M219.8,315.7v18.7M216.8,315.7h6M216.8,334.4h6M222.5,326.8v15.4M219.5,326.8h6M219.5,342.2h6M237.5,314.0v16.5M234.5,314.0h6M234.5,330.5h6M220.0,327.5v17.0M217.0,327.5h6M217.0,344.5h6M205.7,320.6v18.0M202.7,320.6h6M202.7,338.7h6M241.2,317.2v14.8M238.2,317.2h6M238.2,332.0h6M205.4,317.7v14.3M202.4,317.7h6M202.4,332.0h6M217.5,319.2v16.5M214.5,319.2h6M214.5,335.7h6M213.0,320.0v16.3M210.0,320.0h6M210.0,336.3h6M232.8,327.2v15.3M229.8,327.2h6M229.8,342.5h6M241.8,321.4v18.5M238.8,321.4h6M238.8,339.9h6M207.5,324.7v17.8M204.5,324.7h6M204.5,342.6h6M228.7,314.0v14.4M225.7,314.0h6M225.7,328.5h6M242.8,316.1v10.1M239.8,316.1h6M239.8,326.2h6M224.9,323.0v12.2M221.9,323.0h6M221.9,335.2h6M221.7,325.8v17.8M218.7,325.8h6M218.7,343.6h6M210.5,318.5v16.2M207.5,318.5h6M207.5,334.7h6M213.5,322.1v15.0M210.5,322.1h6M210.5,337.1h6M236.2,313.3v16.0M233.2,313.3h6M233.2,329.4h6M225.4,325.9v19.6M222.4,325.9h6M222.4,345.4h6M236.2,318.4v13.3M233.2,318.4h6M233.2,331.7h6M219.8,311.5v12.7M216.8,311.5h6M216.8,324.2h6M236.9,320.2v12.4M233.9,320.2h6M233.9,332.6h6M204.8,318.3v14.8M201.8,318.3h6M201.8,333.1h6M210.9,324.8v16.8M207.9,324.8h6M207.9,341.6h6M225.1,322.4v17.8M222.1,322.4h6M222.1,340.2h6M240.1,325.2v12.4M237.1,325.2h6M237.1,337.6h6M215.3,322.1v14.2M212.3,322.1h6M212.3,336.3h6M236.9,318.9v19.3M233.9,318.9h6M233.9,338.1h6M238.2,326.1v16.7M235.2,326.1h6M235.2,342.7h6M214.9,317.0v19.5M211.9,317.0h6M211.9,336.5h6M229.9,325.3v16.1M226.9,325.3h6M226.9,341.4h6M229.2,311.7v12.7M226.2,311.7h6M226.2,324.5h6M205.5,314.2v17.3M202.5,314.2h6M202.5,331.5h6M243.7,325.9v15.5M240.7,325.9h6M240.7,341.4h6M216.5,320.0v15.5M213.5,320.0h6M213.5,335.5h6M235.1,328.3v13.1M232.1,328.3h6M232.1,341.5h6M207.7,314.1v15.2M204.7,314.1h6M204.7,329.3h6M223.5,312.9v13.5M220.5,312.9h6M220.5,326.4h6M207.6,320.0v14.0M204.6,320.0h6M204.6,334.0h6M217.0,322.5v11.4M214.0,322.5h6M214.0,333.9h6M223.3,318.7v15.9M220.3,318.7h6M220.3,334.5h6M217.9,310.4v16.3M214.9,310.4h6M214.9,326.7h6M242.9,318.6v11.2M239.9,318.6h6M239.9,329.8h6M232.0,311.5v15.7M229.0,311.5h6M229.0,327.1h6M242.0,317.5v12.6M239.0,317.5h6M239.0,330.0h6M243.7,321.4v15.4M240.7,321.4h6M240.7,336.8h6M210.6,312.5v16.8M207.6,312.5h6M207.6,329.2h6M239.1,322.4v18.3M236.1,322.4h6M236.1,340.8h6M207.0,321.9v16.6M204.0,321.9h6M204.0,338.5h6M230.3,320.3v15.4M227.3,320.3h6M227.3,335.7h6M206.7,320.7v18.0M203.7,320.7h6M203.7,338.8h6M229.9,323.4v18.4M226.9,323.4h6M226.9,341.8h6M214.4,312.6v14.8M211.4,312.6h6M211.4,327.4h6M216.3,318.7v12.9M213.3,318.7h6M213.3,331.6h6M206.2,318.4v13.4M203.2,318.4h6M203.2,331.9h6M216.8,317.8v16.2M213.8,317.8h6M213.8,334.0h6M229.0,315.6v15.9M226.0,315.6h6M226.0,331.5h6M215.9,318.3v11.6M212.9,318.3h6M212.9,329.9h6M216.7,319.1v16.0M213.7,319.1h6M213.7,335.0h6M240.2,317.6v11.1M237.2,317.6h6M237.2,328.7h6M217.7,322.1v14.3M214.7,322.1h6M214.7,336.4h6M242.4,321.8v17.3M239.4,321.8h6M239.4,339.1h6M238.7,319.3v14.5M235.7,319.3h6M235.7,333.9h6M224.4,319.3v15.7M221.4,319.3h6M221.4,335.0h6M234.2,319.4v9.8M231.2,319.4h6M231.2,329.2h6M212.7,325.2v16.4M209.7,325.2h6M209.7,341.7h6M233.9,322.4v15.6M230.9,322.4h6M230.9,338.0h6M223.0,312.7v12.1M220.0,312.7h6M220.0,324.8h6M222.6,318.7v14.5M219.6,318.7h6M219.6,333.1h6M241.7,318.1v15.0M238.7,318.1h6M238.7,333.2h6M233.5,320.1v16.0M230.5,320.1h6M230.5,336.1h6M225.0,319.7v11.6M222.0,319.7h6M222.0,331.2h6M211.3,319.3v10.8M208.3,319.3h6M208.3,330.1h6M239.8,316.5v15.0M236.8,316.5h6M236.8,331.6h6M226.3,315.3v12.0M223.3,315.3h6M223.3,327.3h6M237.8,320.6v16.4M234.8,320.6h6M234.8,337.0h6M244.6,323.0v17.3M241.6,323.0h6M241.6,340.3h6M243.5,314.9v14.8M240.5,314.9h6M240.5,329.7h6M242.3,320.7v14.4M239.3,320.7h6M239.3,335.1h6M236.9,318.3v14.2M233.9,318.3h6M233.9,332.5h6M230.4,314.8v16.0M227.4,314.8h6M227.4,330.8h6M225.3,323.1v18.0M222.3,323.1h6M222.3,341.0h6M216.8,319.2v15.0M213.8,319.2h6M213.8,334.2h6M229.0,321.7v13.2M226.0,321.7h6M226.0,334.9h6M215.0,312.3v10.8M212.0,312.3h6M212.0,323.1h6M233.9,314.7v18.9M230.9,314.7h6M230.9,333.6h6M227.8,316.8v16.6M224.8,316.8h6M224.8,333.5h6M229.3,316.6v14.8M226.3,316.6h6M226.3,331.4h6M230.4,319.7v14.4M227.4,319.7h6M227.4,334.2h6M232.6,313.4v15.1M229.6,313.4h6M229.6,328.5h6M213.0,320.2v13.2M210.0,320.2h6M210.0,333.4h6M218.8,318.1v12.5M215.8,318.1h6M215.8,330.5h6M214.1,323.0v15.8M211.1,323.0h6M211.1,338.8h6M225.7,323.9v14.6M222.7,323.9h6M222.7,338.5h6M244.3,318.3v12.7M241.3,318.3h6M241.3,331.0h6M235.2,315.6v11.9M232.2,315.6h6M232.2,327.5h6M238.5,324.4v17.1M235.5,324.4h6M235.5,341.5h6M208.8,322.7v13.9M205.8,322.7h6M205.8,336.7h6M233.0,324.6v14.3M230.0,324.6h6M230.0,338.8h6M210.1,318.7v16.6M207.1,318.7h6M207.1,335.2h6M237.8,311.3v12.2M234.8,311.3h6M234.8,323.5h6M213.2,314.1v14.4M210.2,314.1h6M210.2,328.6h6M213.6,323.2v14.9M210.6,323.2h6M210.6,338.1h6M238.7,316.1v18.4M235.7,316.1h6M235.7,334.5h6M219.2,318.6v16.9M216.2,318.6h6M216.2,335.6h6M230.7,312.3v10.8M227.7,312.3h6M227.7,323.1h6M212.7,314.9v15.6M209.7,314.9h6M209.7,330.5h6M242.7,316.1v15.2M239.7,316.1h6M239.7,331.3h6M210.3,315.0v14.2M207.3,315.0h6M207.3,329.3h6M226.5,326.1v14.5M223.5,326.1h6M223.5,340.6h6M221.3,318.6v14.5M218.3,318.6h6M218.3,333.0h6M225.0,321.5v15.5M222.0,321.5h6M222.0,337.0h6M221.1,322.3v15.8M218.1,322.3h6M218.1,338.1h6M212.6,324.8v11.8M209.6,324.8h6M209.6,336.6h6M231.6,317.0v15.8M228.6,317.0h6M228.6,332.8h6M212.4,322.0v15.9M209.4,322.0h6M209.4,337.9h6M222.8,318.1v15.1M219.8,318.1h6M219.8,333.2h6M215.7,315.2v13.9M212.7,315.2h6M212.7,329.1h6M215.6,324.0v18.9M212.6,324.0h6M212.6,342.9h6M216.1,310.9v16.4M213.1,310.9h6M213.1,327.2h6M228.4,320.8v17.6M225.4,320.8h6M225.4,338.4h6M226.2,318.9v14.2M223.2,318.9h6M223.2,333.1h6M206.8,319.4v13.4M203.8,319.4h6M203.8,332.8h6M241.3,314.9v15.0M238.3,314.9h6M238.3,330.0h6M221.4,327.9v17.2M218.4,327.9h6M218.4,345.1h6M238.8,315.8v15.9M235.8,315.8h6M235.8,331.7h6M220.3,318.1v13.5M217.3,318.1h6M217.3,331.6h6M241.3,319.0v14.3M238.3,319.0h6M238.3,333.3h6M218.2,319.0v13.7M215.2,319.0h6M215.2,332.7h6M209.2,320.2v14.2M206.2,320.2h6M206.2,334.4h6M210.0,319.0v15.9M207.0,319.0h6M207.0,334.9h6M235.3,312.7v11.9M232.3,312.7h6M232.3,324.6h6M211.8,316.7v15.2M208.8,316.7h6M208.8,331.9h6M212.6,320.6v14.9M209.6,320.6h6M209.6,335.5h6M233.5,323.2v17.7M230.5,323.2h6M230.5,340.9h6M238.9,324.0v13.8M235.9,324.0h6M235.9,337.8h6M236.6,325.3v15.2M233.6,325.3h6M233.6,340.5h6M233.8,315.2v13.1M230.8,315.2h6M230.8,328.2h6M211.8,321.4v14.3M208.8,321.4h6M208.8,335.7h6M227.2,323.4v13.5M224.2,323.4h6M224.2,336.9h6M235.0,316.6v11.7M232.0,316.6h6M232.0,328.3h6M234.3,318.2v18.6M231.3,318.2h6M231.3,336.8h6M237.2,315.1v17.2M234.2,315.1h6M234.2,332.3h6M214.4,320.7v17.3M211.4,320.7h6M211.4,338.0h6M219.8,325.5v17.9M216.8,325.5h6M216.8,343.4h6M232.0,322.2v12.9M229.0,322.2h6M229.0,335.1h6M236.4,321.0v14.1M233.4,321.0h6M233.4,335.1h6M217.6,313.2v14.2M214.6,313.2h6M214.6,327.3h6M238.9,318.1v11.3M235.9,318.1h6M235.9,329.4h6M212.1,322.0v12.6M209.1,322.0h6M209.1,334.6h6M237.4,319.1v14.5M234.4,319.1h6M234.4,333.5h6M224.7,314.6v16.1M221.7,314.6h6M221.7,330.7h6M220.6,315.9v13.3M217.6,315.9h6M217.6,329.2h6M231.0,324.2v14.4M228.0,324.2h6M228.0,338.5h6M235.1,320.9v16.0M232.1,320.9h6M232.1,336.9h6M217.5,322.7v15.3M214.5,322.7h6M214.5,338.0h6M234.9,320.9v16.9M231.9,320.9h6M231.9,337.7h6M230.2,319.8v15.8M227.2,319.8h6M227.2,335.6h6M209.0,318.3v13.4M206.0,318.3h6M206.0,331.8h6M219.8,320.1v12.3M216.8,320.1h6M216.8,332.4h6M221.1,319.5v15.1M218.1,319.5h6M218.1,334.5h6M242.2,316.9v22.0M239.2,316.9h6M239.2,338.9h6M234.5,318.1v14.9M231.5,318.1h6M231.5,333.0h6M210.3,316.6v12.0M207.3,316.6h6M207.3,328.6h6M225.4,316.4v15.7M222.4,316.4h6M222.4,332.1h6M236.6,315.1v14.5M233.6,315.1h6M233.6,329.6h6M243.8,316.8v15.3M240.8,316.8h6M240.8,332.1h6M210.8,328.0v17.8M207.8,328.0h6M207.8,345.8h6M242.3,316.6v13.8M239.3,316.6h6M239.3,330.4h6M225.0,314.9v11.1M222.0,314.9h6M222.0,326.0h6M211.2,322.5v14.2M208.2,322.5h6M208.2,336.7h6M230.9,314.9v16.4M227.9,314.9h6M227.9,331.3h6M221.6,324.8v17.7M218.6,324.8h6M218.6,342.5h6M241.0,318.9v15.0M238.0,318.9h6M238.0,333.9h6M223.9,315.2v12.1M220.9,315.2h6M220.9,327.4h6M242.4,321.5v16.5M239.4,321.5h6M239.4,338.0h6M238.1,315.1v13.7M235.1,315.1h6M235.1,328.8h6M212.2,321.7v17.7M209.2,321.7h6M209.2,339.4h6M230.5,316.7v16.4M227.5,316.7h6M227.5,333.1h6M233.1,326.4v13.9M230.1,326.4h6M230.1,340.3h6M233.6,322.9v15.3M230.6,322.9h6M230.6,338.2h6M207.9,327.0v15.8M204.9,327.0h6M204.9,342.8h6M226.1,325.3v19.6M223.1,325.3h6M223.1,344.9h6M223.3,319.4v17.3M220.3,319.4h6M220.3,336.7h6M228.1,327.1v15.6M225.1,327.1h6M225.1,342.7h6M231.5,324.3v19.9M228.5,324.3h6M228.5,344.2h6M206.1,320.1v8.2M203.1,320.1h6M203.1,328.3h6M232.4,313.5v14.8M229.4,313.5h6M229.4,328.3h6M228.4,322.8v16.4M225.4,322.8h6M225.4,339.2h6M206.3,326.1v18.1M203.3,326.1h6M203.3,344.2h6M226.8,322.1v15.2M223.8,322.1h6M223.8,337.2h6M228.4,314.9v13.8M225.4,314.9h6M225.4,328.7h6M244.8,319.7v15.1M241.8,319.7h6M241.8,334.8h6M232.3,324.2v15.5M229.3,324.2h6M229.3,339.7h6M217.9,321.1v16.0M214.9,321.1h6M214.9,337.0h6M207.1,315.3v12.1M204.1,315.3h6M204.1,327.4h6M240.2,318.0v15.4M237.2,318.0h6M237.2,333.4h6M235.5,321.7v15.0M232.5,321.7h6M232.5,336.7h6M238.1,315.5v13.6M235.1,315.5h6M235.1,329.2h6M208.5,320.6v13.1M205.5,320.6h6M205.5,333.8h6M229.4,316.4v13.1M226.4,316.4h6M226.4,329.5h6M218.5,318.6v13.5M215.5,318.6h6M215.5,332.1h6M220.3,317.8v15.7M217.3,317.8h6M217.3,333.5h6M220.5,324.5v16.6M217.5,324.5h6M217.5,341.0h6M239.7,317.6v14.4M236.7,317.6h6M236.7,332.0h6M231.3,323.2v15.9M228.3,323.2h6M228.3,339.1h6M216.9,323.1v16.6M213.9,323.1h6M213.9,339.7h6M239.0,323.2v12.6M236.0,323.2h6M236.0,335.8h6M216.9,320.2v11.6M213.9,320.2h6M213.9,331.8h6M217.0,323.9v17.6M214.0,323.9h6M214.0,341.5h6M240.8,319.4v11.7M237.8,319.4h6M237.8,331.1h6M205.7,317.7v16.5M202.7,317.7h6M202.7,334.2h6M222.0,323.9v13.8M219.0,323.9h6M219.0,337.8h6M234.1,321.8v17.4M231.1,321.8h6M231.1,339.2h6M212.5,320.8v7.2M209.5,320.8h6M209.5,328.0h6M226.1,321.6v13.1M223.1,321.6h6M223.1,334.7h6M207.7,319.0v16.6M204.7,319.0h6M204.7,335.6h6M209.1,324.5v12.7M206.1,324.5h6M206.1,337.1h6M229.2,324.4v16.4M226.2,324.4h6M226.2,340.8h6M240.8,317.5v17.0M237.8,317.5h6M237.8,334.5h6M206.9,325.7v18.7M203.9,325.7h6M203.9,344.4h6M208.5,319.8v16.9M205.5,319.8h6M205.5,336.7h6M228.8,318.4v17.1M225.8,318.4h6M225.8,335.5h6M219.8,315.9v12.3M216.8,315.9h6M216.8,328.2h6M209.4,320.5v17.4M206.4,320.5h6M206.4,337.9h6M230.3,325.2v14.2M227.3,325.2h6M227.3,339.3h6M233.3,311.4v12.4M230.3,311.4h6M230.3,323.9h6M229.4,325.8v12.7M226.4,325.8h6M226.4,338.5h6M231.8,322.1v12.1M228.8,322.1h6M228.8,334.3h6M234.1,325.8v17.7M231.1,325.8h6M231.1,343.5h6M210.8,318.0v9.3M207.8,318.0h6M207.8,327.4h6M244.4,319.8v14.3M241.4,319.8h6M241.4,334.1h6M207.6,322.7v14.5M204.6,322.7h6M204.6,337.2h6M230.4,316.0v12.0M227.4,316.0h6M227.4,328.0h6M222.6,326.6v16.3M219.6,326.6h6M219.6,342.8h6M208.6,321.0v15.4M205.6,321.0h6M205.6,336.5h6M238.9,321.1v16.6M235.9,321.1h6M235.9,337.7h6M224.4,325.4v12.9M221.4,325.4h6M221.4,338.3h6M228.9,327.2v22.1M225.9,327.2h6M225.9,349.3h6M232.7,319.6v11.8M229.7,319.6h6M229.7,331.4h6M225.6,326.6v17.7M222.6,326.6h6M222.6,344.3h6M229.3,321.5v11.0M226.3,321.5h6M226.3,332.5h6M219.8,326.4v15.7M216.8,326.4h6M216.8,342.1h6M224.7,331.2v15.3M221.7,331.2h6M221.7,346.4h6M214.9,312.2v18.2M211.9,312.2h6M211.9,330.5h6M226.0,321.9v15.4M223.0,321.9h6M223.0,337.3h6M217.3,315.3v12.5M214.3,315.3h6M214.3,327.8h6M208.3,315.6v12.0M205.3,315.6h6M205.3,327.6h6M234.6,321.7v14.7M231.6,321.7h6M231.6,336.4h6M213.8,314.2v16.4M210.8,314.2h6M210.8,330.7h6M225.9,321.6v16.9M222.9,321.6h6M222.9,338.5h6M214.9,316.8v15.2M211.9,316.8h6M211.9,331.9h6M224.0,320.3v18.8M221.0,320.3h6M221.0,339.1h6M210.5,314.8v15.1M207.5,314.8h6M207.5,329.8h6M210.8,316.7v15.6M207.8,316.7h6M207.8,332.3h6M215.5,323.2v12.9M212.5,323.2h6M212.5,336.0h6M235.4,319.1v14.8M232.4,319.1h6M232.4,333.9h6M241.2,321.5v15.8M238.2,321.5h6M238.2,337.4h6M236.0,320.6v14.9M233.0,320.6h6M233.0,335.5h6M234.7,316.6v14.0M231.7,316.6h6M231.7,330.6h6M262.4,327.0v11.7M259.4,327.0h6M259.4,338.7h6M265.7,324.9v16.0M262.7,324.9h6M262.7,340.9h6M263.6,314.5v9.7M260.6,314.5h6M260.6,324.2h6M265.8,319.3v12.0M262.8,319.3h6M262.8,331.3h6M264.7,324.4v12.7M261.7,324.4h6M261.7,337.1h6M265.3,312.9v9.6M262.3,312.9h6M262.3,322.4h6M262.8,318.6v10.4M259.8,318.6h6M259.8,329.0h6M261.2,324.0v15.4M258.2,324.0h6M258.2,339.4h6M263.9,321.9v8.9M260.9,321.9h6M260.9,330.9h6M263.5,320.9v9.5M260.5,320.9h6M260.5,330.4h6M265.1,323.0v14.5M262.1,323.0h6M262.1,337.5h6M263.6,327.0v14.1M260.6,327.0h6M260.6,341.1h6M263.3,321.0v9.4M260.3,321.0h6M260.3,330.4h6M261.4,319.8v13.3M258.4,319.8h6M258.4,333.1h6M264.2,315.5v8.4M261.2,315.5h6M261.2,323.9h6M266.1,317.1v11.2M263.1,317.1h6M263.1,328.3h6M262.5,327.2v12.6M259.5,327.2h6M259.5,339.8h6M265.6,321.7v11.6M262.6,321.7h6M262.6,333.2h6M263.5,319.5v13.3M260.5,319.5h6M260.5,332.8h6M263.0,326.4v13.9M260.0,326.4h6M260.0,340.3h6M261.5,315.6v11.1M258.5,315.6h6M258.5,326.7h6M264.4,319.1v9.9M261.4,319.1h6M261.4,329.0h6M263.5,318.6v12.6M260.5,318.6h6M260.5,331.2h6M261.8,320.2v12.0M258.8,320.2h6M258.8,332.1h6M262.8,327.2v11.4M259.8,327.2h6M259.8,338.6h6M261.9,323.7v10.6M258.9,323.7h6M258.9,334.3h6M261.9,320.3v10.9M258.9,320.3h6M258.9,331.2h6M262.4,324.6v15.6M259.4,324.6h6M259.4,340.1h6M265.4,320.4v13.5M262.4,320.4h6M262.4,333.9h6M264.5,322.0v16.4M261.5,322.0h6M261.5,338.4h6M263.6,329.0v12.7M260.6,329.0h6M260.6,341.8h6M261.5,318.4v11.1M258.5,318.4h6M258.5,329.5h6M263.7,326.2v12.9M260.7,326.2h6M260.7,339.1h6M266.3,320.5v14.5M263.3,320.5h6M263.3,335.0h6M261.2,321.2v9.7M258.2,321.2h6M258.2,330.9h6M265.2,321.1v11.0M262.2,321.1h6M262.2,332.1h6M266.1,320.0v9.7M263.1,320.0h6M263.1,329.7h6M263.5,314.8v9.4M260.5,314.8h6M260.5,324.1h6M262.4,317.3v11.3M259.4,317.3h6M259.4,328.6h6M261.7,327.0v14.3M258.7,327.0h6M258.7,341.3h6M262.9,316.9v9.8M259.9,316.9h6M259.9,326.7h6M263.3,309.4v11.4M260.3,309.4h6M260.3,320.8h6M265.4,323.5v12.5M262.4,323.5h6M262.4,336.0h6M265.3,319.6v13.2M262.3,319.6h6M262.3,332.7h6M266.0,319.2v11.0M263.0,319.2h6M263.0,330.1h6M265.6,328.4v14.3M262.6,328.4h6M262.6,342.6h6M261.3,321.6v10.7M258.3,321.6h6M258.3,332.3h6M265.5,317.9v11.9M262.5,317.9h6M262.5,329.8h6M264.7,324.1v9.0M261.7,324.1h6M261.7,333.1h6M263.4,324.6v12.0M260.4,324.6h6M260.4,336.6h6M265.1,326.4v17.1M262.1,326.4h6M262.1,343.5h6M263.7,322.5v14.9M260.7,322.5h6M260.7,337.4h6M262.5,321.6v11.8M259.5,321.6h6M259.5,333.3h6M264.8,316.7v8.1M261.8,316.7h6M261.8,324.8h6M265.8,322.5v9.1M262.8,322.5h6M262.8,331.6h6M264.3,317.7v12.8M261.3,317.7h6M261.3,330.4h6M264.8,313.3v7.8M261.8,313.3h6M261.8,321.1h6M266.0,318.0v11.1M263.0,318.0h6M263.0,329.2h6M261.6,325.1v11.6M258.6,325.1h6M258.6,336.7h6M264.8,322.7v13.4M261.8,322.7h6M261.8,336.1h6M263.7,310.7v9.6M260.7,310.7h6M260.7,320.4h6M264.3,322.6v11.3M261.3,322.6h6M261.3,333.9h6M262.9,312.6v9.2M259.9,312.6h6M259.9,321.8h6M264.9,325.8v13.7M261.9,325.8h6M261.9,339.5h6M261.4,321.2v10.4M258.4,321.2h6M258.4,331.6h6M263.9,313.5v9.4M260.9,313.5h6M260.9,322.9h6M262.4,325.9v16.0M259.4,325.9h6M259.4,341.9h6M264.6,315.8v9.1M261.6,315.8h6M261.6,324.9h6M264.7,311.2v9.0M261.7,311.2h6M261.7,320.2h6M263.4,326.2v11.2M260.4,326.2h6M260.4,337.4h6M263.1,315.3v8.8M260.1,315.3h6M260.1,324.1h6M261.5,320.2v13.2M258.5,320.2h6M258.5,333.4h6M264.3,311.2v7.6M261.3,311.2h6M261.3,318.8h6M265.2,314.9v13.5M262.2,314.9h6M262.2,328.4h6M262.5,329.1v13.6M259.5,329.1h6M259.5,342.8h6M262.6,322.5v10.6M259.6,322.5h6M259.6,333.1h6M262.0,322.1v15.1M259.0,322.1h6M259.0,337.2h6M265.6,327.8v16.9M262.6,327.8h6M262.6,344.7h6M264.4,316.5v11.1M261.4,316.5h6M261.4,327.6h6M263.1,319.2v14.1M260.1,319.2h6M260.1,333.4h6M266.1,317.2v9.9M263.1,317.2h6M263.1,327.2h6M263.3,316.2v10.2M260.3,316.2h6M260.3,326.4h6M263.9,315.9v8.5M260.9,315.9h6M260.9,324.4h6M263.3,322.2v14.7M260.3,322.2h6M260.3,336.9h6M264.6,318.2v12.6M261.6,318.2h6M261.6,330.8h6M262.0,319.5v10.0M259.0,319.5h6M259.0,329.5h6M263.5,313.2v10.0M260.5,313.2h6M260.5,323.2h6M262.1,316.0v9.7M259.1,316.0h6M259.1,325.7h6M263.9,319.0v13.8M260.9,319.0h6M260.9,332.8h6M262.4,321.3v10.4M259.4,321.3h6M259.4,331.7h6M261.3,319.5v10.3M258.3,319.5h6M258.3,329.8h6M261.9,317.0v10.6M258.9,317.0h6M258.9,327.6h6M264.8,319.1v9.2M261.8,319.1h6M261.8,328.3h6M261.7,319.7v13.4M258.7,319.7h6M258.7,333.1h6M265.8,324.1v12.6M262.8,324.1h6M262.8,336.7h6M264.3,320.7v13.2M261.3,320.7h6M261.3,333.9h6M263.9,324.2v12.9M260.9,324.2h6M260.9,337.1h6M262.9,328.5v15.2M259.9,328.5h6M259.9,343.7h6M265.0,322.7v17.7M262.0,322.7h6M262.0,340.3h6M264.0,313.8v13.5M261.0,313.8h6M261.0,327.2h6M265.9,321.9v12.5M262.9,321.9h6M262.9,334.4h6M266.3,321.8v11.0M263.3,321.8h6M263.3,332.7h6M263.3,317.8v10.1M260.3,317.8h6M260.3,327.9h6M261.3,317.3v10.7M258.3,317.3h6M258.3,328.0h6M262.5,323.9v9.6M259.5,323.9h6M259.5,333.6h6M264.9,318.2v15.6M261.9,318.2h6M261.9,333.8h6M262.1,317.7v15.7M259.1,317.7h6M259.1,333.4h6M261.3,319.5v13.5M258.3,319.5h6M258.3,333.0h6M263.3,315.5v11.4M260.3,315.5h6M260.3,327.0h6M264.9,318.0v11.6M261.9,318.0h6M261.9,329.6h6M261.9,324.8v12.0M258.9,324.8h6M258.9,336.9h6M263.1,324.2v14.8M260.1,324.2h6M260.1,339.0h6M265.4,315.4v10.0M262.4,315.4h6M262.4,325.4h6M264.9,319.3v9.6M261.9,319.3h6M261.9,328.8h6M261.5,327.7v12.0M258.5,327.7h6M258.5,339.7h6M263.8,324.6v15.3M260.8,324.6h6M260.8,339.9h6M261.5,318.5v15.2M258.5,318.5h6M258.5,333.7h6M261.3,321.5v10.7M258.3,321.5h6M258.3,332.2h6M262.9,329.9v16.3M259.9,329.9h6M259.9,346.2h6M261.5,320.4v6.0M258.5,320.4h6M258.5,326.4h6M403.9,321.2v13.3M400.9,321.2h6M400.9,334.5h6M405.9,312.9v9.0M402.9,312.9h6M402.9,321.8h6M405.9,328.6v18.9M402.9,328.6h6M402.9,347.5h6M406.7,324.0v15.2M403.7,324.0h6M403.7,339.2h6M406.2,319.1v13.6M403.2,319.1h6M403.2,332.7h6M405.6,318.7v14.7M402.6,318.7h6M402.6,333.3h6M409.1,321.7v14.9M406.1,321.7h6M406.1,336.6h6M404.9,316.3v11.4M401.9,316.3h6M401.9,327.7h6M408.5,312.4v14.2M405.5,312.4h6M405.5,326.6h6M410.1,313.5v10.5M407.1,313.5h6M407.1,324.0h6M404.5,315.7v12.9M401.5,315.7h6M401.5,328.6h6M409.0,324.7v11.4M406.0,324.7h6M406.0,336.1h6M407.7,317.7v12.0M404.7,317.7h6M404.7,329.7h6M406.9,325.5v14.0M403.9,325.5h6M403.9,339.5h6M408.1,332.0v14.3M405.1,332.0h6M405.1,346.3h6M403.6,319.2v13.1M400.6,319.2h6M400.6,332.3h6M403.3,324.6v14.1M400.3,324.6h6M400.3,338.7h6M413.7,321.6v12.7M410.7,321.6h6M410.7,334.2h6M404.2,329.3v18.1M401.2,329.3h6M401.2,347.4h6M410.0,321.3v11.3M407.0,321.3h6M407.0,332.6h6M406.7,315.4v10.1M403.7,315.4h6M403.7,325.5h6M405.8,327.7v15.2M402.8,327.7h6M402.8,342.9h6M412.2,331.6v14.1M409.2,331.6h6M409.2,345.7h6M413.3,310.3v6.0M410.3,310.3h6M410.3,316.3h6M412.6,318.3v12.8M409.6,318.3h6M409.6,331.1h6M408.6,325.1v17.1M405.6,325.1h6M405.6,342.2h6M403.9,324.1v13.8M400.9,324.1h6M400.9,337.9h6M412.8,313.2v10.7M409.8,313.2h6M409.8,323.8h6M408.4,321.8v13.5M405.4,321.8h6M405.4,335.3h6M409.2,319.4v16.5M406.2,319.4h6M406.2,335.9h6M406.2,334.8v15.3M403.2,334.8h6M403.2,350.1h6M406.1,314.6v16.6M403.1,314.6h6M403.1,331.2h6M408.3,317.7v10.8M405.3,317.7h6M405.3,328.4h6M406.7,328.7v14.7M403.7,328.7h6M403.7,343.4h6M403.1,325.8v16.5M400.1,325.8h6M400.1,342.3h6M408.0,314.3v8.3M405.0,314.3h6M405.0,322.5h6M403.8,324.5v14.2M400.8,324.5h6M400.8,338.8h6M405.4,325.2v15.5M402.4,325.2h6M402.4,340.7h6M409.9,325.6v17.0M406.9,325.6h6M406.9,342.6h6M404.7,317.6v9.3M401.7,317.6h6M401.7,327.0h6M412.6,319.4v12.5M409.6,319.4h6M409.6,331.9h6M403.9,323.9v13.6M400.9,323.9h6M400.9,337.5h6M406.6,315.8v11.4M403.6,315.8h6M403.6,327.2h6M402.9,325.0v15.1M399.9,325.0h6M399.9,340.0h6M412.6,327.7v15.4M409.6,327.7h6M409.6,343.0h6M413.6,315.8v9.3M410.6,315.8h6M410.6,325.1h6M403.2,326.6v15.3M400.2,326.6h6M400.2,341.8h6M405.1,322.9v14.2M402.1,322.9h6M402.1,337.1h6M409.1,315.9v17.7M406.1,315.9h6M406.1,333.6h6M403.6,333.6v15.9M400.6,333.6h6M400.6,349.4h6M405.3,312.5v10.8M402.3,312.5h6M402.3,323.3h6M405.2,327.3v13.2M402.2,327.3h6M402.2,340.5h6M404.3,323.3v12.1M401.3,323.3h6M401.3,335.4h6M406.7,321.6v12.9M403.7,321.6h6M403.7,334.5h6M403.4,322.5v12.4M400.4,322.5h6M400.4,335.0h6M405.2,310.8v14.3M402.2,310.8h6M402.2,325.1h6M408.0,318.1v10.2M405.0,318.1h6M405.0,328.2h6M403.0,320.8v12.3M400.0,320.8h6M400.0,333.1h6M407.5,325.5v13.3M404.5,325.5h6M404.5,338.8h6M405.7,310.6v9.4M402.7,310.6h6M402.7,319.9h6M408.0,325.3v14.9M405.0,325.3h6M405.0,340.2h6M410.7,324.2v14.6M407.7,324.2h6M407.7,338.8h6M404.1,319.3v10.0M401.1,319.3h6M401.1,329.4h6M410.3,327.3v10.5M407.3,327.3h6M407.3,337.8h6M410.2,328.7v17.5M407.2,328.7h6M407.2,346.3h6M402.8,313.2v8.5M399.8,313.2h6M399.8,321.7h6M409.2,322.7v15.7M406.2,322.7h6M406.2,338.3h6M411.2,316.1v13.1M408.2,316.1h6M408.2,329.2h6M405.1,323.2v12.7M402.1,323.2h6M402.1,335.9h6M404.2,319.9v15.5M401.2,319.9h6M401.2,335.4h6M405.4,319.6v14.0M402.4,319.6h6M402.4,333.6h6M404.6,314.0v15.0M401.6,314.0h6M401.6,329.0h6M403.9,325.8v17.4M400.9,325.8h6M400.9,343.2h6M411.6,324.6v18.6M408.6,324.6h6M408.6,343.2h6M405.5,314.5v11.9M402.5,314.5h6M402.5,326.4h6M405.0,319.6v12.1M402.0,319.6h6M402.0,331.6h6M413.6,309.0v10.0M410.6,309.0h6M410.6,319.0h6M404.3,320.2v8.7M401.3,320.2h6M401.3,328.9h6M412.6,319.4v12.5M409.6,319.4h6M409.6,331.9h6M410.8,328.2v13.2M407.8,328.2h6M407.8,341.4h6M404.6,332.9v13.0M401.6,332.9h6M401.6,345.8h6M413.4,319.2v12.2M410.4,319.2h6M410.4,331.3h6M404.4,321.0v17.5M401.4,321.0h6M401.4,338.5h6M408.9,329.3v17.0M405.9,329.3h6M405.9,346.3h6M407.4,328.1v14.7M404.4,328.1h6M404.4,342.8h6M406.9,314.8v9.4M403.9,314.8h6M403.9,324.2h6M406.4,310.1v12.1M403.4,310.1h6M403.4,322.2h6M407.4,324.7v14.2M404.4,324.7h6M404.4,338.9h6M413.1,315.9v14.6M410.1,315.9h6M410.1,330.6h6M410.3,326.1v16.3M407.3,326.1h6M407.3,342.4h6M413.0,318.9v13.1M410.0,318.9h6M410.0,332.0h6M406.2,321.6v11.8M403.2,321.6h6M403.2,333.5h6M411.1,313.5v12.3M408.1,313.5h6M408.1,325.8h6M411.9,329.2v13.9M408.9,329.2h6M408.9,343.1h6M405.0,321.2v18.0M402.0,321.2h6M402.0,339.1h6M409.3,316.6v13.3M406.3,316.6h6M406.3,329.9h6M402.7,319.6v9.7M399.7,319.6h6M399.7,329.3h6M412.2,315.3v11.8M409.2,315.3h6M409.2,327.1h6M409.2,325.4v11.0M406.2,325.4h6M406.2,336.4h6M411.3,309.3v9.4M408.3,309.3h6M408.3,318.7h6M407.2,307.8v7.4M404.2,307.8h6M404.2,315.3h6M404.2,326.2v12.0M401.2,326.2h6M401.2,338.2h6M412.4,314.1v11.0M409.4,314.1h6M409.4,325.1h6M411.2,327.9v16.6M408.2,327.9h6M408.2,344.5h6M413.1,323.3v12.6M410.1,323.3h6M410.1,335.9h6M410.4,326.3v11.3M407.4,326.3h6M407.4,337.6h6M411.6,315.7v10.1M408.6,315.7h6M408.6,325.8h6M408.2,330.1v13.1M405.2,330.1h6M405.2,343.3h6M403.8,332.1v15.5M400.8,332.1h6M400.8,347.7h6M413.7,323.9v16.8M410.7,323.9h6M410.7,340.7h6M409.9,317.7v6.0M406.9,317.7h6M406.9,323.7h6M405.3,324.4v11.9M402.3,324.4h6M402.3,336.2h6M409.9,318.7v10.0M406.9,318.7h6M406.9,328.7h6M402.4,318.9v10.7M399.4,318.9h6M399.4,329.6h6M406.8,321.2v14.8M403.8,321.2h6M403.8,336.0h6M406.8,327.3v13.8M403.8,327.3h6M403.8,341.2h6M410.8,307.3v12.8M407.8,307.3h6M407.8,320.1h6M407.0,319.6v9.3M404.0,319.6h6M404.0,328.9h6M408.4,317.8v11.5M405.4,317.8h6M405.4,329.3h6M407.6,311.3v11.0M404.6,311.3h6M404.6,322.2h6M403.4,327.7v11.3M400.4,327.7h6M400.4,339.0h6M407.6,309.3v9.8M404.6,309.3h6M404.6,319.1h6M408.7,324.3v12.0M405.7,324.3h6M405.7,336.2h6M402.6,328.7v13.5M399.6,328.7h6M399.6,342.2h6M403.0,320.6v13.6M400.0,320.6h6M400.0,334.1h6M408.4,323.1v15.0M405.4,323.1h6M405.4,338.1h6M405.6,328.8v16.0M402.6,328.8h6M402.6,344.8h6M411.1,322.9v17.2M408.1,322.9h6M408.1,340.2h6M408.7,326.5v11.8M405.7,326.5h6M405.7,338.3h6M412.7,321.4v13.8M409.7,321.4h6M409.7,335.2h6M410.0,312.4v12.2M407.0,312.4h6M407.0,324.6h6M402.6,319.5v11.7M399.6,319.5h6M399.6,331.2h6M408.5,319.9v11.8M405.5,319.9h6M405.5,331.7h6M404.6,320.3v16.0M401.6,320.3h6M401.6,336.3h6M410.1,316.7v11.2M407.1,316.7h6M407.1,327.9h6M404.4,323.3v17.1M401.4,323.3h6M401.4,340.4h6M404.9,327.2v14.9M401.9,327.2h6M401.9,342.1h6M407.2,316.9v12.7M404.2,316.9h6M404.2,329.6h6M404.4,317.8v14.3M401.4,317.8h6M401.4,332.1h6M412.7,327.1v10.1M409.7,327.1h6M409.7,337.2h6M412.9,318.2v14.9M409.9,318.2h6M409.9,333.1h6M403.6,320.0v15.9M400.6,320.0h6M400.6,335.8h6M409.6,320.1v12.0M406.6,320.1h6M406.6,332.1h6M405.6,317.1v11.8M402.6,317.1h6M402.6,329.0h6M408.5,324.4v15.6M405.5,324.4h6M405.5,340.0h6M406.8,323.9v11.9M403.8,323.9h6M403.8,335.9h6M403.3,317.6v15.3M400.3,317.6h6M400.3,332.9h6M412.0,317.7v10.7M409.0,317.7h6M409.0,328.4h6M403.4,320.5v12.4M400.4,320.5h6M400.4,332.9h6M406.7,317.9v15.1M403.7,317.9h6M403.7,333.0h6M412.6,330.3v14.7M409.6,330.3h6M409.6,345.0h6M402.9,319.6v12.3M399.9,319.6h6M399.9,331.9h6M404.5,316.7v10.4M401.5,316.7h6M401.5,327.1h6M412.1,324.7v11.9M409.1,324.7h6M409.1,336.7h6M409.3,322.4v14.2M406.3,322.4h6M406.3,336.7h6M404.8,319.1v13.7M401.8,319.1h6M401.8,332.8h6M404.5,331.3v13.8M401.5,331.3h6M401.5,345.1h6M411.6,331.2v16.4M408.6,331.2h6M408.6,347.7h6M406.5,318.0v13.8M403.5,318.0h6M403.5,331.8h6M402.5,325.3v16.5M399.5,325.3h6M399.5,341.8h6M406.4,307.0v13.5M403.4,307.0h6M403.4,320.4h6M409.2,332.2v16.2M406.2,332.2h6M406.2,348.5h6M409.9,328.1v13.1M406.9,328.1h6M406.9,341.1h6M404.9,324.1v9.5M401.9,324.1h6M401.9,333.6h6M407.0,323.5v15.4M404.0,323.5h6M404.0,338.9h6M411.3,323.7v14.7M408.3,323.7h6M408.3,338.4h6M405.8,322.4v9.7M402.8,322.4h6M402.8,332.1h6M404.9,311.8v11.8M401.9,311.8h6M401.9,323.7h6M409.4,328.5v13.0M406.4,328.5h6M406.4,341.4h6M404.9,328.4v15.0M401.9,328.4h6M401.9,343.5h6M413.0,325.5v10.8M410.0,325.5h6M410.0,336.3h6M404.9,321.7v9.5M401.9,321.7h6M401.9,331.3h6M405.1,321.8v16.1M402.1,321.8h6M402.1,337.9h6M413.4,325.9v13.4M410.4,325.9h6M410.4,339.3h6M404.1,320.8v12.5M401.1,320.8h6M401.1,333.4h6M403.9,319.1v15.0M400.9,319.1h6M400.9,334.1h6M409.9,320.3v12.7M406.9,320.3h6M406.9,333.0h6M407.8,317.0v12.4M404.8,317.0h6M404.8,329.4h6M404.4,324.4v17.3M401.4,324.4h6M401.4,341.8h6M409.5,317.4v13.8M406.5,317.4h6M406.5,331.1h6M412.2,326.9v14.8M409.2,326.9h6M409.2,341.6h6M412.9,319.5v13.2M409.9,319.5h6M409.9,332.7h6M411.8,311.1v11.4M408.8,311.1h6M408.8,322.4h6M403.6,331.8v14.5M400.6,331.8h6M400.6,346.3h6M408.0,333.2v15.0M405.0,333.2h6M405.0,348.2h6M407.5,330.6v19.8M404.5,330.6h6M404.5,350.4h6M410.3,319.1v16.3M407.3,319.1h6M407.3,335.4h6M410.0,321.9v13.4M407.0,321.9h6M407.0,335.3h6M406.1,326.6v14.9M403.1,326.6h6M403.1,341.5h6M409.1,325.7v13.1M406.1,325.7h6M406.1,338.8h6M403.5,321.8v15.4M400.5,321.8h6M400.5,337.2h6M408.1,334.6v22.5M405.1,334.6h6M405.1,357.0h6M413.1,328.8v12.1M410.1,328.8h6M410.1,340.9h6M411.8,323.2v14.9M408.8,323.2h6M408.8,338.1h6M410.2,316.3v15.5M407.2,316.3h6M407.2,331.8h6M407.7,329.6v13.8M404.7,329.6h6M404.7,343.4h6M409.1,324.6v14.8M406.1,324.6h6M406.1,339.5h6M408.8,323.6v16.4M405.8,323.6h6M405.8,340.0h6M411.1,329.1v19.9M408.1,329.1h6M408.1,349.0h6M410.2,328.3v13.8M407.2,328.3h6M407.2,342.1h6M410.8,321.1v13.6M407.8,321.1h6M407.8,334.7h6M413.1,323.8v18.4M410.1,323.8h6M410.1,342.1h6M406.6,321.6v13.5M403.6,321.6h6M403.6,335.1h6M407.1,317.3v10.5M404.1,317.3h6M404.1,327.8h6M403.7,322.3v11.3M400.7,322.3h6M400.7,333.6h6M406.3,324.5v10.1M403.3,324.5h6M403.3,334.6h6M406.5,324.1v11.2M403.5,324.1h6M403.5,335.3h6M412.7,327.6v13.1M409.7,327.6h6M409.7,340.8h6M412.7,326.0v12.2M409.7,326.0h6M409.7,338.1h6M412.2,322.8v15.3M409.2,322.8h6M409.2,338.1h6M407.8,329.5v18.9M404.8,329.5h6M404.8,348.4h6M402.8,326.9v10.9M399.8,326.9h6M399.8,337.9h6M410.4,318.2v10.3M407.4,318.2h6M407.4,328.5h6M406.8,328.6v11.4M403.8,328.6h6M403.8,340.0h6M405.2,311.6v12.5M402.2,311.6h6M402.2,324.1h6M407.7,334.9v13.5M404.7,334.9h6M404.7,348.4h6M408.3,331.3v16.4M405.3,331.3h6M405.3,347.7h6M409.9,327.4v12.4M406.9,327.4h6M406.9,339.8h6M413.6,322.8v18.2M410.6,322.8h6M410.6,341.0h6M407.9,318.8v11.3M404.9,318.8h6M404.9,330.2h6M413.6,327.9v20.6M410.6,327.9h6M410.6,348.5h6M406.2,332.8v15.1M403.2,332.8h6M403.2,347.9h6M412.7,326.1v15.7M409.7,326.1h6M409.7,341.8h6M406.3,326.8v16.1M403.3,326.8h6M403.3,342.9h6M413.5,312.4v12.8M410.5,312.4h6M410.5,325.3h6M407.0,320.2v15.0M404.0,320.2h6M404.0,335.2h6M404.0,329.1v16.3M401.0,329.1h6M401.0,345.5h6M411.7,311.4v14.1M408.7,311.4h6M408.7,325.4h6M408.1,330.4v16.7M405.1,330.4h6M405.1,347.0h6M408.5,309.0v11.0M405.5,309.0h6M405.5,320.0h6M411.9,313.6v9.9M408.9,313.6h6M408.9,323.5h6M406.3,325.7v16.5M403.3,325.7h6M403.3,342.3h6M406.0,326.1v11.5M403.0,326.1h6M403.0,337.6h6M403.6,322.6v12.7M400.6,322.6h6M400.6,335.3h6M412.7,316.1v9.3M409.7,316.1h6M409.7,325.4h6M404.4,322.5v20.5M401.4,322.5h6M401.4,343.0h6M410.0,326.6v16.2M407.0,326.6h6M407.0,342.7h6M404.6,316.0v11.2M401.6,316.0h6M401.6,327.2h6M406.9,331.8v15.6M403.9,331.8h6M403.9,347.4h6M409.9,311.9v12.4M406.9,311.9h6M406.9,324.3h6M407.7,315.4v15.9M404.7,315.4h6M404.7,331.3h6M406.7,318.4v10.6M403.7,318.4h6M403.7,328.9h6M409.3,323.7v11.9M406.3,323.7h6M406.3,335.6h6M406.8,329.0v13.5M403.8,329.0h6M403.8,342.6h6M410.7,325.3v16.3M407.7,325.3h6M407.7,341.6h6M407.0,320.6v12.9M404.0,320.6h6M404.0,333.6h6M408.0,336.0v15.2M405.0,336.0h6M405.0,351.2h6M403.3,321.5v13.3M400.3,321.5h6M400.3,334.8h6M406.0,316.8v13.8M403.0,316.8h6M403.0,330.6h6M408.0,319.9v14.5M405.0,319.9h6M405.0,334.3h6M411.5,322.8v17.5M408.5,322.8h6M408.5,340.3h6M409.1,319.5v12.2M406.1,319.5h6M406.1,331.7h6M403.6,332.6v11.2M400.6,332.6h6M400.6,343.8h6M402.5,315.7v17.5M399.5,315.7h6M399.5,333.2h6M404.4,331.5v19.4M401.4,331.5h6M401.4,350.9h6M413.7,328.4v10.6M410.7,328.4h6M410.7,339.0h6M406.9,318.9v13.6M403.9,318.9h6M403.9,332.6h6M405.5,333.3v14.0M402.5,333.3h6M402.5,347.3h6M407.9,328.3v17.6M404.9,328.3h6M404.9,345.8h6M407.1,318.5v14.1M404.1,318.5h6M404.1,332.6h6M405.0,326.4v14.6M402.0,326.4h6M402.0,341.0h6M403.6,317.5v12.9M400.6,317.5h6M400.6,330.3h6M402.4,318.9v13.6M399.4,318.9h6M399.4,332.5h6M412.5,322.3v12.1M409.5,322.3h6M409.5,334.4h6M410.9,331.3v17.3M407.9,331.3h6M407.9,348.6h6M406.8,323.7v13.4M403.8,323.7h6M403.8,337.1h6M404.5,325.1v14.5M401.5,325.1h6M401.5,339.6h6M408.9,332.8v16.3M405.9,332.8h6M405.9,349.1h6M407.8,317.3v10.5M404.8,317.3h6M404.8,327.9h6M405.0,313.7v13.1M402.0,313.7h6M402.0,326.9h6M404.8,325.3v12.0M401.8,325.3h6M401.8,337.4h6M405.6,307.9v10.7M402.6,307.9h6M402.6,318.6h6M403.4,333.4v13.2M400.4,333.4h6M400.4,346.7h6M405.8,338.1v17.2M402.8,338.1h6M402.8,355.3h6M406.6,324.7v11.5M403.6,324.7h6M403.6,336.3h6M407.5,331.7v14.4M404.5,331.7h6M404.5,346.1h6M402.5,319.7v10.4M399.5,319.7h6M399.5,330.1h6M405.4,329.4v17.9M402.4,329.4h6M402.4,347.3h6M403.4,318.1v13.1M400.4,318.1h6M400.4,331.1h6M412.6,327.1v14.9M409.6,327.1h6M409.6,342.0h6M404.8,322.1v13.1M401.8,322.1h6M401.8,335.2h6M404.8,308.8v9.4M401.8,308.8h6M401.8,318.3h6M403.2,320.9v11.6M400.2,320.9h6M400.2,332.5h6M410.7,326.6v16.2M407.7,326.6h6M407.7,342.8h6M403.9,326.6v16.6M400.9,326.6h6M400.9,343.2h6M407.5,315.3v10.5M404.5,315.3h6M404.5,325.8h6M403.6,323.9v15.3M400.6,323.9h6M400.6,339.1h6M409.8,319.5v11.4M406.8,319.5h6M406.8,330.9h6M410.2,319.2v15.2M407.2,319.2h6M407.2,334.3h6M411.7,328.8v14.5M408.7,328.8h6M408.7,343.2h6M409.2,325.4v14.4M406.2,325.4h6M406.2,339.8h6M405.9,328.6v15.8M402.9,328.6h6M402.9,344.4h6M405.2,312.1v13.6M402.2,312.1h6M402.2,325.7h6M411.3,317.1v11.3M408.3,317.1h6M408.3,328.4h6M402.6,332.6v13.1M399.6,332.6h6M399.6,345.8h6M411.6,320.2v13.5M408.6,320.2h6M408.6,333.7h6M402.6,321.3v14.5M399.6,321.3h6M399.6,335.9h6M402.9,321.8v15.7M399.9,321.8h6M399.9,337.4h6M408.5,322.5v14.1M405.5,322.5h6M405.5,336.5h6M407.2,317.9v17.3M404.2,317.9h6M404.2,335.2h6M407.4,320.1v14.9M404.4,320.1h6M404.4,335.0h6M409.9,328.8v12.9M406.9,328.8h6M406.9,341.8h6M406.3,326.6v16.9M403.3,326.6h6M403.3,343.5h6M410.4,319.6v15.5M407.4,319.6h6M407.4,335.1h6M406.4,328.1v13.2M403.4,328.1h6M403.4,341.3h6M410.7,322.2v9.1M407.7,322.2h6M407.7,331.4h6M402.4,320.3v12.2M399.4,320.3h6M399.4,332.6h6M407.8,319.7v8.0M404.8,319.7h6M404.8,327.7h6M412.9,334.8v19.4M409.9,334.8h6M409.9,354.2h6M406.5,318.4v12.8M403.5,318.4h6M403.5,331.2h6M411.7,322.3v13.8M408.7,322.3h6M408.7,336.1h6M403.3,320.0v11.7M400.3,320.0h6M400.3,331.7h6M407.9,327.1v16.1M404.9,327.1h6M404.9,343.1h6M404.1,311.8v13.4M401.1,311.8h6M401.1,325.2h6M408.4,326.4v12.7M405.4,326.4h6M405.4,339.0h6M412.4,321.9v15.3M409.4,321.9h6M409.4,337.2h6M410.6,334.5v18.0M407.6,334.5h6M407.6,352.4h6M411.4,326.2v15.4M408.4,326.2h6M408.4,341.7h6M407.9,320.2v12.0M404.9,320.2h6M404.9,332.3h6M403.6,312.5v9.7M400.6,312.5h6M400.6,322.2h6M434.7,317.9v11.7M431.7,317.9h6M431.7,329.7h6M433.6,318.5v9.9M430.6,318.5h6M430.6,328.4h6M436.4,318.8v13.1M433.4,318.8h6M433.4,331.9h6M437.0,324.3v10.5M434.0,324.3h6M434.0,334.8h6M447.0,321.5v9.6M444.0,321.5h6M444.0,331.1h6M436.2,318.5v10.3M433.2,318.5h6M433.2,328.8h6M441.8,322.1v9.0M438.8,322.1h6M438.8,331.1h6M436.0,328.3v12.2M433.0,328.3h6M433.0,340.5h6M444.7,324.3v8.7M441.7,324.3h6M441.7,333.0h6M435.3,326.7v10.7M432.3,326.7h6M432.3,337.4h6M449.7,319.9v10.0M446.7,319.9h6M446.7,329.8h6M439.9,322.5v7.4M436.9,322.5h6M436.9,329.9h6M448.4,323.0v13.0M445.4,323.0h6M445.4,336.1h6M442.0,327.5v10.9M439.0,327.5h6M439.0,338.4h6M436.4,318.6v12.0M433.4,318.6h6M433.4,330.6h6M437.8,318.8v10.6M434.8,318.8h6M434.8,329.4h6M438.1,322.8v12.4M435.1,322.8h6M435.1,335.2h6M439.4,319.2v9.4M436.4,319.2h6M436.4,328.6h6M435.7,321.4v13.4M432.7,321.4h6M432.7,334.8h6M437.4,327.0v7.8M434.4,327.0h6M434.4,334.8h6M437.1,323.2v10.3M434.1,323.2h6M434.1,333.5h6M436.2,321.6v12.6M433.2,321.6h6M433.2,334.2h6M443.5,325.1v8.9M440.5,325.1h6M440.5,334.0h6M449.1,325.3v6.0M446.1,325.3h6M446.1,331.3h6M440.8,317.8v15.9M437.8,317.8h6M437.8,333.8h6M440.6,326.3v11.9M437.6,326.3h6M437.6,338.2h6M442.8,319.4v11.7M439.8,319.4h6M439.8,331.0h6M440.2,321.0v13.2M437.2,321.0h6M437.2,334.2h6M436.5,321.4v10.4M433.5,321.4h6M433.5,331.8h6M443.8,324.3v6.9M440.8,324.3h6M440.8,331.2h6M440.7,320.3v10.8M437.7,320.3h6M437.7,331.2h6M438.8,323.9v12.9M435.8,323.9h6M435.8,336.8h6M434.3,321.7v8.5M431.3,321.7h6M431.3,330.2h6M440.8,328.7v9.5M437.8,328.7h6M437.8,338.2h6M437.4,321.3v9.9M434.4,321.3h6M434.4,331.2h6M437.8,319.7v14.6M434.8,319.7h6M434.8,334.3h6M438.8,320.3v13.1M435.8,320.3h6M435.8,333.4h6M447.9,324.5v9.4M444.9,324.5h6M444.9,333.9h6M442.1,322.1v9.2M439.1,322.1h6M439.1,331.4h6M444.2,320.3v9.1M441.2,320.3h6M441.2,329.3h6M443.7,323.1v12.1M440.7,323.1h6M440.7,335.2h6M439.4,325.7v8.9M436.4,325.7h6M436.4,334.6h6M446.5,327.9v9.9M443.5,327.9h6M443.5,337.8h6M442.3,319.6v12.0M439.3,319.6h6M439.3,331.6h6M449.7,325.0v9.0M446.7,325.0h6M446.7,334.0h6M449.5,324.1v10.4M446.5,324.1h6M446.5,334.5h6M437.4,331.1v7.0M434.4,331.1h6M434.4,338.1h6M446.8,319.1v10.0M443.8,319.1h6M443.8,329.2h6M440.6,326.1v14.6M437.6,326.1h6M437.6,340.7h6M437.5,323.8v13.9M434.5,323.8h6M434.5,337.7h6M434.3,321.4v12.2M431.3,321.4h6M431.3,333.6h6M440.2,322.1v12.0M437.2,322.1h6M437.2,334.2h6M438.1,318.2v9.9M435.1,318.2h6M435.1,328.1h6M439.7,321.6v11.7M436.7,321.6h6M436.7,333.2h6M445.5,323.2v8.7M442.5,323.2h6M442.5,331.9h6M440.5,324.0v9.9M437.5,324.0h6M437.5,334.0h6M447.1,325.5v6.1M444.1,325.5h6M444.1,331.5h6M434.8,324.5v11.2M431.8,324.5h6M431.8,335.7h6M448.3,320.9v12.1M445.3,320.9h6M445.3,333.0h6M439.7,324.0v12.8M436.7,324.0h6M436.7,336.8h6M445.6,325.5v7.5M442.6,325.5h6M442.6,333.0h6M437.0,319.5v11.2M434.0,319.5h6M434.0,330.7h6M445.0,322.5v15.4M442.0,322.5h6M442.0,338.0h6M443.1,325.8v8.7M440.1,325.8h6M440.1,334.5h6M439.1,317.8v12.6M436.1,317.8h6M436.1,330.4h6M443.6,321.1v6.0M440.6,321.1h6M440.6,327.1h6M436.0,319.4v10.8M433.0,319.4h6M433.0,330.2h6M447.6,320.8v7.0M444.6,320.8h6M444.6,327.9h6M444.4,318.9v7.1M441.4,318.9h6M441.4,326.0h6M445.7,317.9v9.6M442.7,317.9h6M442.7,327.5h6M440.1,319.9v9.4M437.1,319.9h6M437.1,329.3h6M440.6,320.2v7.7M437.6,320.2h6M437.6,327.9h6M438.7,325.8v9.3M435.7,325.8h6M435.7,335.1h6M435.8,321.8v9.3M432.8,321.8h6M432.8,331.0h6M445.8,323.5v9.3M442.8,323.5h6M442.8,332.8h6M444.7,327.9v8.8M441.7,327.9h6M441.7,336.8h6M445.5,321.4v12.1M442.5,321.4h6M442.5,333.5h6M444.6,324.1v7.4M441.6,324.1h6M441.6,331.5h6M439.2,325.1v13.2M436.2,325.1h6M436.2,338.3h6M445.8,323.0v8.7M442.8,323.0h6M442.8,331.7h6M438.5,323.4v11.6M435.5,323.4h6M435.5,334.9h6M443.0,325.0v13.0M440.0,325.0h6M440.0,338.0h6M446.5,322.2v11.2M443.5,322.2h6M443.5,333.4h6M440.3,324.8v12.0M437.3,324.8h6M437.3,336.9h6M447.2,322.6v9.6M444.2,322.6h6M444.2,332.1h6M434.4,323.2v8.3M431.4,323.2h6M431.4,331.6h6M448.2,322.5v10.5M445.2,322.5h6M445.2,333.0h6M437.4,326.5v14.5M434.4,326.5h6M434.4,341.0h6M441.9,316.7v7.7M438.9,316.7h6M438.9,324.3h6M447.5,316.3v10.0M444.5,316.3h6M444.5,326.3h6M465.7,322.6v11.3M462.7,322.6h6M462.7,333.9h6M459.1,322.6v10.9M456.1,322.6h6M456.1,333.5h6M471.1,321.7v10.3M468.1,321.7h6M468.1,332.1h6M457.7,323.7v7.8M454.7,323.7h6M454.7,331.5h6M455.0,319.9v6.0M452.0,319.9h6M452.0,325.9h6M468.4,323.2v11.5M465.4,323.2h6M465.4,334.7h6M457.2,316.1v10.4M454.2,316.1h6M454.2,326.5h6M462.5,323.6v9.0M459.5,323.6h6M459.5,332.5h6M459.7,321.2v10.9M456.7,321.2h6M456.7,332.1h6M467.5,324.2v10.6M464.5,324.2h6M464.5,334.8h6M453.3,325.7v6.9M450.3,325.7h6M450.3,332.6h6M453.9,320.5v11.6M450.9,320.5h6M450.9,332.2h6M452.0,320.2v10.8M449.0,320.2h6M449.0,331.0h6M465.5,321.2v10.8M462.5,321.2h6M462.5,332.0h6M461.6,324.6v8.5M458.6,324.6h6M458.6,333.1h6M459.2,320.9v12.2M456.2,320.9h6M456.2,333.2h6M450.2,321.4v12.0M447.2,321.4h6M447.2,333.4h6M454.8,319.1v11.7M451.8,319.1h6M451.8,330.7h6M456.0,324.9v9.2M453.0,324.9h6M453.0,334.0h6M466.7,326.1v9.4M463.7,326.1h6M463.7,335.6h6M458.2,320.6v9.5M455.2,320.6h6M455.2,330.2h6M465.4,318.8v8.6M462.4,318.8h6M462.4,327.4h6M458.3,322.7v11.3M455.3,322.7h6M455.3,334.1h6M457.4,322.2v7.1M454.4,322.2h6M454.4,329.4h6M464.9,324.1v9.8M461.9,324.1h6M461.9,334.0h6M450.0,321.6v13.6M447.0,321.6h6M447.0,335.2h6M454.3,319.1v10.5M451.3,319.1h6M451.3,329.6h6M470.2,320.1v9.4M467.2,320.1h6M467.2,329.5h6M470.4,320.7v13.2M467.4,320.7h6M467.4,333.9h6M453.2,324.5v8.6M450.2,324.5h6M450.2,333.1h6M455.3,321.4v8.9M452.3,321.4h6M452.3,330.3h6M457.7,325.7v9.5M454.7,325.7h6M454.7,335.2h6M461.6,320.9v12.0M458.6,320.9h6M458.6,332.9h6M458.4,322.9v8.3M455.4,322.9h6M455.4,331.2h6M457.5,326.1v6.6M454.5,326.1h6M454.5,332.7h6M470.8,320.5v9.3M467.8,320.5h6M467.8,329.9h6M451.5,323.5v10.6M448.5,323.5h6M448.5,334.2h6M450.2,319.6v7.6M447.2,319.6h6M447.2,327.2h6M450.9,320.8v10.1M447.9,320.8h6M447.9,330.9h6M462.9,318.8v11.4M459.9,318.8h6M459.9,330.2h6M455.9,320.3v7.6M452.9,320.3h6M452.9,327.9h6M467.1,321.0v8.8M464.1,321.0h6M464.1,329.8h6M450.5,319.7v10.4M447.5,319.7h6M447.5,330.1h6M455.6,317.9v11.8M452.6,317.9h6M452.6,329.7h6M463.5,319.6v7.5M460.5,319.6h6M460.5,327.1h6M455.9,323.8v7.2M452.9,323.8h6M452.9,331.0h6M450.4,321.9v10.5M447.4,321.9h6M447.4,332.3h6M465.7,323.8v7.8M462.7,323.8h6M462.7,331.6h6M459.1,321.5v6.0M456.1,321.5h6M456.1,327.5h6M468.7,319.5v9.8M465.7,319.5h6M465.7,329.4h6M465.8,321.6v11.4M462.8,321.6h6M462.8,333.0h6M462.3,324.8v9.1M459.3,324.8h6M459.3,333.9h6M471.6,322.6v12.8M468.6,322.6h6M468.6,335.4h6M455.3,322.7v10.6M452.3,322.7h6M452.3,333.3h6M461.0,319.3v6.8M458.0,319.3h6M458.0,326.2h6M454.7,323.7v11.2M451.7,323.7h6M451.7,334.9h6M456.2,318.4v10.7M453.2,318.4h6M453.2,329.1h6M453.7,321.9v7.3M450.7,321.9h6M450.7,329.2h6M456.0,321.6v11.5M453.0,321.6h6M453.0,333.1h6M463.8,319.9v7.3M460.8,319.9h6M460.8,327.2h6M455.3,321.8v9.3M452.3,321.8h6M452.3,331.1h6M458.4,318.8v8.5M455.4,318.8h6M455.4,327.3h6M467.8,316.2v10.1M464.8,316.2h6M464.8,326.2h6M466.5,321.2v12.0M463.5,321.2h6M463.5,333.2h6M467.5,321.1v11.5M464.5,321.1h6M464.5,332.6h6M462.2,322.7v7.3M459.2,322.7h6M459.2,329.9h6M462.8,322.5v10.1M459.8,322.5h6M459.8,332.6h6M470.8,321.4v6.9M467.8,321.4h6M467.8,328.3h6M458.0,324.8v11.1M455.0,324.8h6M455.0,335.9h6M467.8,322.5v12.9M464.8,322.5h6M464.8,335.3h6M454.5,319.2v9.3M451.5,319.2h6M451.5,328.5h6M461.8,321.6v7.4M458.8,321.6h6M458.8,329.0h6M452.8,321.1v9.1M449.8,321.1h6M449.8,330.2h6M469.9,324.5v9.5M466.9,324.5h6M466.9,333.9h6M457.6,321.5v12.5M454.6,321.5h6M454.6,334.0h6M455.1,323.3v9.7M452.1,323.3h6M452.1,332.9h6M462.9,325.1v10.8M459.9,325.1h6M459.9,335.9h6M459.6,318.3v10.7M456.6,318.3h6M456.6,329.0h6M463.5,320.9v8.2M460.5,320.9h6M460.5,329.2h6M470.5,320.4v8.8M467.5,320.4h6M467.5,329.2h6M457.8,323.7v12.5M454.8,323.7h6M454.8,336.2h6M458.6,319.4v8.6M455.6,319.4h6M455.6,328.0h6M461.3,318.4v8.4M458.3,318.4h6M458.3,326.8h6M467.9,322.3v6.2M464.9,322.3h6M464.9,328.5h6M458.7,319.9v9.2M455.7,319.9h6M455.7,329.1h6M460.0,322.5v6.6M457.0,322.5h6M457.0,329.1h6M466.2,321.7v10.8M463.2,321.7h6M463.2,332.4h6M466.1,323.5v8.8M463.1,323.5h6M463.1,332.3h6M466.2,323.3v8.3M463.2,323.3h6M463.2,331.6h6M471.0,324.6v11.8M468.0,324.6h6M468.0,336.3h6M454.2,318.6v9.4M451.2,318.6h6M451.2,328.0h6M465.3,321.0v9.4M462.3,321.0h6M462.3,330.4h6M452.6,320.3v9.9M449.6,320.3h6M449.6,330.3h6M459.0,319.8v11.4M456.0,319.8h6M456.0,331.2h6M472.3,318.1v13.4M469.3,318.1h6M469.3,331.4h6M472.9,321.4v7.5M469.9,321.4h6M469.9,328.9h6M454.1,323.6v9.2M451.1,323.6h6M451.1,332.8h6M458.7,323.1v7.5M455.7,323.1h6M455.7,330.5h6M463.3,317.7v11.1M460.3,317.7h6M460.3,328.8h6M469.1,322.0v8.7M466.1,322.0h6M466.1,330.7h6M493.9,322.3v11.8M490.9,322.3h6M490.9,334.1h6M520.7,321.3v7.0M517.7,321.3h6M517.7,328.2h6M513.4,321.6v10.2M510.4,321.6h6M510.4,331.8h6M502.1,317.8v6.9M499.1,317.8h6M499.1,324.8h6M505.7,321.6v9.6M502.7,321.6h6M502.7,331.2h6M517.1,320.6v8.8M514.1,320.6h6M514.1,329.5h6M494.8,319.7v8.3M491.8,319.7h6M491.8,328.0h6M491.4,321.9v8.4M488.4,321.9h6M488.4,330.3h6M511.5,324.4v10.8M508.5,324.4h6M508.5,335.2h6M522.2,324.4v11.2M519.2,324.4h6M519.2,335.6h6M519.1,322.5v10.3M516.1,322.5h6M516.1,332.8h6M509.0,322.7v9.7M506.0,322.7h6M506.0,332.4h6M505.7,320.5v8.8M502.7,320.5h6M502.7,329.3h6M501.4,323.5v10.1M498.4,323.5h6M498.4,333.7h6M496.5,321.9v8.4M493.5,321.9h6M493.5,330.3h6M500.4,325.6v11.1M497.4,325.6h6M497.4,336.7h6M522.1,320.6v6.0M519.1,320.6h6M519.1,326.6h6M519.4,323.9v13.1M516.4,323.9h6M516.4,337.0h6M491.0,328.6v8.1M488.0,328.6h6M488.0,336.7h6M509.8,323.6v9.1M506.8,323.6h6M506.8,332.7h6M496.8,321.4v10.8M493.8,321.4h6M493.8,332.1h6M498.2,320.6v11.2M495.2,320.6h6M495.2,331.8h6M511.3,321.7v9.9M508.3,321.7h6M508.3,331.6h6M497.8,318.1v10.1M494.8,318.1h6M494.8,328.2h6M511.5,322.9v10.4M508.5,322.9h6M508.5,333.3h6M513.2,323.8v8.2M510.2,323.8h6M510.2,332.0h6M491.7,323.8v12.7M488.7,323.8h6M488.7,336.6h6M511.2,321.7v6.3M508.2,321.7h6M508.2,328.0h6M518.7,319.1v13.9M515.7,319.1h6M515.7,333.1h6M500.8,320.8v10.4M497.8,320.8h6M497.8,331.2h6M517.5,323.8v14.0M514.5,323.8h6M514.5,337.8h6M506.9,321.2v9.2M503.9,321.2h6M503.9,330.4h6M515.9,321.5v6.0M512.9,321.5h6M512.9,327.5h6M513.2,322.5v8.0M510.2,322.5h6M510.2,330.6h6M507.0,321.2v10.0M504.0,321.2h6M504.0,331.2h6M519.9,321.4v10.2M516.9,321.4h6M516.9,331.6h6M490.9,324.0v10.4M487.9,324.0h6M487.9,334.4h6M525.9,319.3v8.6M522.9,319.3h6M522.9,328.0h6M502.2,319.7v12.3M499.2,319.7h6M499.2,332.1h6M505.4,319.6v8.0M502.4,319.6h6M502.4,327.6h6M511.9,323.1v7.6M508.9,323.1h6M508.9,330.7h6M496.3,322.9v11.9M493.3,322.9h6M493.3,334.8h6M518.1,320.4v10.8M515.1,320.4h6M515.1,331.2h6M505.4,321.1v6.6M502.4,321.1h6M502.4,327.7h6M499.7,317.3v11.2M496.7,317.3h6M496.7,328.5h6M507.9,323.7v7.6M504.9,323.7h6M504.9,331.3h6M517.7,327.3v12.3M514.7,327.3h6M514.7,339.5h6M494.8,324.3v11.7M491.8,324.3h6M491.8,335.9h6M495.3,325.7v9.1M492.3,325.7h6M492.3,334.7h6M508.5,322.2v12.5M505.5,322.2h6M505.5,334.7h6M524.3,322.1v10.5M521.3,322.1h6M521.3,332.6h6M524.0,320.5v10.1M521.0,320.5h6M521.0,330.6h6M493.1,323.1v11.8M490.1,323.1h6M490.1,334.9h6M506.9,323.6v10.8M503.9,323.6h6M503.9,334.3h6M526.4,324.1v8.8M523.4,324.1h6M523.4,333.0h6M518.0,322.9v9.1M515.0,322.9h6M515.0,331.9h6M492.4,322.3v12.3M489.4,322.3h6M489.4,334.6h6M511.6,318.7v8.8M508.6,318.7h6M508.6,327.5h6M505.9,323.8v11.7M502.9,323.8h6M502.9,335.5h6M502.7,323.2v13.5M499.7,323.2h6M499.7,336.7h6M516.9,321.7v9.9M513.9,321.7h6M513.9,331.6h6M501.2,324.3v13.3M498.2,324.3h6M498.2,337.6h6M517.2,318.5v10.4M514.2,318.5h6M514.2,329.0h6M523.2,325.5v9.9M520.2,325.5h6M520.2,335.3h6M502.3,323.2v10.1M499.3,323.2h6M499.3,333.2h6M524.3,319.9v6.5M521.3,319.9h6M521.3,326.4h6M505.8,320.7v8.3M502.8,320.7h6M502.8,329.0h6M511.5,315.5v11.8M508.5,315.5h6M508.5,327.4h6M493.1,320.6v10.9M490.1,320.6h6M490.1,331.5h6M497.2,322.6v14.3M494.2,322.6h6M494.2,336.9h6M519.5,324.5v8.8M516.5,324.5h6M516.5,333.2h6M501.6,319.8v12.3M498.6,319.8h6M498.6,332.1h6M496.8,322.8v8.7M493.8,322.8h6M493.8,331.5h6M514.1,321.0v9.3M511.1,321.0h6M511.1,330.4h6M495.6,324.4v11.1M492.6,324.4h6M492.6,335.5h6M518.7,319.0v10.2M515.7,319.0h6M515.7,329.2h6M513.8,325.4v10.3M510.8,325.4h6M510.8,335.7h6M497.6,321.5v9.4M494.6,321.5h6M494.6,330.9h6M515.0,322.0v8.1M512.0,322.0h6M512.0,330.1h6M491.1,322.2v10.3M488.1,322.2h6M488.1,332.5h6M502.1,322.9v13.4M499.1,322.9h6M499.1,336.3h6M503.6,322.5v10.6M500.6,322.5h6M500.6,333.1h6M502.2,322.1v10.3M499.2,322.1h6M499.2,332.4h6M526.9,320.4v12.4M523.9,320.4h6M523.9,332.7h6M524.5,320.5v12.2M521.5,320.5h6M521.5,332.7h6M497.2,322.0v11.8M494.2,322.0h6M494.2,333.9h6M524.4,321.5v11.2M521.4,321.5h6M521.4,332.8h6M519.4,318.7v12.8M516.4,318.7h6M516.4,331.5h6M500.7,318.9v10.4M497.7,318.9h6M497.7,329.3h6M526.1,318.8v10.8M523.1,318.8h6M523.1,329.5h6M509.0,317.3v11.1M506.0,317.3h6M506.0,328.4h6M527.5,326.0v13.9M524.5,326.0h6M524.5,339.9h6M496.8,325.7v9.5M493.8,325.7h6M493.8,335.2h6M493.3,324.0v8.1M490.3,324.0h6M490.3,332.2h6M514.6,317.6v8.8M511.6,317.6h6M511.6,326.4h6M493.4,323.2v11.9M490.4,323.2h6M490.4,335.2h6M497.8,319.8v12.1M494.8,319.8h6M494.8,331.9h6M505.9,320.2v14.2M502.9,320.2h6M502.9,334.4h6M507.6,322.5v6.0M504.6,322.5h6M504.6,328.5h6M491.2,318.5v10.3M488.2,318.5h6M488.2,328.8h6M505.4,321.1v8.3M502.4,321.1h6M502.4,329.4h6M527.7,326.2v10.9M524.7,326.2h6M524.7,337.2h6M521.2,321.4v9.3M518.2,321.4h6M518.2,330.7h6M504.6,317.5v11.5M501.6,317.5h6M501.6,328.9h6M518.8,326.2v8.7M515.8,326.2h6M515.8,334.9h6M490.0,321.9v9.6M487.0,321.9h6M487.0,331.4h6M493.6,321.9v11.3M490.6,321.9h6M490.6,333.2h6M497.0,322.4v10.0M494.0,322.4h6M494.0,332.4h6M500.5,324.7v6.0M497.5,324.7h6M497.5,330.7h6M497.8,321.3v13.2M494.8,321.3h6M494.8,334.5h6M504.8,321.8v10.7M501.8,321.8h6M501.8,332.5h6M519.1,321.2v13.0M516.1,321.2h6M516.1,334.2h6M521.9,317.2v10.9M518.9,317.2h6M518.9,328.1h6M499.5,324.2v6.4M496.5,324.2h6M496.5,330.6h6M499.6,318.9v6.4M496.6,318.9h6M496.6,325.4h6M496.4,323.0v10.7M493.4,323.0h6M493.4,333.8h6M498.4,320.6v9.1M495.4,320.6h6M495.4,329.7h6M491.2,318.2v8.7M488.2,318.2h6M488.2,327.0h6M508.9,321.9v10.9M505.9,321.9h6M505.9,332.8h6M508.6,318.0v7.7M505.6,318.0h6M505.6,325.8h6M494.9,318.4v8.9M491.9,318.4h6M491.9,327.3h6M492.3,319.2v12.2M489.3,319.2h6M489.3,331.3h6M512.3,321.1v6.7M509.3,321.1h6M509.3,327.8h6M502.5,326.4v9.9M499.5,326.4h6M499.5,336.3h6M522.2,319.0v6.2M519.2,319.0h6M519.2,325.2h6M501.3,319.5v9.0M498.3,319.5h6M498.3,328.5h6M508.8,321.1v9.8M505.8,321.1h6M505.8,330.8h6M510.0,320.7v10.0M507.0,320.7h6M507.0,330.7h6M506.0,320.9v6.7M503.0,320.9h6M503.0,327.6h6M505.8,316.9v10.3M502.8,316.9h6M502.8,327.1h6M502.4,323.7v10.4M499.4,323.7h6M499.4,334.1h6M502.9,321.9v8.2M499.9,321.9h6M499.9,330.1h6M512.9,320.2v12.9M509.9,320.2h6M509.9,333.1h6M505.9,318.4v12.5M502.9,318.4h6M502.9,330.9h6M526.1,326.5v13.1M523.1,326.5h6M523.1,339.7h6M491.6,318.2v8.5M488.6,318.2h6M488.6,326.7h6M502.5,316.0v11.7M499.5,316.0h6M499.5,327.7h6M503.7,319.9v12.9M500.7,319.9h6M500.7,332.7h6M494.7,323.5v6.8M491.7,323.5h6M491.7,330.4h6M524.2,323.8v8.7M521.2,323.8h6M521.2,332.5h6M508.4,322.3v11.1M505.4,322.3h6M505.4,333.4h6M527.2,323.9v8.3M524.2,323.9h6M524.2,332.2h6M509.3,324.3v15.1M506.3,324.3h6M506.3,339.4h6M506.1,326.4v8.1M503.1,326.4h6M503.1,334.5h6M503.0,319.3v8.6M500.0,319.3h6M500.0,327.9h6M518.4,316.5v9.1M515.4,316.5h6M515.4,325.6h6M496.9,324.2v12.6M493.9,324.2h6M493.9,336.8h6M519.7,325.9v11.8M516.7,325.9h6M516.7,337.7h6M490.9,316.3v9.8M487.9,316.3h6M487.9,326.2h6M513.0,321.1v7.1M510.0,321.1h6M510.0,328.3h6M498.2,325.3v11.0M495.2,325.3h6M495.2,336.3h6M503.6,319.2v9.0M500.6,319.2h6M500.6,328.2h6M496.8,325.1v7.9M493.8,325.1h6M493.8,333.0h6M504.5,322.6v7.2M501.5,322.6h6M501.5,329.8h6M504.2,319.3v6.9M501.2,319.3h6M501.2,326.2h6M491.7,321.7v10.9M488.7,321.7h6M488.7,332.7h6M510.7,323.3v10.8M507.7,323.3h6M507.7,334.0h6M497.3,320.5v8.5M494.3,320.5h6M494.3,329.0h6M497.4,319.8v7.8M494.4,319.8h6M494.4,327.6h6M498.6,322.0v8.4M495.6,322.0h6M495.6,330.4h6M506.3,323.4v9.1M503.3,323.4h6M503.3,332.5h6M506.0,320.7v6.8M503.0,320.7h6M503.0,327.6h6M525.0,323.1v6.0M522.0,323.1h6M522.0,329.1h6M505.1,325.6v8.1M502.1,325.6h6M502.1,333.7h6M508.9,322.2v12.0M505.9,322.2h6M505.9,334.2h6M505.5,322.1v7.5M502.5,322.1h6M502.5,329.7h6M512.7,321.8v8.6M509.7,321.8h6M509.7,330.4h6M490.5,318.7v7.3M487.5,318.7h6M487.5,326.0h6M498.6,323.7v10.9M495.6,323.7h6M495.6,334.6h6M525.5,323.9v8.8M522.5,323.9h6M522.5,332.7h6M569.1,319.7v9.2M566.1,319.7h6M566.1,328.9h6M567.3,322.7v8.8M564.3,322.7h6M564.3,331.6h6M551.6,323.6v11.4M548.6,323.6h6M548.6,335.0h6M556.6,326.4v10.6M553.6,326.4h6M553.6,337.0h6M551.2,324.2v10.4M548.2,324.2h6M548.2,334.6h6M558.9,327.4v7.8M555.9,327.4h6M555.9,335.2h6M562.8,324.3v12.5M559.8,324.3h6M559.8,336.8h6M572.9,322.3v12.1M569.9,322.3h6M569.9,334.4h6M565.2,319.8v12.6M562.2,319.8h6M562.2,332.4h6M560.7,323.5v7.2M557.7,323.5h6M557.7,330.8h6M563.6,327.8v7.4M560.6,327.8h6M560.6,335.2h6M566.3,325.3v10.8M563.3,325.3h6M563.3,336.1h6M564.0,322.7v9.4M561.0,322.7h6M561.0,332.2h6M573.8,319.8v12.0M570.8,319.8h6M570.8,331.7h6M562.3,321.3v10.8M559.3,321.3h6M559.3,332.0h6M565.8,317.9v11.4M562.8,317.9h6M562.8,329.3h6M563.4,323.8v11.7M560.4,323.8h6M560.4,335.5h6M552.1,325.2v11.5M549.1,325.2h6M549.1,336.7h6M549.8,323.1v9.2M546.8,323.1h6M546.8,332.4h6M558.6,322.4v7.3M555.6,322.4h6M555.6,329.7h6M555.7,323.6v10.7M552.7,323.6h6M552.7,334.3h6M553.2,323.5v10.4M550.2,323.5h6M550.2,333.9h6M566.3,323.9v11.9M563.3,323.9h6M563.3,335.7h6M565.8,322.3v12.3M562.8,322.3h6M562.8,334.6h6M552.4,317.0v13.1M549.4,317.0h6M549.4,330.1h6M552.2,324.5v14.1M549.2,324.5h6M549.2,338.7h6M551.7,320.8v13.2M548.7,320.8h6M548.7,333.9h6M568.1,322.6v12.1M565.1,322.6h6M565.1,334.7h6M566.0,323.0v11.4M563.0,323.0h6M563.0,334.4h6M558.3,317.5v12.1M555.3,317.5h6M555.3,329.6h6M554.8,318.7v11.7M551.8,318.7h6M551.8,330.4h6M553.9,319.0v11.1M550.9,319.0h6M550.9,330.1h6M547.1,318.0v12.2M544.1,318.0h6M544.1,330.2h6M557.7,323.0v8.2M554.7,323.0h6M554.7,331.1h6M548.5,320.8v7.6M545.5,320.8h6M545.5,328.4h6M564.9,323.2v10.1M561.9,323.2h6M561.9,333.3h6M565.1,316.5v10.5M562.1,316.5h6M562.1,327.0h6M560.8,317.6v11.6M557.8,317.6h6M557.8,329.2h6M562.7,320.2v9.4M559.7,320.2h6M559.7,329.7h6M572.4,321.4v10.3M569.4,321.4h6M569.4,331.6h6M547.5,320.4v7.7M544.5,320.4h6M544.5,328.1h6M555.0,324.0v15.9M552.0,324.0h6M552.0,340.0h6M554.0,325.8v9.8M551.0,325.8h6M551.0,335.7h6M547.7,324.6v15.0M544.7,324.6h6M544.7,339.5h6M572.2,324.5v11.3M569.2,324.5h6M569.2,335.8h6M573.3,319.3v13.1M570.3,319.3h6M570.3,332.4h6M556.3,321.8v10.2M553.3,321.8h6M553.3,331.9h6M559.7,322.5v7.3M556.7,322.5h6M556.7,329.8h6M549.7,319.5v10.5M546.7,319.5h6M546.7,330.0h6M556.9,326.1v10.2M553.9,326.1h6M553.9,336.3h6M550.5,322.5v8.5M547.5,322.5h6M547.5,331.0h6M569.8,317.3v11.6M566.8,317.3h6M566.8,329.0h6M550.4,320.3v13.2M547.4,320.3h6M547.4,333.6h6M550.9,320.8v7.2M547.9,320.8h6M547.9,327.9h6M554.4,321.6v10.9M551.4,321.6h6M551.4,332.6h6M559.6,321.3v10.1M556.6,321.3h6M556.6,331.4h6M554.5,316.9v9.4M551.5,316.9h6M551.5,326.3h6M549.7,318.1v10.4M546.7,318.1h6M546.7,328.6h6M557.7,320.0v8.5M554.7,320.0h6M554.7,328.5h6M546.9,322.6v11.6M543.9,322.6h6M543.9,334.2h6M571.5,322.2v10.4M568.5,322.2h6M568.5,332.5h6M556.8,320.3v15.0M553.8,320.3h6M553.8,335.4h6M569.4,317.6v11.4M566.4,317.6h6M566.4,329.0h6M548.5,323.3v11.5M545.5,323.3h6M545.5,334.9h6M551.1,320.9v7.5M548.1,320.9h6M548.1,328.4h6M574.3,325.3v9.1M571.3,325.3h6M571.3,334.4h6M563.6,317.9v9.0M560.6,317.9h6M560.6,327.0h6M573.1,322.3v14.0M570.1,322.3h6M570.1,336.3h6M565.3,321.9v12.1M562.3,321.9h6M562.3,334.0h6M554.1,319.5v10.0M551.1,319.5h6M551.1,329.6h6M565.4,322.7v11.1M562.4,322.7h6M562.4,333.8h6M547.7,324.5v11.3M544.7,324.5h6M544.7,335.8h6M565.6,323.1v14.3M562.6,323.1h6M562.6,337.4h6M559.4,319.9v10.9M556.4,319.9h6M556.4,330.8h6M547.0,319.6v15.7M544.0,319.6h6M544.0,335.3h6M566.4,326.0v8.7M563.4,326.0h6M563.4,334.8h6M548.5,317.9v11.3M545.5,317.9h6M545.5,329.2h6M561.3,323.2v11.6M558.3,323.2h6M558.3,334.8h6M557.0,315.2v10.9M554.0,315.2h6M554.0,326.0h6M567.2,320.7v9.9M564.2,320.7h6M564.2,330.5h6M560.1,319.7v10.2M557.1,319.7h6M557.1,329.9h6M562.8,321.9v10.3M559.8,321.9h6M559.8,332.2h6M562.3,325.8v13.6M559.3,325.8h6M559.3,339.4h6M560.2,317.9v14.6M557.2,317.9h6M557.2,332.5h6M571.7,320.8v12.1M568.7,320.8h6M568.7,332.9h6M547.8,321.9v7.6M544.8,321.9h6M544.8,329.5h6M548.1,319.7v8.0M545.1,319.7h6M545.1,327.8h6M568.6,323.0v10.8M565.6,323.0h6M565.6,333.8h6M549.5,324.1v8.5M546.5,324.1h6M546.5,332.5h6M571.5,321.5v7.3M568.5,321.5h6M568.5,328.7h6M560.6,322.0v13.7M557.6,322.0h6M557.6,335.6h6M554.6,319.8v12.1M551.6,319.8h6M551.6,331.9h6M556.4,324.3v10.1M553.4,324.3h6M553.4,334.4h6M546.7,323.2v11.1M543.7,323.2h6M543.7,334.3h6M558.4,316.5v9.4M555.4,316.5h6M555.4,325.9h6M549.1,315.9v8.7M546.1,315.9h6M546.1,324.6h6M556.3,323.8v9.5M553.3,323.8h6M553.3,333.3h6M553.6,322.6v10.8M550.6,322.6h6M550.6,333.4h6M546.8,322.6v6.0M543.8,322.6h6M543.8,328.6h6M563.5,319.8v8.2M560.5,319.8h6M560.5,328.0h6M560.1,324.4v10.9M557.1,324.4h6M557.1,335.3h6M552.1,318.9v12.4M549.1,318.9h6M549.1,331.3h6M572.9,319.6v9.0M569.9,319.6h6M569.9,328.6h6M550.8,324.4v10.8M547.8,324.4h6M547.8,335.3h6M569.3,325.5v9.0M566.3,325.5h6M566.3,334.5h6M549.6,317.3v12.6M546.6,317.3h6M546.6,329.9h6M573.5,323.2v7.9M570.5,323.2h6M570.5,331.2h6M552.6,324.3v9.5M549.6,324.3h6M549.6,333.8h6M554.2,322.6v13.7M551.2,322.6h6M551.2,336.3h6M555.6,320.8v9.6M552.6,320.8h6M552.6,330.4h6M548.1,319.4v9.5M545.1,319.4h6M545.1,329.0h6M556.6,320.8v7.5M553.6,320.8h6M553.6,328.3h6M572.1,316.1v13.2M569.1,316.1h6M569.1,329.3h6M546.7,319.3v14.3M543.7,319.3h6M543.7,333.6h6M572.8,320.6v6.4M569.8,320.6h6M569.8,327.0h6M551.9,324.3v10.1M548.9,324.3h6M548.9,334.4h6M561.4,321.9v12.0M558.4,321.9h6M558.4,333.9h6M552.5,316.8v12.6M549.5,316.8h6M549.5,329.4h6M569.7,324.6v8.4M566.7,324.6h6M566.7,333.0h6M571.3,318.9v12.2M568.3,318.9h6M568.3,331.1h6M569.5,317.9v14.9M566.5,317.9h6M566.5,332.8h6M571.5,317.1v12.0M568.5,317.1h6M568.5,329.1h6M565.5,325.9v8.3M562.5,325.9h6M562.5,334.2h6M559.1,321.7v8.5M556.1,321.7h6M556.1,330.2h6M562.0,315.9v12.6M559.0,315.9h6M559.0,328.6h6M547.9,318.7v12.1M544.9,318.7h6M544.9,330.9h6M570.1,319.0v13.9M567.1,319.0h6M567.1,332.8h6M548.2,325.4v10.4M545.2,325.4h6M545.2,335.7h6M555.8,322.1v13.1M552.8,322.1h6M552.8,335.2h6M552.5,320.5v8.9M549.5,320.5h6M549.5,329.5h6M551.5,327.2v10.9M548.5,327.2h6M548.5,338.1h6M561.1,319.8v9.8M558.1,319.8h6M558.1,329.6h6M555.0,319.8v11.1M552.0,319.8h6M552.0,330.9h6M548.2,318.0v10.4M545.2,318.0h6M545.2,328.4h6M552.0,323.0v11.3M549.0,323.0h6M549.0,334.3h6M557.7,322.2v8.4M554.7,322.2h6M554.7,330.6h6M558.7,320.5v6.6M555.7,320.5h6M555.7,327.1h6M567.3,320.4v12.9M564.3,320.4h6M564.3,333.2h6M552.0,317.9v6.3M549.0,317.9h6M549.0,324.2h6M557.2,321.2v10.7M554.2,321.2h6M554.2,331.9h6M547.1,324.3v11.8M544.1,324.3h6M544.1,336.0h6M551.7,323.7v11.0M548.7,323.7h6M548.7,334.8h6M555.8,320.1v7.0M552.8,320.1h6M552.8,327.1h6M554.1,319.1v10.1M551.1,319.1h6M551.1,329.1h6M568.3,321.0v13.6M565.3,321.0h6M565.3,334.6h6M568.3,323.7v7.9M565.3,323.7h6M565.3,331.7h6M555.5,317.8v9.0M552.5,317.8h6M552.5,326.8h6M557.4,323.2v10.2M554.4,323.2h6M554.4,333.4h6M556.3,322.1v11.0M553.3,322.1h6M553.3,333.1h6M572.5,318.8v8.9M569.5,318.8h6M569.5,327.7h6M104.7,319.7v14.2M101.7,319.7h6M101.7,333.9h6M101.6,321.2v19.3M98.6,321.2h6M98.6,340.6h6M110.0,325.0v15.2M107.0,325.0h6M107.0,340.2h6M97.6,325.0v11.6M94.6,325.0h6M94.6,336.7h6M128.2,312.9v15.0M125.2,312.9h6M125.2,327.9h6M112.6,325.2v20.7M109.6,325.2h6M109.6,346.0h6M106.1,325.4v17.9M103.1,325.4h6M103.1,343.3h6M96.1,318.0v15.9M93.1,318.0h6M93.1,333.9h6M94.2,320.1v17.9M91.2,320.1h6M91.2,338.0h6M98.4,317.4v17.0M95.4,317.4h6M95.4,334.5h6M99.8,316.5v14.1M96.8,316.5h6M96.8,330.7h6M93.8,313.9v16.8M90.8,313.9h6M90.8,330.7h6M124.8,320.6v19.2M121.8,320.6h6M121.8,339.8h6M93.7,325.3v14.7M90.7,325.3h6M90.7,340.0h6M121.7,313.3v17.9M118.7,313.3h6M118.7,331.2h6M107.6,324.9v15.1M104.6,324.9h6M104.6,339.9h6M106.2,323.6v17.5M103.2,323.6h6M103.2,341.1h6M120.6,316.8v16.1M117.6,316.8h6M117.6,332.9h6M129.0,323.0v17.5M126.0,323.0h6M126.0,340.5h6M111.3,315.8v14.4M108.3,315.8h6M108.3,330.3h6M130.4,308.9v16.6M127.4,308.9h6M127.4,325.5h6M124.4,324.0v15.4M121.4,324.0h6M121.4,339.5h6M129.0,324.0v14.5M126.0,324.0h6M126.0,338.5h6M96.9,319.9v15.7M93.9,319.9h6M93.9,335.5h6M124.6,322.0v18.0M121.6,322.0h6M121.6,340.0h6M93.0,315.0v16.4M90.0,315.0h6M90.0,331.4h6M165.4,314.7v13.5M162.4,314.7h6M162.4,328.2h6M154.8,310.8v12.1M151.8,310.8h6M151.8,322.9h6M160.3,327.0v16.7M157.3,327.0h6M157.3,343.7h6M174.5,321.9v12.1M171.5,321.9h6M171.5,334.0h6M166.6,326.3v20.0M163.6,326.3h6M163.6,346.3h6M169.4,325.3v17.4M166.4,325.3h6M166.4,342.7h6M149.9,315.2v15.6M146.9,315.2h6M146.9,330.7h6M179.0,321.9v19.6M176.0,321.9h6M176.0,341.5h6M175.7,317.0v15.1M172.7,317.0h6M172.7,332.1h6M156.4,324.2v20.3M153.4,324.2h6M153.4,344.5h6M172.6,310.6v13.1M169.6,310.6h6M169.6,323.6h6M181.8,314.3v19.1M178.8,314.3h6M178.8,333.4h6M155.8,312.4v13.5M152.8,312.4h6M152.8,325.9h6M178.1,322.9v16.0M175.1,322.9h6M175.1,338.9h6M162.0,327.2v18.0M159.0,327.2h6M159.0,345.2h6M176.0,316.6v20.2M173.0,316.6h6M173.0,336.9h6M182.0,315.8v16.3M179.0,315.8h6M179.0,332.1h6M160.9,314.1v15.3M157.9,314.1h6M157.9,329.4h6M185.6,318.4v17.9M182.6,318.4h6M182.6,336.3h6M152.2,310.3v13.5M149.2,310.3h6M149.2,323.8h6M178.7,314.0v13.7M175.7,314.0h6M175.7,327.7h6M187.2,311.1v14.3M184.2,311.1h6M184.2,325.4h6M162.5,316.3v16.2M159.5,316.3h6M159.5,332.5h6M179.9,313.3v16.2M176.9,313.3h6M176.9,329.5h6M175.1,316.4v15.6M172.1,316.4h6M172.1,332.0h6M157.3,327.0v18.4M154.3,327.0h6M154.3,345.4h6M221.8,313.6v13.5M218.8,313.6h6M218.8,327.1h6M236.0,319.0v16.0M233.0,319.0h6M233.0,335.0h6M208.2,318.9v16.1M205.2,318.9h6M205.2,334.9h6M242.3,313.8v17.2M239.3,313.8h6M239.3,331.0h6M231.3,320.4v19.4M228.3,320.4h6M228.3,339.8h6M238.5,317.9v15.7M235.5,317.9h6M235.5,333.6h6M206.1,320.9v14.0M203.1,320.9h6M203.1,334.9h6M208.5,327.3v18.2M205.5,327.3h6M205.5,345.5h6M216.5,315.5v18.7M213.5,315.5h6M213.5,334.2h6M207.1,322.3v18.2M204.1,322.3h6M204.1,340.5h6M216.2,317.6v14.8M213.2,317.6h6M213.2,332.4h6M237.0,310.4v17.8M234.0,310.4h6M234.0,328.2h6M218.3,312.1v16.7M215.3,312.1h6M215.3,328.9h6M210.1,324.7v16.5M207.1,324.7h6M207.1,341.1h6M214.7,320.4v17.2M211.7,320.4h6M211.7,337.6h6M218.2,310.7v17.3M215.2,310.7h6M215.2,328.0h6M234.7,321.1v20.2M231.7,321.1h6M231.7,341.3h6M243.7,327.1v17.9M240.7,327.1h6M240.7,345.0h6M222.4,321.5v19.3M219.4,321.5h6M219.4,340.8h6M235.6,322.3v18.5M232.6,322.3h6M232.6,340.8h6M218.5,318.6v14.0M215.5,318.6h6M215.5,332.6h6M236.6,319.8v15.6M233.6,319.8h6M233.6,335.5h6M219.3,321.5v17.2M216.3,321.5h6M216.3,338.7h6M216.1,325.8v19.8M213.1,325.8h6M213.1,345.6h6M225.2,326.2v14.7M222.2,326.2h6M222.2,341.0h6M221.1,313.1v14.7M218.1,313.1h6M218.1,327.7h6M464.8,317.8v11.5M461.8,317.8h6M461.8,329.3h6M454.5,322.6v16.3M451.5,322.6h6M451.5,339.0h6M464.3,313.3v13.6M461.3,313.3h6M461.3,326.8h6M458.5,320.7v14.5M455.5,320.7h6M455.5,335.1h6M443.2,321.6v10.7M440.2,321.6h6M440.2,332.4h6M447.9,315.0v14.9M444.9,315.0h6M444.9,329.8h6M445.7,320.3v11.4M442.7,320.3h6M442.7,331.7h6M458.3,322.0v16.6M455.3,322.0h6M455.3,338.6h6M435.2,318.7v10.4M432.2,318.7h6M432.2,329.1h6M438.2,312.4v12.9M435.2,312.4h6M435.2,325.4h6M490.8,317.8v9.2M487.8,317.8h6M487.8,327.0h6M518.2,315.1v13.5M515.2,315.1h6M515.2,328.7h6M520.7,321.1v14.6M517.7,321.1h6M517.7,335.7h6M495.5,320.6v13.6M492.5,320.6h6M492.5,334.2h6M517.2,317.9v14.9M514.2,317.9h6M514.2,332.8h6M519.4,323.5v10.2M516.4,323.5h6M516.4,333.6h6M517.1,322.9v16.4M514.1,322.9h6M514.1,339.3h6M506.2,318.9v11.1M503.2,318.9h6M503.2,330.1h6M517.8,323.8v10.8M514.8,323.8h6M514.8,334.6h6M512.4,325.8v14.6M509.4,325.8h6M509.4,340.3h6M517.5,314.3v9.6M514.5,314.3h6M514.5,323.9h6M507.8,323.2v11.7M504.8,323.2h6M504.8,334.9h6M548.1,320.0v11.6M545.1,320.0h6M545.1,331.7h6M564.5,327.5v11.4M561.5,327.5h6M561.5,339.0h6M560.0,323.3v13.0M557.0,323.3h6M557.0,336.3h6M557.7,320.7v15.2M554.7,320.7h6M554.7,335.8h6M551.4,326.2v15.2M548.4,326.2h6M548.4,341.4h6M551.7,318.4v12.9M548.7,318.4h6M548.7,331.3h6M560.8,321.1v14.3M557.8,321.1h6M557.8,335.4h6M547.8,317.1v12.9M544.8,317.1h6M544.8,330.0h6M560.2,320.6v15.5M557.2,320.6h6M557.2,336.0h6M558.0,327.1v15.0M555.0,327.1h6M555.0,342.1h6M92.0,304.0v16.0M89.0,304.0h6M89.0,320.0h6M92.7,306.0v16.0M89.7,306.0h6M89.7,322.0h6M108.2,301.6v16.4M105.2,301.6h6M105.2,318.0h6M114.5,300.7v17.0M111.5,300.7h6M111.5,317.7h6M121.3,302.5v16.0M118.3,302.5h6M118.3,318.5h6M104.0,306.0v15.0M101.0,306.0h6M101.0,321.0h6M131.4,310.3v15.4M128.4,310.3h6M128.4,325.7h6M99.0,337.7v14.0M96.0,337.7h6M96.0,351.7h6M91.3,330.0v21.0M88.3,330.0h6M88.3,351.0h6M97.7,334.2v17.6M94.7,334.2h6M94.7,351.8h6M102.6,336.2v21.6M99.6,336.2h6M99.6,357.8h6M104.0,335.5v17.0M101.0,335.5h6M101.0,352.5h6M113.0,330.2v16.6M110.0,330.2h6M110.0,346.8h6M120.0,330.0v16.0M117.0,330.0h6M117.0,346.0h6M132.8,325.2v18.0M129.8,325.2h6M129.8,343.2h6M132.8,312.4v14.0M129.8,312.4h6M129.8,326.4h6M154.8,305.6v16.0M151.8,305.6h6M151.8,321.6h6M161.0,305.6v16.0M158.0,305.6h6M158.0,321.6h6M168.0,305.6v16.0M165.0,305.6h6M165.0,321.6h6M182.0,304.0v16.0M179.0,304.0h6M179.0,320.0h6M189.0,301.5v17.0M186.0,301.5h6M186.0,318.5h6M147.0,314.5v14.0M144.0,314.5h6M144.0,328.5h6M152.0,332.8v16.4M149.0,332.8h6M149.0,349.2h6M155.5,332.8v16.4M152.5,332.8h6M152.5,349.2h6M164.6,333.0v17.0M161.6,333.0h6M161.6,350.0h6M172.6,333.0v18.0M169.6,333.0h6M169.6,351.0h6M187.8,332.8v21.4M184.8,332.8h6M184.8,354.2h6M182.0,330.8v16.0M179.0,330.8h6M179.0,346.8h6M219.0,297.0v16.4M216.0,297.0h6M216.0,313.4h6M227.0,299.8v13.6M224.0,299.8h6M224.0,313.4h6M233.3,304.2v10.6M230.3,304.2h6M230.3,314.8h6M211.2,306.6v14.8M208.2,306.6h6M208.2,321.4h6M245.0,308.0v15.0M242.0,308.0h6M242.0,323.0h6M216.5,303.5v12.0M213.5,303.5h6M213.5,315.5h6M222.0,303.5v13.0M219.0,303.5h6M219.0,316.5h6M224.5,303.5v12.0M221.5,303.5h6M221.5,315.5h6M230.0,304.0v12.0M227.0,304.0h6M227.0,316.0h6M236.0,305.5v12.0M233.0,305.5h6M233.0,317.5h6M213.5,305.0v12.0M210.5,305.0h6M210.5,317.0h6M209.3,332.0v17.0M206.3,332.0h6M206.3,349.0h6M219.0,330.0v16.0M216.0,330.0h6M216.0,346.0h6M225.6,331.8v16.4M222.6,331.8h6M222.6,348.2h6M233.5,334.7v19.6M230.5,334.7h6M230.5,354.3h6M242.0,338.5v18.6M239.0,338.5h6M239.0,357.1h6M242.4,335.0v17.0M239.4,335.0h6M239.4,352.0h6M244.5,335.0v14.0M241.5,335.0h6M241.5,349.0h6M240.5,336.5v13.0M237.5,336.5h6M237.5,349.5h6M264.6,300.4v15.2M261.6,300.4h6M261.6,315.6h6M262.1,334.4v18.0M259.1,334.4h6M259.1,352.4h6M264.0,306.0v10.0M261.0,306.0h6M261.0,316.0h6M265.0,336.0v10.0M262.0,336.0h6M262.0,346.0h6M408.0,299.0v16.0M405.0,299.0h6M405.0,315.0h6M413.4,307.7v14.6M410.4,307.7h6M410.4,322.3h6M404.5,305.6v14.8M401.5,305.6h6M401.5,320.4h6M404.5,341.7v18.6M401.5,341.7h6M401.5,360.3h6M408.4,343.8v20.4M405.4,343.8h6M405.4,364.2h6M413.1,343.3v19.4M410.1,343.3h6M410.1,362.7h6M414.4,341.4v16.0M411.4,341.4h6M411.4,357.4h6M414.0,309.5v14.0M411.0,309.5h6M411.0,323.5h6M406.0,340.5v17.0M403.0,340.5h6M403.0,357.5h6M410.5,342.5v16.0M407.5,342.5h6M407.5,358.5h6M466.9,336.4v20.4M463.9,336.4h6M463.9,356.8h6M473.3,307.6v18.8M470.3,307.6h6M470.3,326.4h6M433.6,311.4v10.0M430.6,311.4h6M430.6,321.4h6M435.3,333.8v16.8M432.3,333.8h6M432.3,350.6h6M449.0,328.5v16.0M446.0,328.5h6M446.0,344.5h6M444.3,310.3v16.4M441.3,310.3h6M441.3,326.7h6M462.5,312.9v14.2M459.5,312.9h6M459.5,327.1h6M438.0,332.0v14.0M435.0,332.0h6M435.0,346.0h6M447.0,314.5v12.0M444.0,314.5h6M444.0,326.5h6M468.0,331.5v13.0M465.0,331.5h6M465.0,344.5h6M511.6,333.5v16.2M508.6,333.5h6M508.6,349.7h6M526.0,332.5v14.0M523.0,332.5h6M523.0,346.5h6M506.4,330.6v14.4M503.4,330.6h6M503.4,345.0h6M493.0,313.0v14.0M490.0,313.0h6M490.0,327.0h6M520.0,312.5v13.0M517.0,312.5h6M517.0,325.5h6M525.8,313.0v15.0M522.8,313.0h6M522.8,328.0h6M490.0,316.0v12.0M487.0,316.0h6M487.0,328.0h6M503.0,314.5v12.0M500.0,314.5h6M500.0,326.5h6M555.0,336.9v15.8M552.0,336.9h6M552.0,352.6h6M547.7,311.0v13.2M544.7,311.0h6M544.7,324.2h6M562.9,334.0v14.0M559.9,334.0h6M559.9,348.0h6M569.0,333.0v16.0M566.0,333.0h6M566.0,349.0h6M547.5,329.0v14.0M544.5,329.0h6M544.5,343.0h6M567.0,312.5v13.0M564.0,312.5h6M564.0,325.5h6M572.0,311.0v14.0M569.0,311.0h6M569.0,325.0h6M581.5,328.3v19.0M578.5,328.3h6M578.5,347.3h6M583.6,312.5v16.0M580.6,312.5h6M580.6,328.5h6M584.5,325.2v10.0M581.5,325.2h6M581.5,335.2h6M582.5,320.5v11.0M579.5,320.5h6M579.5,331.5h6M580.5,325.0v12.0M577.5,325.0h6M577.5,337.0h6M577.2,122.7v3.7M574.2,122.7h6M574.2,126.4h6M577.3,123.4v3.1M574.3,123.4h6M574.3,126.5h6M577.7,123.3v3.7M574.7,123.3h6M574.7,127.1h6M577.5,124.3v3.1M574.5,124.3h6M574.5,127.3h6M577.5,124.4v3.2M574.5,124.4h6M574.5,127.6h6M577.6,124.5v4.0M574.6,124.5h6M574.6,128.5h6M577.5,125.2v3.2M574.5,125.2h6M574.5,128.3h6M577.7,125.0v3.8M574.7,125.0h6M574.7,128.8h6M577.5,144.4v3.8M574.5,144.4h6M574.5,148.2h6M577.8,144.6v4.5M574.8,144.6h6M574.8,149.1h6M577.2,146.1v4.1M574.2,146.1h6M574.2,150.1h6M577.6,146.6v4.1M574.6,146.6h6M574.6,150.6h6M577.6,146.7v4.3M574.6,146.7h6M574.6,150.9h6M577.3,147.7v4.2M574.3,147.7h6M574.3,151.9h6M577.4,148.3v4.2M574.4,148.3h6M574.4,152.5h6M577.4,149.1v4.1M574.4,149.1h6M574.4,153.1h6M577.7,150.0v4.6M574.7,150.0h6M574.7,154.5h6M577.2,150.4v4.1M574.2,150.4h6M574.2,154.5h6M577.3,151.0v4.2M574.3,151.0h6M574.3,155.2h6M577.3,151.5v4.6M574.3,151.5h6M574.3,156.1h6M577.2,152.1v4.8M574.2,152.1h6M574.2,156.9h6M577.5,153.4v3.8M574.5,153.4h6M574.5,157.2h6M577.4,191.6v4.9M574.4,191.6h6M574.4,196.5h6M577.3,193.3v4.3M574.3,193.3h6M574.3,197.6h6M577.3,193.9v4.3M574.3,193.9h6M574.3,198.2h6M577.4,194.9v4.5M574.4,194.9h6M574.4,199.4h6M577.7,195.4v5.1M574.7,195.4h6M574.7,200.4h6M577.3,196.4v4.5M574.3,196.4h6M574.3,200.9h6M577.5,196.6v4.6M574.5,196.6h6M574.5,201.2h6M577.5,197.5v4.4M574.5,197.5h6M574.5,201.9h6M577.3,198.2v4.6M574.3,198.2h6M574.3,202.7h6M577.2,199.4v4.9M574.2,199.4h6M574.2,204.3h6M577.6,199.7v5.6M574.6,199.7h6M574.6,205.2h6M577.7,200.5v5.0M574.7,200.5h6M574.7,205.5h6M577.5,189.6v5.4M574.5,189.6h6M574.5,195.0h6M577.3,222.2v5.5M574.3,222.2h6M574.3,227.6h6M577.3,223.2v5.0M574.3,223.2h6M574.3,228.2h6M577.7,223.6v5.6M574.7,223.6h6M574.7,229.2h6M577.2,224.8v4.8M574.2,224.8h6M574.2,229.6h6M577.8,225.6v5.7M574.8,225.6h6M574.8,231.3h6M577.7,226.0v5.7M574.7,226.0h6M574.7,231.7h6M577.8,226.9v5.8M574.8,226.9h6M574.8,232.7h6M577.8,228.2v5.4M574.8,228.2h6M574.8,233.6h6M577.4,228.8v5.6M574.4,228.8h6M574.4,234.4h6M577.5,230.4v5.4M574.5,230.4h6M574.5,235.9h6M577.2,230.3v6.2M574.2,230.3h6M574.2,236.4h6M577.8,231.8v5.9M574.8,231.8h6M574.8,237.7h6M577.3,247.6v6.2M574.3,247.6h6M574.3,253.8h6M577.3,248.6v6.1M574.3,248.6h6M574.3,254.7h6M577.3,249.2v5.7M574.3,249.2h6M574.3,254.8h6M577.4,250.2v6.5M574.4,250.2h6M574.4,256.7h6M577.2,250.6v6.8M574.2,250.6h6M574.2,257.3h6M577.4,252.4v5.8M574.4,252.4h6M574.4,258.2h6M577.8,253.3v6.2M574.8,253.3h6M574.8,259.5h6M577.4,254.4v6.6M574.4,254.4h6M574.4,261.0h6M577.3,254.4v6.7M574.3,254.4h6M574.3,261.1h6M577.4,256.0v6.5M574.4,256.0h6M574.4,262.5h6M577.6,256.9v6.1M574.6,256.9h6M574.6,263.0h6M577.2,258.1v6.3M574.2,258.1h6M574.2,264.3h6M577.6,258.3v7.0M574.6,258.3h6M574.6,265.3h6M577.8,259.6v6.3M574.8,259.6h6M574.8,265.9h6M577.9,271.6v7.1M574.9,271.6h6M574.9,278.7h6M577.9,273.4v6.3M574.9,273.4h6M574.9,279.7h6M578.1,273.8v7.3M575.1,273.8h6M575.1,281.0h6M577.8,274.5v6.6M574.8,274.5h6M574.8,281.1h6M578.2,275.0v7.6M575.2,275.0h6M575.2,282.6h6M578.1,276.0v6.6M575.1,276.0h6M575.1,282.6h6M578.1,277.2v7.4M575.1,277.2h6M575.1,284.6h6M578.5,277.9v7.0M575.5,277.9h6M575.5,285.0h6M577.8,278.3v7.3M574.8,278.3h6M574.8,285.6h6M577.8,279.3v7.3M574.8,279.3h6M574.8,286.6h6M577.9,280.5v7.5M574.9,280.5h6M574.9,288.0h6M578.4,281.3v7.1M575.4,281.3h6M575.4,288.3h6M577.9,281.6v7.7M574.9,281.6h6M574.9,289.2h6M578.3,282.1v8.0M575.3,282.1h6M575.3,290.1h6M578.0,283.2v8.2M575.0,283.2h6M575.0,291.3h6M578.2,284.5v7.6M575.2,284.5h6M575.2,292.1h6M578.6,285.0v7.8M575.6,285.0h6M575.6,292.8h6M578.0,285.6v8.3M575.0,285.6h6M575.0,293.9h6M578.2,286.8v7.9M575.2,286.8h6M575.2,294.7h6M577.9,287.3v8.5M574.9,287.3h6M574.9,295.7h6M578.4,288.0v8.3M575.4,288.0h6M575.4,296.2h6M577.8,289.2v7.8M574.8,289.2h6M574.8,297.0h6M578.2,289.7v8.1M575.2,289.7h6M575.2,297.8h6M577.8,290.7v8.2M574.8,290.7h6M574.8,298.8h6M578.4,291.8v8.7M575.4,291.8h6M575.4,300.5h6M578.0,292.6v8.9M575.0,292.6h6M575.0,301.5h6M577.8,293.0v9.1M574.8,293.0h6M574.8,302.0h6M578.5,293.5v9.2M575.5,293.5h6M575.5,302.7h6M578.2,295.2v8.5M575.2,295.2h6M575.2,303.7h6M578.5,296.0v8.8M575.5,296.0h6M575.5,304.8h6M578.6,296.9v8.7M575.6,296.9h6M575.6,305.6h6M578.5,297.3v9.1M575.5,297.3h6M575.5,306.4h6M578.4,297.7v9.3M575.4,297.7h6M575.4,307.0h6M577.8,298.9v9.7M574.8,298.9h6M574.8,308.6h6M578.0,299.3v9.6M575.0,299.3h6M575.0,308.8h6M578.3,300.1v9.5M575.3,300.1h6M575.3,309.6h6M578.5,301.4v9.5M575.5,301.4h6M575.5,310.9h6M578.3,302.2v9.4M575.3,302.2h6M575.3,311.6h6M577.9,302.7v9.2M574.9,302.7h6M574.9,311.9h6M577.8,303.6v9.2M574.8,303.6h6M574.8,312.9h6M577.8,304.5v9.4M574.8,304.5h6M574.8,313.9h6M578.4,305.0v9.7M575.4,305.0h6M575.4,314.7h6M578.3,306.4v9.2M575.3,306.4h6M575.3,315.6h6M578.6,306.7v9.8M575.6,306.7h6M575.6,316.5h6M578.2,307.8v10.5M575.2,307.8h6M575.2,318.3h6M578.0,308.3v10.4M575.0,308.3h6M575.0,318.6h6M578.0,310.0v9.6M575.0,310.0h6M575.0,319.6h6M578.2,309.9v10.3M575.2,309.9h6M575.2,320.2h6M578.1,310.7v10.4M575.1,310.7h6M575.1,321.1h6M578.0,311.8v10.9M575.0,311.8h6M575.0,322.6h6M578.0,312.9v10.3M575.0,312.9h6M575.0,323.2h6M578.6,313.9v10.7M575.6,313.9h6M575.6,324.5h6M578.4,314.6v10.4M575.4,314.6h6M575.4,325.0h6M578.5,314.8v10.5M575.5,314.8h6M575.5,325.3h6M578.4,316.0v11.2M575.4,316.0h6M575.4,327.2h6M578.5,316.7v11.1M575.5,316.7h6M575.5,327.8h6M578.5,317.7v11.2M575.5,317.7h6M575.5,328.8h6M577.9,318.2v11.2M574.9,318.2h6M574.9,329.3h6M578.0,319.0v10.7M575.0,319.0h6M575.0,329.7h6M578.2,320.0v11.3M575.2,320.0h6M575.2,331.4h6"/>
</g>
<path d="M113.6,322.9h0M98.0,326.5h0M107.2,325.7h0M130.8,328.0h0M92.1,327.2h0M98.9,326.0h0M130.7,331.3h0M128.3,324.6h0M115.1,335.5h0M100.9,325.6h0M113.4,328.4h0M109.7,338.1h0M114.4,335.9h0M109.1,322.3h0M119.0,321.3h0M117.5,320.0h0M125.6,322.9h0M113.0,322.4h0M102.3,324.8h0M113.6,330.8h0M102.1,323.1h0M105.2,324.3h0M123.9,320.5h0M111.3,324.8h0M101.0,329.5h0M114.2,323.2h0M99.3,323.6h0M114.2,330.9h0M91.5,323.8h0M96.8,325.1h0M120.6,332.8h0M96.5,335.9h0M97.1,321.3h0M121.4,325.4h0M111.7,324.4h0M123.4,331.1h0M114.8,319.1h0M105.3,337.2h0M106.0,320.4h0M93.7,327.0h0M111.5,324.6h0M107.9,321.6h0M129.9,331.5h0M97.3,324.3h0M120.9,323.3h0M111.8,326.6h0M105.2,328.0h0M124.5,325.1h0M118.8,325.4h0M103.0,323.9h0M98.8,320.8h0M114.7,328.3h0M101.8,322.6h0M109.6,336.9h0M93.2,319.3h0M124.2,327.3h0M97.0,321.7h0M124.6,322.5h0M105.2,321.9h0M125.2,327.0h0M128.0,333.1h0M113.0,324.2h0M104.6,324.1h0M92.1,331.0h0M109.6,320.9h0M101.5,330.7h0M116.3,326.3h0M92.8,331.4h0M103.3,315.0h0M125.6,325.6h0M104.4,337.9h0M96.5,328.3h0M92.1,324.8h0M130.4,326.5h0M131.0,330.8h0M97.0,331.4h0M100.7,318.3h0M96.4,329.1h0M99.4,320.6h0M104.0,325.6h0M93.1,326.7h0M105.2,327.6h0M123.2,329.4h0M128.3,327.4h0M97.2,324.2h0M129.1,321.7h0M121.5,327.4h0M95.5,326.1h0M105.8,323.0h0M111.1,334.3h0M98.9,334.7h0M103.4,332.7h0M113.9,325.7h0M116.7,325.1h0M116.8,316.2h0M104.7,325.9h0M119.4,325.0h0M109.9,332.5h0M122.6,325.1h0M95.8,328.5h0M95.6,333.1h0M115.0,322.7h0M125.0,323.9h0M126.7,320.6h0M96.5,323.4h0M128.5,326.6h0M115.2,329.4h0M119.9,328.7h0M117.4,332.4h0M98.9,331.6h0M109.7,323.8h0M121.0,323.4h0M123.9,332.6h0M103.9,326.5h0M98.3,322.8h0M121.6,327.6h0M114.8,325.3h0M92.5,325.3h0M96.8,332.4h0M115.0,323.8h0M103.6,329.1h0M93.3,322.4h0M105.4,324.6h0M102.6,322.5h0M124.9,327.4h0M99.1,328.5h0M126.0,327.5h0M117.0,322.5h0M92.3,331.9h0M125.7,327.4h0M95.4,323.6h0M112.5,321.0h0M96.1,324.2h0M113.9,329.8h0M107.6,323.5h0M125.4,327.1h0M128.7,324.9h0M107.8,327.5h0M119.5,320.1h0M128.6,324.3h0M118.3,320.5h0M126.1,323.7h0M91.3,332.7h0M117.6,336.6h0M125.6,329.4h0M127.6,325.4h0M105.2,329.3h0M96.5,326.5h0M128.4,322.7h0M131.0,323.3h0M98.8,322.3h0M114.4,322.7h0M113.4,326.7h0M99.0,315.8h0M117.6,323.8h0M119.3,320.0h0M108.0,327.1h0M113.1,330.7h0M98.1,320.5h0M127.2,323.1h0M122.8,325.7h0M130.5,328.7h0M115.6,323.3h0M103.2,329.4h0M103.5,318.8h0M104.7,318.8h0M93.9,327.3h0M124.1,331.5h0M127.9,323.3h0M126.3,327.8h0M95.9,324.5h0M95.9,328.9h0M99.5,325.7h0M108.5,324.6h0M110.7,327.7h0M105.6,327.4h0M108.6,323.0h0M96.2,332.4h0M105.9,318.4h0M102.2,329.0h0M115.1,333.6h0M100.0,328.8h0M119.5,327.5h0M104.8,331.1h0M112.8,323.1h0M111.1,325.6h0M130.3,327.4h0M98.3,327.4h0M128.7,329.2h0M126.1,328.5h0M100.8,325.3h0M125.7,326.5h0M121.8,328.3h0M91.1,330.2h0M95.7,330.2h0M105.8,319.3h0M126.1,326.5h0M127.1,326.5h0M117.8,326.2h0M110.6,325.9h0M96.8,329.6h0M92.9,328.4h0M129.8,323.2h0M93.7,326.5h0M111.5,329.0h0M106.8,334.9h0M112.3,323.6h0M115.2,324.8h0M97.7,332.5h0M115.9,319.2h0M119.4,324.2h0M97.5,323.2h0M108.9,320.6h0M116.4,337.0h0M109.6,319.0h0M102.4,316.5h0M126.5,333.9h0M130.6,325.8h0M116.0,322.0h0M107.5,320.2h0M97.0,326.1h0M111.1,326.0h0M129.6,326.5h0M120.2,325.1h0M121.1,332.8h0M120.1,325.8h0M92.6,323.6h0M95.9,335.3h0M98.0,324.2h0M96.1,327.6h0M100.6,324.4h0M95.7,326.0h0M129.0,326.7h0M102.1,335.4h0M107.8,329.3h0M115.6,324.7h0M106.4,324.0h0M97.2,335.6h0M109.2,324.4h0M91.2,327.7h0M95.4,324.1h0M95.5,325.9h0M98.6,329.9h0M100.7,324.7h0M103.7,329.0h0M122.0,327.9h0M121.3,325.9h0M98.9,328.5h0M116.3,329.6h0M127.7,328.0h0M92.6,323.3h0M102.9,333.8h0M122.1,325.7h0M124.6,322.8h0M114.2,333.3h0M102.1,333.6h0M119.1,330.3h0M91.5,324.8h0M105.9,327.4h0M127.7,331.0h0M104.0,327.2h0M127.8,324.7h0M102.8,324.3h0M129.2,329.0h0M121.3,326.9h0M123.8,327.9h0M111.9,326.3h0M123.1,327.2h0M118.6,328.2h0M101.4,322.4h0M118.5,325.6h0M109.0,328.5h0M104.9,318.8h0M120.0,319.1h0M131.0,326.1h0M119.2,326.4h0M131.0,323.6h0M115.5,326.7h0M108.8,324.5h0M99.3,329.6h0M128.1,326.7h0M91.2,328.8h0M96.3,320.4h0M112.0,321.3h0M107.2,327.7h0M104.9,330.1h0M116.9,327.2h0M114.4,318.7h0M104.1,332.9h0M117.1,328.8h0M105.6,331.7h0M99.4,325.6h0M116.2,325.1h0M118.3,328.5h0M127.7,331.1h0M100.7,331.2h0M102.2,326.1h0M122.0,325.7h0M129.9,330.3h0M120.6,323.6h0M114.9,325.9h0M124.0,321.9h0M116.0,321.8h0M106.1,322.1h0M116.4,323.0h0M92.1,323.0h0M94.4,328.0h0M119.9,326.6h0M92.3,326.3h0M94.5,330.6h0M99.9,323.6h0M103.9,325.4h0M105.6,323.3h0M125.3,324.3h0M108.2,328.3h0M116.5,330.1h0M103.1,328.5h0M128.7,323.6h0M108.4,324.7h0M118.3,325.4h0M115.1,325.3h0M108.5,322.5h0M104.6,324.9h0M94.7,325.3h0M102.2,327.3h0M100.7,326.5h0M115.8,329.4h0M113.4,320.9h0M127.2,330.5h0M119.9,322.4h0M128.1,328.1h0M101.2,320.9h0M115.2,323.8h0M113.5,328.9h0M91.4,332.8h0M129.6,328.9h0M113.7,328.0h0M101.2,326.3h0M103.5,328.6h0M100.3,316.0h0M94.5,323.3h0M123.3,324.5h0M122.5,329.4h0M102.8,331.9h0M103.3,324.5h0M131.4,327.3h0M130.0,328.1h0M98.9,331.4h0M108.7,320.7h0M125.1,332.1h0M130.3,327.8h0M130.4,323.9h0M119.9,326.7h0M130.2,321.1h0M102.5,330.9h0M110.6,330.6h0M109.3,330.9h0M116.5,330.1h0M115.8,323.6h0M103.0,325.5h0M107.2,325.9h0M109.5,325.5h0M114.1,326.2h0M96.3,331.7h0M124.8,327.4h0M113.0,322.4h0M103.4,332.2h0M100.3,320.9h0M99.3,327.1h0M127.6,325.3h0M91.3,327.3h0M97.8,332.7h0M114.4,335.3h0M124.1,326.2h0M106.9,323.5h0M94.0,330.1h0M107.8,328.2h0M106.5,328.1h0M106.2,323.1h0M101.1,333.2h0M102.7,334.3h0M120.9,329.2h0M115.9,327.5h0M131.3,326.2h0M128.6,327.6h0M107.8,331.1h0M109.1,318.4h0M114.4,328.6h0M93.0,322.8h0M108.0,330.1h0M100.3,323.8h0M129.3,329.8h0M99.3,329.6h0M95.7,326.0h0M129.4,324.1h0M107.6,327.4h0M93.6,327.6h0M108.8,330.8h0M126.3,325.8h0M116.5,324.2h0M128.0,327.7h0M99.2,327.6h0M124.5,323.2h0M124.3,324.9h0M101.3,324.8h0M131.2,321.5h0M120.8,332.1h0M106.3,323.2h0M94.7,325.5h0M129.8,323.9h0M116.9,325.5h0M107.3,324.2h0M92.3,326.7h0M101.8,330.7h0M97.2,327.6h0M111.4,328.5h0M113.1,325.4h0M91.7,329.0h0M128.7,327.1h0M106.8,329.2h0M118.5,325.7h0M110.1,323.8h0M125.5,320.0h0M91.7,328.2h0M99.4,325.7h0M108.4,333.9h0M102.0,327.7h0M97.3,333.0h0M97.8,332.6h0M112.4,330.9h0M113.5,320.9h0M119.6,326.8h0M122.4,334.6h0M130.8,327.7h0M93.8,330.9h0M92.1,320.9h0M126.0,330.1h0M104.2,324.9h0M98.7,322.0h0M127.6,321.1h0M113.7,329.4h0M129.0,323.2h0M106.6,327.4h0M92.5,330.7h0M91.7,322.9h0M118.4,331.5h0M100.7,328.0h0M100.3,325.2h0M126.6,331.9h0M110.2,318.5h0M122.6,323.3h0M113.2,327.1h0M121.2,327.6h0M109.0,330.3h0M120.8,328.0h0M123.3,326.6h0M103.1,322.5h0M119.3,328.0h0M107.9,316.1h0M97.1,321.9h0M123.8,328.8h0M108.6,323.5h0M120.3,324.0h0M94.2,328.8h0M129.5,328.9h0M107.8,327.4h0M113.9,331.4h0M107.8,325.7h0M100.7,328.7h0M99.4,326.9h0M119.5,325.2h0M100.9,326.0h0M95.9,323.7h0M122.8,322.8h0M116.7,322.3h0M120.9,324.6h0M125.4,324.8h0M127.0,325.2h0M106.7,326.1h0M109.9,326.8h0M99.2,329.1h0M126.8,325.9h0M129.9,321.4h0M107.8,333.0h0M106.8,327.6h0M125.0,327.9h0M107.3,332.5h0M126.4,333.4h0M92.2,324.6h0M108.4,331.5h0M100.6,326.7h0M100.4,326.8h0M124.1,329.0h0M98.9,324.7h0M99.6,327.3h0M123.6,331.4h0M119.8,322.1h0M113.2,328.0h0M119.9,326.4h0M94.5,328.6h0M100.6,327.9h0M121.0,321.9h0M91.5,331.7h0M114.4,325.4h0M103.6,325.4h0M129.7,325.6h0M117.5,326.6h0M124.2,321.2h0M111.6,337.5h0M115.9,328.2h0M112.4,330.5h0M128.2,322.8h0M95.0,320.2h0M94.0,320.3h0M124.2,319.1h0M106.0,328.7h0M91.3,326.0h0M98.4,319.8h0M92.5,320.2h0M91.6,330.6h0M119.9,330.3h0M118.1,324.5h0M107.5,317.2h0M105.1,336.4h0M106.5,334.9h0M122.2,329.0h0M92.6,324.9h0M112.7,324.3h0M100.4,331.5h0M94.6,323.9h0M117.0,332.3h0M114.0,325.5h0M100.9,331.9h0M107.6,326.5h0M116.8,325.2h0M126.9,320.5h0M119.0,320.0h0M126.7,324.3h0M94.3,321.3h0M108.2,319.2h0M112.7,318.0h0M96.5,324.1h0M124.8,333.4h0M93.5,325.4h0M127.3,328.4h0M122.6,326.4h0M93.3,327.5h0M127.1,329.9h0M126.7,326.8h0M129.4,328.1h0M95.9,319.5h0M116.0,337.3h0M118.9,329.0h0M130.6,329.6h0M129.5,331.1h0M104.6,326.2h0M95.8,330.8h0M129.2,334.6h0M118.2,332.9h0M116.1,326.2h0M130.5,328.6h0M126.6,320.8h0M125.2,324.7h0M93.3,330.2h0M95.4,323.2h0M118.9,319.6h0M123.5,332.3h0M107.3,323.2h0M112.9,322.9h0M123.3,329.8h0M102.6,320.8h0M123.7,317.6h0M99.4,327.5h0M127.4,325.5h0M91.6,328.5h0M101.2,329.0h0M131.4,320.6h0M100.1,335.2h0M116.1,329.5h0M114.1,334.5h0M127.3,324.8h0M97.0,322.0h0M106.2,331.2h0M115.3,326.1h0M121.7,323.2h0M121.6,331.1h0M97.5,323.5h0M130.8,328.4h0M96.4,334.0h0M126.2,325.5h0M100.6,317.9h0M112.6,325.0h0M116.7,318.2h0M122.1,328.1h0M95.6,329.5h0M111.3,331.7h0M101.0,323.6h0M116.3,326.6h0M127.3,332.2h0M103.6,329.4h0M131.5,323.3h0M96.8,329.6h0M121.7,324.7h0M95.7,318.6h0M104.7,317.6h0M111.7,323.6h0M95.0,331.6h0M106.6,330.7h0M96.5,331.5h0M97.6,331.3h0M110.3,331.5h0M128.0,329.4h0M125.7,325.7h0M105.6,327.7h0M99.8,326.4h0M96.3,326.8h0M117.7,327.8h0M105.7,319.5h0M105.7,326.9h0M95.8,328.3h0M124.7,326.6h0M94.5,328.5h0M109.6,320.7h0M124.0,321.5h0M99.6,325.6h0M106.7,333.4h0M101.6,330.0h0M115.5,327.8h0M127.8,331.7h0M91.4,327.9h0M96.0,322.7h0M130.5,324.5h0M92.1,327.3h0M113.4,331.6h0M92.6,331.0h0M93.3,329.1h0M106.8,327.0h0M114.8,321.4h0M116.6,315.2h0M118.5,326.5h0M110.2,325.6h0M104.6,329.4h0M123.4,328.5h0M109.8,327.2h0M125.2,322.5h0M127.1,324.8h0M127.3,332.3h0M92.7,328.5h0M97.2,327.9h0M102.8,327.3h0M128.0,332.8h0M97.0,325.9h0M97.5,322.9h0M127.0,328.2h0M97.2,326.9h0M101.3,331.3h0M123.0,319.2h0M98.2,326.4h0M121.7,321.5h0M128.0,325.4h0M122.3,324.7h0M117.5,326.5h0M104.8,328.1h0M119.3,320.8h0M99.4,330.4h0M127.1,322.8h0M122.9,331.0h0M108.3,324.9h0M123.8,330.1h0M120.1,330.4h0M106.9,327.3h0M124.1,326.2h0M103.7,329.0h0M100.5,323.0h0M101.3,320.1h0M121.7,334.9h0M130.7,324.2h0M118.3,322.2h0M102.0,323.8h0M122.1,329.0h0M100.7,323.0h0M99.3,328.5h0M101.8,335.6h0M107.4,329.3h0M109.2,327.5h0M120.3,320.6h0M128.2,325.1h0M96.5,323.2h0M94.3,325.2h0M117.6,326.6h0M117.7,324.8h0M120.2,331.7h0M113.2,318.7h0M130.9,324.1h0M129.0,334.1h0M130.9,322.0h0M92.5,322.5h0M96.5,321.3h0M110.4,328.1h0M107.1,323.4h0M103.5,329.6h0M113.3,321.9h0M101.5,334.9h0M125.8,326.8h0M112.9,324.4h0M102.7,323.2h0M93.8,328.8h0M131.0,330.0h0M128.5,326.1h0M91.4,325.6h0M98.7,325.9h0M112.7,327.2h0M118.0,324.3h0M121.9,321.2h0M120.8,322.5h0M124.9,324.8h0M128.9,328.0h0M118.0,330.0h0M97.6,333.0h0M92.6,329.6h0M95.0,324.2h0M111.3,325.7h0M119.8,330.5h0M109.4,328.0h0M115.8,335.4h0M130.0,326.5h0M110.7,320.3h0M119.5,320.1h0M115.6,316.3h0M112.1,325.6h0M108.8,326.0h0M95.6,330.5h0M127.0,328.5h0M92.8,326.5h0M101.9,331.9h0M111.5,323.2h0M122.1,321.6h0M131.3,326.6h0M91.2,324.8h0M104.8,325.8h0M104.8,325.9h0M106.4,327.6h0M116.7,326.5h0M110.9,328.8h0M128.5,325.0h0M128.5,323.0h0M104.3,328.8h0M103.0,328.9h0M91.9,327.1h0M106.7,323.8h0M124.9,327.7h0M126.9,319.5h0M115.4,331.4h0M118.2,325.0h0M107.3,323.5h0M116.2,330.1h0M100.3,333.5h0M93.7,321.6h0M129.3,328.8h0M129.8,324.0h0M100.3,331.8h0M109.3,333.2h0M95.6,328.7h0M117.8,322.5h0M123.0,321.7h0M99.2,328.0h0M131.4,324.6h0M99.5,319.7h0M97.7,323.7h0M112.8,324.4h0M94.0,327.3h0M118.6,330.2h0M120.3,328.0h0M114.1,324.8h0M100.0,329.1h0M109.0,326.0h0M100.3,326.9h0M114.0,326.4h0M126.0,325.7h0M94.9,332.0h0M114.2,328.6h0M130.1,333.1h0M126.5,327.4h0M110.7,331.3h0M109.3,318.4h0M124.9,322.2h0M121.5,325.6h0M117.4,327.2h0M121.1,332.1h0M119.9,331.1h0M129.3,322.8h0M127.3,328.8h0M109.7,326.1h0M92.3,329.6h0M112.7,318.3h0M110.8,321.2h0M124.3,326.6h0M92.6,326.2h0M92.7,329.5h0M97.7,321.2h0M130.5,327.9h0M106.0,334.4h0M109.4,329.7h0M92.5,330.0h0M104.7,324.2h0M127.2,325.3h0M91.4,323.9h0M130.7,325.6h0M108.8,333.2h0M111.0,320.1h0M96.5,321.1h0M91.3,330.4h0M107.9,323.1h0M103.7,326.8h0M103.3,315.5h0M128.0,324.3h0M124.4,326.4h0M125.8,329.1h0M116.9,326.8h0M121.8,323.4h0M114.9,331.8h0M107.4,331.4h0M124.2,323.3h0M107.5,325.9h0M94.9,322.5h0M110.3,319.0h0M107.8,328.0h0M117.7,325.7h0M103.8,321.6h0M110.7,335.6h0M93.6,326.6h0M96.0,334.0h0M126.9,320.9h0M94.3,327.4h0M116.0,323.6h0M102.5,332.9h0M121.4,319.8h0M94.0,329.9h0M113.6,323.8h0M101.5,330.6h0M123.2,332.4h0M92.9,326.7h0M91.7,327.2h0M120.9,321.1h0M109.0,322.1h0M117.3,321.6h0M123.5,319.5h0M131.3,326.3h0M97.5,321.2h0M126.5,324.6h0M169.7,320.9h0M151.7,334.4h0M175.3,326.4h0M187.6,332.0h0M188.2,328.4h0M163.0,323.2h0M185.8,331.9h0M164.5,330.7h0M185.7,329.6h0M157.9,329.0h0M147.5,323.7h0M150.7,328.4h0M167.6,325.9h0M159.6,332.8h0M182.7,333.9h0M166.6,327.5h0M152.6,329.4h0M171.6,324.9h0M152.8,331.0h0M155.7,325.1h0M156.1,325.7h0M149.3,320.5h0M164.4,326.7h0M159.3,327.0h0M160.4,326.5h0M186.0,334.5h0M151.6,323.0h0M172.6,323.8h0M172.1,321.4h0M147.4,329.1h0M148.8,325.1h0M148.5,329.5h0M163.6,328.4h0M161.4,322.4h0M150.7,326.0h0M149.5,323.5h0M161.8,330.7h0M168.7,331.6h0M186.7,324.5h0M147.2,336.0h0M156.6,324.6h0M154.9,331.6h0M157.4,328.3h0M168.4,325.8h0M154.9,327.3h0M164.0,327.0h0M182.6,330.1h0M151.4,327.7h0M166.2,327.1h0M187.7,321.1h0M150.2,317.7h0M152.4,333.0h0M148.6,322.0h0M185.1,321.0h0M163.0,323.2h0M186.5,325.5h0M167.5,325.7h0M151.3,318.6h0M185.5,330.2h0M180.5,328.7h0M183.2,328.1h0M151.1,330.0h0M148.1,327.4h0M180.4,323.4h0M155.0,321.0h0M179.1,329.7h0M170.3,329.4h0M153.2,328.8h0M185.7,334.1h0M176.1,320.0h0M181.8,334.7h0M159.2,329.9h0M180.5,327.2h0M153.6,322.8h0M167.0,332.2h0M169.2,327.3h0M156.7,331.8h0M181.2,334.1h0M175.4,333.3h0M167.2,329.9h0M149.5,324.3h0M170.6,325.2h0M147.6,322.8h0M166.9,329.3h0M181.3,320.3h0M149.6,326.2h0M172.3,320.8h0M180.6,327.1h0M148.8,330.9h0M165.3,333.0h0M188.4,325.9h0M164.4,331.2h0M158.2,330.9h0M188.0,325.4h0M186.2,329.0h0M188.0,328.1h0M176.2,328.2h0M180.2,326.3h0M169.9,331.0h0M163.1,325.9h0M175.1,323.1h0M152.9,333.3h0M162.7,320.4h0M149.7,332.4h0M147.4,324.3h0M160.4,325.8h0M167.5,324.0h0M167.0,327.2h0M181.6,331.0h0M173.5,322.1h0M159.7,330.7h0M185.6,326.8h0M170.4,327.1h0M151.9,330.6h0M161.1,326.2h0M164.9,327.8h0M182.6,317.4h0M186.3,330.2h0M160.6,325.1h0M172.7,317.6h0M167.0,329.4h0M148.8,329.5h0M168.5,329.8h0M184.0,335.6h0M156.2,323.7h0M158.8,333.7h0M183.0,331.7h0M175.0,325.3h0M150.6,331.2h0M169.0,337.9h0M161.4,325.1h0M187.0,323.5h0M181.1,328.8h0M176.7,333.2h0M178.7,323.7h0M172.2,322.4h0M183.7,323.2h0M160.4,326.0h0M173.7,324.9h0M169.5,333.1h0M170.4,332.9h0M154.9,317.7h0M173.7,334.7h0M161.7,327.4h0M170.4,323.1h0M149.1,336.6h0M165.2,324.4h0M158.5,332.7h0M149.9,328.6h0M174.4,327.0h0M181.0,329.3h0M150.6,324.4h0M185.6,328.6h0M174.9,325.4h0M156.2,330.8h0M151.6,322.7h0M157.0,331.9h0M182.6,323.9h0M163.1,321.1h0M179.8,329.0h0M163.7,324.0h0M152.4,325.9h0M147.5,324.8h0M162.6,323.6h0M153.9,322.6h0M150.6,328.1h0M186.2,332.0h0M149.5,327.7h0M168.0,325.2h0M183.4,329.0h0M179.8,323.3h0M169.6,334.2h0M166.1,327.0h0M175.2,332.4h0M160.6,332.2h0M157.2,326.9h0M172.8,327.4h0M179.6,332.2h0M156.6,326.5h0M157.9,331.9h0M153.5,327.7h0M166.4,328.4h0M172.1,325.7h0M171.8,321.5h0M158.2,322.0h0M170.0,326.1h0M163.5,335.8h0M173.7,329.6h0M186.7,327.1h0M163.1,328.4h0M167.0,321.3h0M177.3,320.8h0M147.3,322.5h0M188.1,326.1h0M149.0,325.0h0M173.3,324.0h0M150.8,327.6h0M157.2,330.3h0M185.9,326.5h0M170.5,331.9h0M171.9,332.9h0M183.7,334.5h0M162.3,333.7h0M156.2,321.8h0M154.7,318.9h0M185.1,319.5h0M175.0,326.8h0M150.8,321.1h0M151.7,332.0h0M157.3,323.3h0M162.7,331.7h0M160.1,323.1h0M186.0,323.5h0M153.2,318.1h0M151.4,319.7h0M173.2,318.3h0M154.8,327.2h0M185.7,331.0h0M149.2,324.8h0M184.9,325.5h0M148.3,323.4h0M160.8,333.8h0M169.6,328.0h0M151.2,323.4h0M148.1,332.9h0M166.3,325.6h0M167.4,328.9h0M151.9,329.8h0M153.8,331.2h0M163.3,322.5h0M185.9,322.4h0M185.2,330.9h0M176.9,321.9h0M186.7,330.3h0M183.6,327.9h0M177.6,330.8h0M173.1,327.6h0M154.9,321.8h0M147.7,323.6h0M186.3,322.2h0M173.5,330.0h0M183.4,327.4h0M180.3,322.1h0M167.6,322.7h0M165.8,325.5h0M158.8,324.4h0M178.5,327.2h0M169.7,319.8h0M168.4,326.9h0M170.8,329.9h0M147.6,324.4h0M182.8,329.1h0M186.4,334.5h0M166.9,322.3h0M169.4,331.9h0M155.9,322.3h0M176.3,323.9h0M161.6,332.4h0M162.2,329.1h0M182.8,322.2h0M177.7,321.5h0M188.5,321.5h0M157.9,332.1h0M182.4,325.2h0M152.7,331.8h0M164.8,331.7h0M157.2,317.3h0M178.0,324.3h0M178.4,337.9h0M158.5,332.9h0M159.1,329.8h0M160.6,321.9h0M157.6,325.7h0M155.1,325.7h0M175.3,330.6h0M168.0,337.6h0M169.8,321.4h0M184.6,320.9h0M187.0,326.6h0M158.8,332.4h0M164.2,326.5h0M169.0,328.8h0M186.4,327.0h0M158.9,325.8h0M181.9,325.4h0M151.5,337.1h0M183.8,330.5h0M178.4,331.7h0M175.3,317.8h0M153.7,327.8h0M153.9,323.4h0M153.4,328.2h0M169.8,330.2h0M174.0,324.9h0M155.4,329.5h0M151.1,330.6h0M176.4,318.4h0M168.0,321.8h0M158.8,325.3h0M159.9,329.8h0M184.1,326.4h0M152.3,333.6h0M156.3,331.3h0M180.5,327.3h0M170.1,327.0h0M154.6,326.9h0M148.0,333.0h0M174.4,327.9h0M181.8,323.8h0M150.2,330.0h0M151.4,328.4h0M185.2,336.4h0M174.4,321.4h0M174.8,327.6h0M171.2,324.1h0M186.0,321.8h0M148.5,322.8h0M176.5,323.7h0M178.9,326.0h0M183.4,324.6h0M178.1,324.7h0M182.0,326.4h0M171.0,326.6h0M164.1,324.3h0M164.2,328.2h0M150.4,324.5h0M162.0,327.8h0M181.4,330.5h0M168.8,329.6h0M164.9,319.5h0M156.7,319.9h0M147.6,323.1h0M171.5,326.8h0M170.2,324.0h0M179.9,334.3h0M184.7,328.7h0M166.2,327.0h0M178.1,330.0h0M168.5,329.3h0M182.2,332.4h0M162.1,330.5h0M163.8,335.4h0M161.7,324.0h0M165.3,324.6h0M182.4,330.6h0M170.0,320.8h0M176.7,331.8h0M147.8,323.3h0M149.8,324.2h0M162.6,320.2h0M165.0,324.8h0M158.4,327.6h0M156.1,323.4h0M154.3,327.3h0M184.0,337.7h0M150.2,332.7h0M159.3,330.2h0M169.3,326.8h0M173.5,329.2h0M166.4,334.2h0M149.1,329.5h0M178.1,330.0h0M169.3,322.2h0M158.6,329.4h0M183.8,328.3h0M185.9,323.7h0M162.6,331.7h0M168.6,329.8h0M178.0,320.7h0M177.4,322.5h0M163.9,332.4h0M177.5,327.2h0M162.6,325.9h0M179.0,320.8h0M152.1,319.3h0M186.1,322.1h0M148.8,324.6h0M186.9,331.7h0M177.8,328.2h0M152.3,323.9h0M181.3,329.0h0M167.2,323.7h0M172.1,327.7h0M154.6,323.4h0M165.9,332.1h0M169.5,329.9h0M155.6,319.1h0M164.5,326.7h0M180.2,324.0h0M168.2,327.6h0M155.6,332.1h0M186.4,323.0h0M155.7,332.8h0M168.6,332.9h0M163.3,324.9h0M184.3,328.0h0M187.4,327.2h0M187.1,327.2h0M182.3,322.7h0M158.8,323.5h0M167.1,321.0h0M188.4,335.5h0M158.1,329.0h0M147.4,328.6h0M157.0,323.1h0M166.9,323.9h0M147.2,325.8h0M156.6,321.2h0M150.3,332.1h0M167.8,334.4h0M183.7,329.5h0M150.3,321.4h0M168.3,332.9h0M150.9,320.9h0M186.0,320.2h0M165.3,322.5h0M167.6,326.9h0M149.3,326.5h0M157.8,331.1h0M149.2,328.5h0M177.7,326.6h0M182.8,327.4h0M152.6,325.8h0M158.8,337.2h0M149.4,326.9h0M178.5,326.8h0M168.8,328.0h0M177.9,318.2h0M178.8,326.7h0M158.4,329.6h0M180.0,326.1h0M180.6,318.0h0M164.0,327.5h0M187.0,325.9h0M173.9,322.0h0M161.9,328.2h0M174.3,317.4h0M163.5,334.2h0M180.9,329.9h0M180.1,323.4h0M168.6,320.1h0M175.6,318.7h0M174.1,321.1h0M162.1,319.9h0M188.0,337.4h0M172.0,320.5h0M187.0,328.3h0M165.4,335.9h0M188.1,324.8h0M163.2,324.0h0M183.1,326.2h0M188.2,326.0h0M183.3,330.3h0M152.8,328.7h0M172.9,327.6h0M152.8,319.7h0M177.1,325.3h0M164.9,323.1h0M154.5,326.4h0M171.0,321.2h0M182.4,317.4h0M149.4,321.3h0M186.0,325.7h0M171.3,334.0h0M183.4,328.6h0M170.9,328.5h0M159.1,320.6h0M153.5,329.9h0M178.7,333.0h0M186.8,326.9h0M174.6,329.1h0M153.1,331.7h0M179.5,332.0h0M163.1,322.3h0M174.5,326.1h0M148.5,327.6h0M154.9,331.0h0M174.1,323.3h0M166.0,327.2h0M167.4,333.8h0M168.7,330.6h0M178.6,323.1h0M169.8,332.3h0M159.2,325.5h0M150.8,323.4h0M185.7,321.5h0M162.7,330.7h0M169.7,333.3h0M185.0,323.9h0M168.4,326.8h0M147.7,323.2h0M179.5,330.1h0M164.6,328.8h0M170.9,330.0h0M168.4,325.0h0M166.3,320.7h0M168.4,328.5h0M186.2,336.0h0M184.6,320.4h0M166.0,328.4h0M168.6,325.6h0M184.8,318.0h0M176.3,326.6h0M170.5,331.3h0M154.9,327.0h0M148.3,331.0h0M149.2,329.1h0M147.7,330.6h0M185.7,323.0h0M157.6,320.3h0M150.2,325.0h0M173.6,320.0h0M153.6,326.3h0M178.2,322.0h0M172.0,325.0h0M181.0,325.1h0M173.2,321.1h0M183.1,331.4h0M184.4,329.6h0M147.2,332.0h0M184.6,333.5h0M173.7,323.6h0M151.5,318.3h0M163.1,326.3h0M177.9,335.0h0M177.4,325.5h0M188.4,326.1h0M171.8,324.7h0M176.0,321.3h0M181.0,325.8h0M147.4,325.4h0M158.2,324.3h0M157.0,326.5h0M188.3,324.8h0M188.1,326.7h0M158.2,321.2h0M151.2,329.7h0M154.7,327.3h0M175.5,327.2h0M158.9,321.9h0M175.2,323.3h0M185.4,323.9h0M178.9,335.4h0M178.2,319.7h0M174.8,330.7h0M178.1,324.6h0M170.5,328.7h0M181.7,327.6h0M177.8,325.5h0M155.9,330.1h0M148.4,331.1h0M183.8,329.1h0M175.4,323.9h0M158.7,326.6h0M184.9,321.8h0M159.5,331.8h0M158.3,317.7h0M174.3,325.4h0M180.0,321.7h0M159.9,321.5h0M173.5,328.2h0M157.4,319.8h0M167.7,334.5h0M168.8,325.4h0M152.1,327.3h0M157.7,330.4h0M159.7,326.4h0M178.1,327.0h0M185.7,327.0h0M169.7,333.1h0M152.3,334.3h0M167.5,324.0h0M176.9,329.1h0M150.7,328.3h0M147.5,329.9h0M173.6,326.8h0M166.2,332.0h0M178.3,326.9h0M175.9,329.2h0M164.5,326.0h0M151.2,331.7h0M149.5,324.9h0M167.8,326.6h0M156.3,329.6h0M180.6,335.8h0M166.2,325.3h0M157.7,327.4h0M186.0,333.3h0M176.5,325.2h0M174.8,326.3h0M152.0,325.0h0M172.8,324.8h0M149.2,325.9h0M170.8,327.4h0M181.2,323.9h0M156.1,331.5h0M173.5,327.7h0M162.2,326.0h0M181.7,331.5h0M153.0,331.9h0M159.3,331.3h0M154.5,322.8h0M163.4,331.8h0M163.1,325.8h0M186.8,325.8h0M172.5,327.0h0M176.8,334.3h0M150.0,329.5h0M150.2,325.0h0M171.6,330.4h0M147.6,327.3h0M174.6,334.3h0M161.5,329.0h0M160.4,322.7h0M147.8,324.1h0M178.3,328.5h0M158.1,321.6h0M182.5,322.9h0M183.8,324.9h0M176.2,325.8h0M169.1,330.0h0M156.8,329.8h0M165.9,331.1h0M152.7,326.8h0M158.6,322.7h0M148.5,332.9h0M183.1,324.5h0M164.0,327.5h0M179.0,322.4h0M155.4,323.7h0M165.5,324.3h0M154.8,327.9h0M153.2,319.5h0M173.1,320.2h0M157.2,333.1h0M181.6,327.6h0M179.0,324.9h0M158.9,329.9h0M159.2,329.1h0M179.4,325.2h0M183.0,320.2h0M173.9,329.5h0M179.2,318.8h0M179.9,328.5h0M176.5,326.4h0M183.7,327.4h0M168.4,325.5h0M180.2,326.4h0M182.2,326.3h0M183.7,322.9h0M168.7,332.0h0M161.6,322.3h0M168.5,327.2h0M160.1,325.1h0M184.4,324.8h0M184.6,321.8h0M167.0,324.9h0M156.5,333.4h0M148.0,325.3h0M172.4,319.1h0M166.2,325.3h0M159.5,325.8h0M161.0,324.6h0M175.0,319.8h0M158.3,320.1h0M178.0,325.0h0M151.2,328.8h0M158.5,318.2h0M179.3,324.3h0M181.6,327.8h0M175.5,327.2h0M157.2,329.6h0M163.3,324.9h0M158.8,325.3h0M157.6,326.5h0M166.6,328.1h0M188.4,336.5h0M186.7,328.4h0M167.2,324.6h0M184.5,323.2h0M182.0,323.6h0M177.7,319.0h0M164.8,323.8h0M163.9,327.0h0M161.7,329.2h0M160.5,326.6h0M180.3,324.6h0M156.9,329.2h0M159.6,331.5h0M183.8,326.3h0M160.7,319.3h0M171.6,326.1h0M149.8,324.9h0M164.7,327.6h0M148.5,328.8h0M157.6,332.6h0M176.4,327.7h0M176.1,321.3h0M181.8,321.1h0M153.5,326.0h0M169.3,323.3h0M174.4,318.8h0M180.6,327.2h0M165.2,332.1h0M168.3,325.1h0M171.9,330.0h0M159.3,326.9h0M150.6,325.1h0M148.5,327.1h0M152.1,333.4h0M155.9,331.7h0M152.9,328.8h0M181.4,318.5h0M148.1,330.8h0M165.9,328.3h0M150.5,330.8h0M180.5,318.6h0M150.9,334.7h0M153.1,322.4h0M164.7,330.5h0M150.7,334.0h0M156.8,325.3h0M172.8,331.6h0M153.2,330.9h0M149.1,327.9h0M158.2,335.2h0M181.7,324.0h0M181.0,324.9h0M174.7,319.1h0M162.1,326.6h0M172.6,319.7h0M182.5,326.3h0M176.3,323.2h0M151.4,331.1h0M153.5,328.1h0M180.0,325.4h0M184.6,326.4h0M176.4,329.4h0M148.5,328.0h0M183.6,325.9h0M155.1,321.6h0M184.6,327.8h0M183.9,327.7h0M152.5,326.7h0M185.3,327.8h0M172.5,326.2h0M176.8,330.3h0M150.4,332.0h0M186.6,332.6h0M183.6,332.5h0M163.7,331.9h0M150.5,330.3h0M175.5,322.8h0M156.2,325.1h0M175.6,331.7h0M165.1,326.4h0M150.9,330.3h0M178.6,328.8h0M187.6,325.3h0M172.6,329.4h0M161.7,320.0h0M178.8,326.8h0M150.6,330.3h0M174.3,332.1h0M187.0,325.5h0M173.0,329.4h0M185.5,329.8h0M184.3,332.1h0M152.2,328.5h0M178.3,325.7h0M156.8,329.4h0M149.0,334.3h0M176.7,331.0h0M188.0,327.6h0M168.6,326.0h0M174.1,326.5h0M157.4,328.2h0M153.7,321.7h0M161.2,321.5h0M155.5,317.3h0M160.7,331.3h0M155.4,328.2h0M147.9,326.0h0M154.5,325.5h0M186.6,322.7h0M168.7,325.0h0M166.9,328.1h0M152.0,328.9h0M147.2,327.1h0M182.8,324.6h0M175.5,328.0h0M159.7,319.3h0M187.4,325.6h0M153.5,325.8h0M157.4,319.7h0M150.8,333.0h0M158.1,335.1h0M161.3,328.7h0M152.0,326.4h0M177.2,330.0h0M149.4,325.2h0M179.6,321.3h0M175.9,330.5h0M176.2,321.1h0M177.1,318.5h0M169.8,324.6h0M149.9,322.5h0M179.3,322.3h0M185.2,322.9h0M179.7,332.0h0M154.4,327.1h0M175.5,333.4h0M161.2,329.4h0M151.9,321.8h0M151.7,329.2h0M178.7,323.8h0M185.2,321.8h0M158.5,325.6h0M154.5,328.2h0M157.4,327.5h0M158.1,324.0h0M159.1,328.1h0M159.3,318.4h0M167.8,321.4h0M167.9,327.6h0M176.0,332.5h0M176.4,330.4h0M187.6,333.1h0M153.1,324.3h0M185.6,327.3h0M158.4,332.9h0M178.5,320.8h0M150.0,330.4h0M151.9,334.4h0M182.9,326.1h0M162.1,319.7h0M161.6,319.8h0M156.0,329.0h0M180.0,327.0h0M183.7,326.4h0M149.8,325.0h0M155.0,330.0h0M161.9,327.6h0M150.2,325.5h0M163.9,324.7h0M151.9,334.3h0M154.1,327.3h0M176.1,322.2h0M171.9,321.4h0M148.1,333.8h0M220.9,332.5h0M205.8,328.9h0M224.5,321.0h0M212.7,329.8h0M220.3,330.3h0M230.0,324.4h0M212.0,325.7h0M237.1,328.2h0M217.7,318.3h0M230.4,320.0h0M208.3,335.8h0M228.1,327.0h0M209.2,329.9h0M243.6,330.1h0M216.7,329.7h0M244.1,328.3h0M209.3,329.0h0M219.0,326.0h0M229.0,321.9h0M241.2,335.7h0M240.8,321.0h0M220.0,332.8h0M212.3,332.2h0M218.3,325.6h0M221.6,330.5h0M240.6,328.8h0M223.7,325.6h0M206.7,329.5h0M222.1,325.3h0M223.6,320.1h0M207.8,332.6h0M219.9,333.1h0M238.6,322.1h0M214.1,325.9h0M230.4,333.6h0M220.0,333.5h0M225.1,322.5h0M235.1,319.6h0M214.2,324.2h0M236.4,321.4h0M237.1,324.3h0M228.3,336.7h0M243.7,322.5h0M227.4,331.5h0M225.5,333.0h0M239.1,325.4h0M212.3,322.0h0M227.7,327.4h0M233.1,321.8h0M237.8,328.0h0M214.2,327.6h0M207.6,329.9h0M227.0,330.1h0M221.1,324.7h0M219.7,324.4h0M233.9,329.3h0M216.4,318.6h0M230.9,338.7h0M233.5,324.8h0M241.9,333.7h0M235.1,327.2h0M213.9,334.1h0M205.4,325.7h0M233.9,329.6h0M235.2,329.3h0M241.1,330.1h0M212.7,323.1h0M214.2,332.7h0M221.2,331.6h0M207.3,331.4h0M229.6,335.4h0M230.3,327.1h0M212.8,326.0h0M210.2,326.3h0M227.7,322.3h0M232.3,323.3h0M216.5,333.3h0M212.1,327.1h0M227.2,322.1h0M242.1,327.3h0M243.8,319.7h0M238.2,327.1h0M209.7,323.6h0M228.8,330.4h0M216.3,335.1h0M216.9,329.4h0M234.0,331.8h0M212.1,326.5h0M230.9,323.7h0M212.6,330.0h0M217.2,326.4h0M234.8,318.5h0M226.9,322.8h0M228.5,328.8h0M235.8,324.4h0M231.2,331.3h0M210.0,325.5h0M213.7,320.9h0M224.3,325.0h0M221.6,337.5h0M228.2,326.8h0M221.8,328.4h0M227.7,329.0h0M230.0,322.8h0M239.7,325.0h0M225.2,320.2h0M240.0,326.2h0M220.7,330.1h0M237.9,328.3h0M216.2,323.2h0M243.7,328.1h0M213.0,321.4h0M209.1,328.3h0M223.5,322.3h0M234.9,330.4h0M206.7,325.1h0M210.6,323.1h0M240.7,332.9h0M224.4,325.3h0M227.5,329.4h0M244.6,326.4h0M243.0,322.8h0M215.6,326.2h0M228.0,329.4h0M217.5,324.1h0M241.4,324.4h0M215.6,331.0h0M212.5,324.9h0M241.0,332.1h0M215.1,330.6h0M244.7,331.0h0M242.9,330.0h0M238.0,331.8h0M226.1,327.8h0M238.1,326.0h0M232.0,323.2h0M230.5,327.4h0M211.0,320.4h0M216.2,332.3h0M221.8,331.2h0M230.5,329.5h0M223.3,324.3h0M244.1,331.5h0M238.5,323.9h0M226.5,326.1h0M206.3,321.6h0M218.3,327.6h0M211.8,320.9h0M224.8,325.1h0M230.9,325.4h0M234.4,332.4h0M231.6,322.5h0M244.7,327.1h0M233.7,327.9h0M243.6,329.7h0M208.6,322.1h0M232.6,318.8h0M230.4,322.3h0M224.1,328.5h0M205.7,325.2h0M223.5,329.8h0M238.1,331.7h0M218.0,335.6h0M227.1,329.0h0M204.9,328.7h0M221.4,326.1h0M225.1,327.0h0M221.1,330.8h0M211.8,328.9h0M244.3,324.5h0M240.0,335.7h0M243.0,325.7h0M240.7,329.3h0M209.2,327.5h0M211.8,336.1h0M214.6,328.1h0M214.7,327.3h0M239.5,330.6h0M234.2,329.1h0M224.9,327.6h0M229.3,329.3h0M209.8,327.1h0M208.0,328.7h0M208.3,326.6h0M231.0,326.9h0M241.4,330.0h0M227.3,329.2h0M212.9,333.1h0M217.2,329.0h0M224.3,325.6h0M213.9,325.2h0M238.2,337.2h0M229.6,322.8h0M233.4,328.9h0M223.1,329.4h0M212.8,324.0h0M207.9,325.7h0M213.4,324.2h0M218.0,332.7h0M217.0,334.4h0M205.3,326.4h0M237.6,333.9h0M225.7,328.6h0M209.0,331.5h0M232.8,336.1h0M218.4,331.8h0M207.0,332.0h0M227.7,328.7h0M244.3,324.3h0M239.7,321.0h0M222.0,330.2h0M242.5,332.3h0M233.3,324.0h0M215.5,331.5h0M214.9,326.9h0M214.2,324.2h0M229.1,329.3h0M219.7,330.6h0M209.6,323.4h0M226.7,328.8h0M218.3,333.1h0M228.3,336.5h0M242.4,331.1h0M208.0,326.7h0M232.7,326.3h0M209.3,319.5h0M210.0,323.6h0M244.5,321.6h0M227.6,329.2h0M229.4,331.9h0M232.1,331.9h0M208.8,323.3h0M207.0,330.8h0M222.7,327.3h0M218.4,331.4h0M226.5,325.7h0M220.8,327.5h0M244.5,325.5h0M239.7,329.2h0M240.0,327.1h0M210.9,327.2h0M229.5,324.7h0M238.4,326.0h0M206.8,329.2h0M215.6,327.3h0M222.3,324.2h0M236.0,325.8h0M212.5,325.6h0M209.2,330.3h0M212.6,327.9h0M234.9,328.7h0M243.2,325.3h0M213.9,328.5h0M228.0,329.5h0M210.6,336.4h0M231.5,334.8h0M204.9,330.8h0M242.7,320.5h0M219.9,331.0h0M226.7,327.5h0M208.4,331.9h0M239.4,325.8h0M216.3,330.0h0M207.4,333.8h0M217.5,330.4h0M220.6,325.9h0M206.5,322.2h0M213.7,329.0h0M212.5,330.4h0M234.1,331.9h0M234.5,324.6h0M238.0,327.0h0M216.3,323.3h0M227.1,332.0h0M217.3,334.3h0M212.0,332.8h0M235.8,324.2h0M216.6,331.3h0M224.7,332.8h0M234.5,329.1h0M232.0,323.4h0M207.7,329.2h0M212.0,331.7h0M223.6,335.2h0M225.2,322.2h0M238.8,329.3h0M227.2,329.4h0M238.1,321.1h0M231.7,323.6h0M236.5,328.6h0M239.7,328.9h0M236.6,326.2h0M233.3,323.1h0M221.7,328.4h0M204.7,322.6h0M244.7,329.3h0M244.0,332.2h0M226.7,330.1h0M208.0,331.1h0M236.3,335.9h0M233.9,322.5h0M228.3,334.9h0M218.1,320.4h0M220.7,330.7h0M232.0,330.4h0M227.1,320.0h0M214.8,318.6h0M233.4,327.6h0M219.4,333.2h0M236.2,328.9h0M210.6,333.0h0M240.4,323.8h0M243.1,330.1h0M208.5,328.9h0M238.1,328.8h0M218.9,326.4h0M238.0,328.8h0M230.5,324.5h0M241.3,329.4h0M207.9,322.3h0M218.9,332.8h0M220.5,328.7h0M206.3,331.3h0M241.0,332.4h0M226.4,322.1h0M240.3,330.1h0M220.5,325.1h0M205.8,329.6h0M216.9,323.3h0M225.0,326.4h0M225.8,324.5h0M243.3,330.6h0M241.0,323.2h0M218.9,323.9h0M234.4,328.3h0M223.3,333.7h0M209.3,324.7h0M213.7,330.8h0M232.0,322.8h0M222.6,330.7h0M219.8,328.1h0M220.1,330.0h0M232.5,328.5h0M229.5,331.4h0M227.4,332.1h0M228.8,327.3h0M228.4,322.8h0M221.3,319.7h0M218.4,327.0h0M234.1,328.9h0M206.5,328.2h0M215.5,327.9h0M244.2,331.6h0M207.1,328.1h0M231.3,330.1h0M230.3,325.6h0M229.7,322.3h0M235.7,322.8h0M206.6,323.1h0M233.6,326.6h0M212.7,328.0h0M231.4,331.4h0M224.3,338.3h0M233.5,327.3h0M210.2,334.6h0M223.9,320.5h0M244.1,328.2h0M224.8,333.4h0M223.6,320.9h0M221.9,331.2h0M225.8,324.2h0M207.8,326.4h0M228.8,328.7h0M235.4,326.8h0M211.4,329.1h0M215.1,326.8h0M225.7,326.8h0M235.8,324.8h0M216.0,325.5h0M227.2,337.7h0M211.8,330.0h0M218.9,331.1h0M230.9,331.6h0M240.3,326.8h0M236.8,335.7h0M235.8,329.9h0M236.0,336.0h0M224.5,326.3h0M225.6,329.0h0M206.1,328.4h0M218.0,317.4h0M233.5,327.9h0M217.0,322.4h0M227.2,326.2h0M228.5,322.9h0M239.7,323.8h0M225.8,323.2h0M217.5,329.8h0M213.5,321.2h0M224.6,325.8h0M233.9,329.2h0M211.3,326.6h0M226.9,330.4h0M227.1,322.0h0M215.9,322.1h0M233.2,328.7h0M215.3,328.2h0M235.3,327.5h0M213.5,323.1h0M223.2,322.3h0M242.5,332.0h0M238.4,330.9h0M231.7,327.1h0M205.2,330.5h0M206.3,325.9h0M212.8,326.1h0M242.0,336.0h0M219.6,322.6h0M223.9,325.4h0M214.1,326.7h0M215.4,331.1h0M234.8,325.8h0M210.2,324.7h0M234.4,323.5h0M232.9,327.3h0M234.2,334.4h0M237.1,328.5h0M215.6,335.3h0M208.7,333.8h0M213.6,322.5h0M212.6,322.2h0M223.4,327.5h0M239.1,336.2h0M230.9,333.8h0M244.4,330.5h0M205.6,330.6h0M231.4,335.7h0M210.0,324.8h0M233.1,327.6h0M212.7,328.5h0M208.3,322.8h0M216.1,318.8h0M210.9,325.4h0M233.9,329.5h0M221.3,332.9h0M207.9,325.9h0M225.1,331.1h0M206.5,323.1h0M219.9,322.4h0M213.2,330.8h0M208.9,331.2h0M206.5,324.3h0M235.7,321.3h0M241.9,333.5h0M211.8,323.3h0M235.5,328.4h0M214.1,323.3h0M216.5,321.1h0M204.7,327.8h0M216.6,321.6h0M226.3,334.0h0M234.4,330.1h0M239.8,330.0h0M213.9,329.1h0M209.0,324.2h0M225.6,329.2h0M224.0,329.7h0M226.3,330.5h0M212.8,326.9h0M206.2,325.4h0M220.9,321.1h0M221.4,323.1h0M241.9,327.8h0M235.3,334.6h0M213.6,329.4h0M232.2,325.4h0M236.7,327.7h0M236.2,325.9h0M217.6,321.5h0M232.5,334.0h0M214.0,327.2h0M211.6,328.8h0M211.0,331.3h0M212.5,326.1h0M230.1,327.4h0M231.5,323.3h0M224.1,325.7h0M229.9,326.2h0M233.7,327.6h0M235.0,326.3h0M222.3,328.4h0M222.8,324.6h0M222.5,326.5h0M223.3,325.5h0M225.2,324.0h0M212.4,330.2h0M218.9,317.9h0M210.9,325.3h0M239.1,325.3h0M242.1,334.5h0M225.6,319.5h0M233.9,328.4h0M240.0,323.7h0M242.6,330.4h0M229.7,332.1h0M212.9,331.6h0M244.0,321.1h0M238.4,325.8h0M221.8,328.0h0M206.0,332.5h0M214.2,326.1h0M231.7,328.0h0M240.9,326.1h0M211.3,327.9h0M217.5,328.6h0M211.8,325.7h0M217.6,329.9h0M234.7,326.4h0M209.2,325.6h0M220.8,327.9h0M224.6,333.5h0M241.7,325.5h0M237.5,325.5h0M210.9,331.5h0M215.3,323.9h0M217.2,326.3h0M244.6,328.5h0M213.7,326.1h0M211.7,322.3h0M220.9,338.2h0M221.5,326.5h0M235.2,318.4h0M232.1,328.5h0M207.4,326.9h0M204.9,321.7h0M204.7,325.1h0M229.2,323.7h0M205.3,328.8h0M234.5,327.6h0M239.2,323.5h0M234.7,319.7h0M214.0,328.1h0M238.0,322.7h0M231.2,324.1h0M206.8,329.4h0M239.3,326.2h0M237.4,321.6h0M216.7,330.2h0M207.5,332.1h0M223.3,327.5h0M222.5,327.9h0M223.3,322.3h0M216.9,329.7h0M238.6,320.4h0M226.5,331.0h0M234.0,324.9h0M211.8,332.1h0M227.4,320.4h0M230.2,318.0h0M233.2,331.5h0M242.5,330.0h0M224.8,334.5h0M232.0,328.3h0M213.7,324.4h0M211.7,329.6h0M242.7,330.2h0M210.2,329.2h0M216.2,327.4h0M232.7,329.2h0M221.1,334.3h0M217.1,330.0h0M232.4,323.3h0M222.3,327.5h0M219.8,324.3h0M225.1,333.1h0M213.1,326.7h0M209.3,326.4h0M237.6,327.9h0M216.6,325.6h0M234.2,329.4h0M227.3,319.4h0M212.2,327.8h0M229.7,326.8h0M230.8,322.7h0M212.7,326.9h0M219.6,323.3h0M235.4,327.0h0M230.8,324.7h0M223.7,321.6h0M219.8,325.1h0M222.5,334.5h0M237.5,322.3h0M220.0,336.0h0M205.7,329.7h0M241.2,324.6h0M205.4,324.8h0M217.5,327.4h0M213.0,328.1h0M232.8,334.9h0M241.8,330.6h0M207.5,333.7h0M228.7,321.2h0M242.8,321.1h0M224.9,329.1h0M221.7,334.7h0M210.5,326.6h0M213.5,329.6h0M236.2,321.4h0M225.4,335.7h0M236.2,325.0h0M219.8,317.8h0M236.9,326.4h0M204.8,325.7h0M210.9,333.2h0M225.1,331.3h0M240.1,331.4h0M215.3,329.2h0M236.9,328.5h0M238.2,334.4h0M214.9,326.7h0M229.9,333.3h0M229.2,318.1h0M205.5,322.9h0M243.7,333.7h0M216.5,327.8h0M235.1,334.9h0M207.7,321.7h0M223.5,319.6h0M207.6,327.0h0M217.0,328.2h0M223.3,326.6h0M217.9,318.5h0M242.9,324.2h0M232.0,319.3h0M242.0,323.8h0M243.7,329.1h0M210.6,320.8h0M239.1,331.6h0M207.0,330.2h0M230.3,328.0h0M206.7,329.7h0M229.9,332.6h0M214.4,320.0h0M216.3,325.2h0M206.2,325.1h0M216.8,325.9h0M229.0,323.5h0M215.9,324.1h0M216.7,327.1h0M240.2,323.2h0M217.7,329.2h0M242.4,330.4h0M238.7,326.6h0M224.4,327.2h0M234.2,324.3h0M212.7,333.4h0M233.9,330.2h0M223.0,318.8h0M222.6,325.9h0M241.7,325.7h0M233.5,328.1h0M225.0,325.4h0M211.3,324.7h0M239.8,324.1h0M226.3,321.3h0M237.8,328.8h0M244.6,331.7h0M243.5,322.3h0M242.3,327.9h0M236.9,325.4h0M230.4,322.8h0M225.3,332.0h0M216.8,326.7h0M229.0,328.3h0M215.0,317.7h0M233.9,324.1h0M227.8,325.1h0M229.3,324.0h0M230.4,326.9h0M232.6,321.0h0M213.0,326.8h0M218.8,324.3h0M214.1,330.9h0M225.7,331.2h0M244.3,324.7h0M235.2,321.6h0M238.5,333.0h0M208.8,329.7h0M233.0,331.7h0M210.1,326.9h0M237.8,317.4h0M213.2,321.3h0M213.6,330.6h0M238.7,325.3h0M219.2,327.1h0M230.7,317.7h0M212.7,322.7h0M242.7,323.7h0M210.3,322.1h0M226.5,333.3h0M221.3,325.8h0M225.0,329.3h0M221.1,330.2h0M212.6,330.7h0M231.6,324.9h0M212.4,330.0h0M222.8,325.6h0M215.7,322.2h0M215.6,333.4h0M216.1,319.1h0M228.4,329.6h0M226.2,326.0h0M206.8,326.1h0M241.3,322.4h0M221.4,336.5h0M238.8,323.7h0M220.3,324.9h0M241.3,326.2h0M218.2,325.9h0M209.2,327.3h0M210.0,327.0h0M235.3,318.7h0M211.8,324.3h0M212.6,328.1h0M233.5,332.0h0M238.9,330.9h0M236.6,332.9h0M233.8,321.7h0M211.8,328.6h0M227.2,330.1h0M235.0,322.4h0M234.3,327.5h0M237.2,323.7h0M214.4,329.3h0M219.8,334.4h0M232.0,328.7h0M236.4,328.1h0M217.6,320.3h0M238.9,323.7h0M212.1,328.3h0M237.4,326.3h0M224.7,322.6h0M220.6,322.5h0M231.0,331.3h0M235.1,328.9h0M217.5,330.3h0M234.9,329.3h0M230.2,327.7h0M209.0,325.1h0M219.8,326.2h0M221.1,327.0h0M242.2,327.9h0M234.5,325.5h0M210.3,322.6h0M225.4,324.3h0M236.6,322.4h0M243.8,324.4h0M210.8,336.9h0M242.3,323.5h0M225.0,320.5h0M211.2,329.6h0M230.9,323.1h0M221.6,333.6h0M241.0,326.4h0M223.9,321.3h0M242.4,329.7h0M238.1,321.9h0M212.2,330.5h0M230.5,324.9h0M233.1,333.3h0M233.6,330.6h0M207.9,334.9h0M226.1,335.1h0M223.3,328.1h0M228.1,334.9h0M231.5,334.3h0M206.1,324.2h0M232.4,320.9h0M228.4,331.0h0M206.3,335.2h0M226.8,329.7h0M228.4,321.8h0M244.8,327.2h0M232.3,332.0h0M217.9,329.0h0M207.1,321.3h0M240.2,325.7h0M235.5,329.2h0M238.1,322.4h0M208.5,327.2h0M229.4,323.0h0M218.5,325.4h0M220.3,325.7h0M220.5,332.8h0M239.7,324.8h0M231.3,331.1h0M216.9,331.4h0M239.0,329.5h0M216.9,326.0h0M217.0,332.7h0M240.8,325.2h0M205.7,325.9h0M222.0,330.8h0M234.1,330.5h0M212.5,324.4h0M226.1,328.1h0M207.7,327.3h0M209.1,330.8h0M229.2,332.6h0M240.8,326.0h0M206.9,335.1h0M208.5,328.2h0M228.8,327.0h0M219.8,322.1h0M209.4,329.2h0M230.3,332.3h0M233.3,317.7h0M229.4,332.1h0M231.8,328.2h0M234.1,334.7h0M210.8,322.7h0M244.4,327.0h0M207.6,330.0h0M230.4,322.0h0M222.6,334.7h0M208.6,328.8h0M238.9,329.4h0M224.4,331.8h0M228.9,338.3h0M232.7,325.5h0M225.6,335.5h0M229.3,327.0h0M219.8,334.3h0M224.7,338.8h0M214.9,321.4h0M226.0,329.6h0M217.3,321.6h0M208.3,321.6h0M234.6,329.1h0M213.8,322.4h0M225.9,330.0h0M214.9,324.3h0M224.0,329.7h0M210.5,322.3h0M210.8,324.5h0M215.5,329.6h0M235.4,326.5h0M241.2,329.4h0M236.0,328.1h0M234.7,323.6h0M262.4,332.9h0M265.7,332.9h0M263.6,319.3h0M265.8,325.3h0M264.7,330.7h0M265.3,317.6h0M262.8,323.8h0M261.2,331.7h0M263.9,326.4h0M263.5,325.7h0M265.1,330.2h0M263.6,334.0h0M263.3,325.7h0M261.4,326.4h0M264.2,319.7h0M266.1,322.7h0M262.5,333.5h0M265.6,327.4h0M263.5,326.2h0M263.0,333.4h0M261.5,321.2h0M264.4,324.0h0M263.5,324.9h0M261.8,326.1h0M262.8,332.9h0M261.9,329.0h0M261.9,325.8h0M262.4,332.4h0M265.4,327.2h0M264.5,330.2h0M263.6,335.4h0M261.5,323.9h0M263.7,332.6h0M266.3,327.8h0M261.2,326.0h0M265.2,326.6h0M266.1,324.9h0M263.5,319.5h0M262.4,323.0h0M261.7,334.1h0M262.9,321.8h0M263.3,315.1h0M265.4,329.8h0M265.3,326.1h0M266.0,324.6h0M265.6,335.5h0M261.3,327.0h0M265.5,323.9h0M264.7,328.6h0M263.4,330.6h0M265.1,334.9h0M263.7,330.0h0M262.5,327.4h0M264.8,320.7h0M265.8,327.1h0M264.3,324.0h0M264.8,317.2h0M266.0,323.6h0M261.6,330.9h0M264.8,329.4h0M263.7,315.5h0M264.3,328.3h0M262.9,317.2h0M264.9,332.7h0M261.4,326.4h0M263.9,318.2h0M262.4,333.9h0M264.6,320.4h0M264.7,315.7h0M263.4,331.8h0M263.1,319.7h0M261.5,326.8h0M264.3,315.0h0M265.2,321.7h0M262.5,336.0h0M262.6,327.8h0M262.0,329.6h0M265.6,336.2h0M264.4,322.1h0M263.1,326.3h0M266.1,322.2h0M263.3,321.3h0M263.9,320.2h0M263.3,329.6h0M264.6,324.5h0M262.0,324.5h0M263.5,318.2h0M262.1,320.9h0M263.9,325.9h0M262.4,326.5h0M261.3,324.7h0M261.9,322.3h0M264.8,323.7h0M261.7,326.4h0M265.8,330.4h0M264.3,327.3h0M263.9,330.6h0M262.9,336.1h0M265.0,331.5h0M264.0,320.5h0M265.9,328.1h0M266.3,327.2h0M263.3,322.8h0M261.3,322.7h0M262.5,328.7h0M264.9,326.0h0M262.1,325.6h0M261.3,326.2h0M263.3,321.2h0M264.9,323.8h0M261.9,330.9h0M263.1,331.6h0M265.4,320.4h0M264.9,324.0h0M261.5,333.7h0M263.8,332.3h0M261.5,326.1h0M261.3,326.8h0M262.9,338.0h0M261.5,323.4h0M403.9,327.8h0M405.9,317.4h0M405.9,338.1h0M406.7,331.6h0M406.2,325.9h0M405.6,326.0h0M409.1,329.2h0M404.9,322.0h0M408.5,319.5h0M410.1,318.8h0M404.5,322.2h0M409.0,330.4h0M407.7,323.7h0M406.9,332.5h0M408.1,339.2h0M403.6,325.7h0M403.3,331.6h0M413.7,327.9h0M404.2,338.3h0M410.0,327.0h0M406.7,320.4h0M405.8,335.3h0M412.2,338.7h0M413.3,313.3h0M412.6,324.7h0M408.6,333.6h0M403.9,331.0h0M412.8,318.5h0M408.4,328.6h0M409.2,327.6h0M406.2,342.4h0M406.1,322.9h0M408.3,323.1h0M406.7,336.1h0M403.1,334.1h0M408.0,318.4h0M403.8,331.7h0M405.4,332.9h0M409.9,334.1h0M404.7,322.3h0M412.6,325.6h0M403.9,330.7h0M406.6,321.5h0M402.9,332.5h0M412.6,335.4h0M413.6,320.4h0M403.2,334.2h0M405.1,330.0h0M409.1,324.7h0M403.6,341.5h0M405.3,317.9h0M405.2,333.9h0M404.3,329.4h0M406.7,328.0h0M403.4,328.8h0M405.2,317.9h0M408.0,323.2h0M403.0,327.0h0M407.5,332.2h0M405.7,315.2h0M408.0,332.8h0M410.7,331.5h0M404.1,324.4h0M410.3,332.5h0M410.2,337.5h0M402.8,317.5h0M409.2,330.5h0M411.2,322.7h0M405.1,329.5h0M404.2,327.7h0M405.4,326.6h0M404.6,321.5h0M403.9,334.5h0M411.6,333.9h0M405.5,320.5h0M405.0,325.6h0M413.6,314.0h0M404.3,324.5h0M412.6,325.7h0M410.8,334.8h0M404.6,339.3h0M413.4,325.3h0M404.4,329.8h0M408.9,337.8h0M407.4,335.4h0M406.9,319.5h0M406.4,316.2h0M407.4,331.8h0M413.1,323.3h0M410.3,334.2h0M413.0,325.4h0M406.2,327.5h0M411.1,319.6h0M411.9,336.2h0M405.0,330.1h0M409.3,323.2h0M402.7,324.5h0M412.2,321.2h0M409.2,330.9h0M411.3,314.0h0M407.2,311.5h0M404.2,332.2h0M412.4,319.6h0M411.2,336.2h0M413.1,329.6h0M410.4,331.9h0M411.6,320.8h0M408.2,336.7h0M403.8,339.9h0M413.7,332.3h0M409.9,320.7h0M405.3,330.3h0M409.9,323.7h0M402.4,324.2h0M406.8,328.6h0M406.8,334.3h0M410.8,313.7h0M407.0,324.3h0M408.4,323.6h0M407.6,316.8h0M403.4,333.3h0M407.6,314.2h0M408.7,330.3h0M402.6,335.5h0M403.0,327.3h0M408.4,330.6h0M405.6,336.8h0M411.1,331.5h0M408.7,332.4h0M412.7,328.3h0M410.0,318.5h0M402.6,325.4h0M408.5,325.8h0M404.6,328.3h0M410.1,322.3h0M404.4,331.9h0M404.9,334.6h0M407.2,323.2h0M404.4,324.9h0M412.7,332.1h0M412.9,325.6h0M403.6,327.9h0M409.6,326.1h0M405.6,323.0h0M408.5,332.2h0M406.8,329.9h0M403.3,325.2h0M412.0,323.1h0M403.4,326.7h0M406.7,325.5h0M412.6,337.6h0M402.9,325.8h0M404.5,321.9h0M412.1,330.7h0M409.3,329.5h0M404.8,326.0h0M404.5,338.2h0M411.6,339.5h0M406.5,324.9h0M402.5,333.5h0M406.4,313.7h0M409.2,340.3h0M409.9,334.6h0M404.9,328.8h0M407.0,331.2h0M411.3,331.1h0M405.8,327.2h0M404.9,317.8h0M409.4,334.9h0M404.9,335.9h0M413.0,330.9h0M404.9,326.5h0M405.1,329.9h0M413.4,332.6h0M404.1,327.1h0M403.9,326.6h0M409.9,326.6h0M407.8,323.2h0M404.4,333.1h0M409.5,324.2h0M412.2,334.3h0M412.9,326.1h0M411.8,316.7h0M403.6,339.0h0M408.0,340.7h0M407.5,340.5h0M410.3,327.2h0M410.0,328.6h0M406.1,334.0h0M409.1,332.2h0M403.5,329.5h0M408.1,345.8h0M413.1,334.8h0M411.8,330.7h0M410.2,324.1h0M407.7,336.5h0M409.1,332.0h0M408.8,331.8h0M411.1,339.1h0M410.2,335.2h0M410.8,327.9h0M413.1,332.9h0M406.6,328.3h0M407.1,322.6h0M403.7,327.9h0M406.3,329.6h0M406.5,329.7h0M412.7,334.2h0M412.7,332.0h0M412.2,330.5h0M407.8,338.9h0M402.8,332.4h0M410.4,323.3h0M406.8,334.3h0M405.2,317.9h0M407.7,341.6h0M408.3,339.5h0M409.9,333.6h0M413.6,331.9h0M407.9,324.5h0M413.6,338.2h0M406.2,340.4h0M412.7,334.0h0M406.3,334.9h0M413.5,318.8h0M407.0,327.7h0M404.0,337.3h0M411.7,318.4h0M408.1,338.7h0M408.5,314.5h0M411.9,318.6h0M406.3,334.0h0M406.0,331.8h0M403.6,329.0h0M412.7,320.7h0M404.4,332.8h0M410.0,334.7h0M404.6,321.6h0M406.9,339.6h0M409.9,318.1h0M407.7,323.4h0M406.7,323.7h0M409.3,329.7h0M406.8,335.8h0M410.7,333.4h0M407.0,327.1h0M408.0,343.6h0M403.3,328.1h0M406.0,323.7h0M408.0,327.1h0M411.5,331.5h0M409.1,325.6h0M403.6,338.2h0M402.5,324.5h0M404.4,341.2h0M413.7,333.7h0M406.9,325.7h0M405.5,340.3h0M407.9,337.0h0M407.1,325.5h0M405.0,333.7h0M403.6,323.9h0M402.4,325.7h0M412.5,328.3h0M410.9,339.9h0M406.8,330.4h0M404.5,332.3h0M408.9,340.9h0M407.8,322.6h0M405.0,320.3h0M404.8,331.3h0M405.6,313.2h0M403.4,340.1h0M405.8,346.7h0M406.6,330.5h0M407.5,338.9h0M402.5,324.9h0M405.4,338.4h0M403.4,324.6h0M412.6,334.6h0M404.8,328.6h0M404.8,313.6h0M403.2,326.7h0M410.7,334.7h0M403.9,334.9h0M407.5,320.6h0M403.6,331.5h0M409.8,325.2h0M410.2,326.7h0M411.7,336.0h0M409.2,332.6h0M405.9,336.5h0M405.2,318.9h0M411.3,322.7h0M402.6,339.2h0M411.6,326.9h0M402.6,328.6h0M402.9,329.6h0M408.5,329.5h0M407.2,326.5h0M407.4,327.6h0M409.9,335.3h0M406.3,335.0h0M410.4,327.4h0M406.4,334.7h0M410.7,326.8h0M402.4,326.4h0M407.8,323.7h0M412.9,344.5h0M406.5,324.8h0M411.7,329.2h0M403.3,325.8h0M407.9,335.1h0M404.1,318.5h0M408.4,332.7h0M412.4,329.6h0M410.6,343.4h0M411.4,333.9h0M407.9,326.2h0M403.6,317.3h0M434.7,323.8h0M433.6,323.4h0M436.4,325.3h0M437.0,329.5h0M447.0,326.3h0M436.2,323.6h0M441.8,326.6h0M436.0,334.4h0M444.7,328.6h0M435.3,332.1h0M449.7,324.8h0M439.9,326.2h0M448.4,329.6h0M442.0,332.9h0M436.4,324.6h0M437.8,324.1h0M438.1,329.0h0M439.4,323.9h0M435.7,328.1h0M437.4,330.9h0M437.1,328.3h0M436.2,327.9h0M443.5,329.6h0M449.1,328.3h0M440.8,325.8h0M440.6,332.3h0M442.8,325.2h0M440.2,327.6h0M436.5,326.6h0M443.8,327.8h0M440.7,325.8h0M438.8,330.3h0M434.3,325.9h0M440.8,333.4h0M437.4,326.2h0M437.8,327.0h0M438.8,326.9h0M447.9,329.2h0M442.1,326.8h0M444.2,324.8h0M443.7,329.2h0M439.4,330.1h0M446.5,332.9h0M442.3,325.6h0M449.7,329.5h0M449.5,329.3h0M437.4,334.6h0M446.8,324.1h0M440.6,333.4h0M437.5,330.7h0M434.3,327.5h0M440.2,328.2h0M438.1,323.2h0M439.7,327.4h0M445.5,327.6h0M440.5,329.0h0M447.1,328.5h0M434.8,330.1h0M448.3,326.9h0M439.7,330.4h0M445.6,329.2h0M437.0,325.1h0M445.0,330.3h0M443.1,330.1h0M439.1,324.1h0M443.6,324.1h0M436.0,324.8h0M447.6,324.4h0M444.4,322.4h0M445.7,322.7h0M440.1,324.6h0M440.6,324.0h0M438.7,330.5h0M435.8,326.4h0M445.8,328.1h0M444.7,332.4h0M445.5,327.4h0M444.6,327.8h0M439.2,331.7h0M445.8,327.3h0M438.5,329.2h0M443.0,331.5h0M446.5,327.8h0M440.3,330.9h0M447.2,327.4h0M434.4,327.4h0M448.2,327.8h0M437.4,333.7h0M441.9,320.5h0M447.5,321.3h0M465.7,328.3h0M459.1,328.1h0M471.1,326.9h0M457.7,327.6h0M455.0,322.9h0M468.4,329.0h0M457.2,321.3h0M462.5,328.0h0M459.7,326.6h0M467.5,329.5h0M453.3,329.1h0M453.9,326.3h0M452.0,325.6h0M465.5,326.6h0M461.6,328.9h0M459.2,327.0h0M450.2,327.4h0M454.8,324.9h0M456.0,329.4h0M466.7,330.9h0M458.2,325.4h0M465.4,323.1h0M458.3,328.4h0M457.4,325.8h0M464.9,329.0h0M450.0,328.4h0M454.3,324.3h0M470.2,324.8h0M470.4,327.3h0M453.2,328.8h0M455.3,325.8h0M457.7,330.4h0M461.6,326.9h0M458.4,327.1h0M457.5,329.4h0M470.8,325.2h0M451.5,328.8h0M450.2,323.4h0M450.9,325.8h0M462.9,324.5h0M455.9,324.1h0M467.1,325.4h0M450.5,324.9h0M455.6,323.8h0M463.5,323.4h0M455.9,327.4h0M450.4,327.1h0M465.7,327.7h0M459.1,324.5h0M468.7,324.5h0M465.8,327.3h0M462.3,329.3h0M471.6,329.0h0M455.3,328.0h0M461.0,322.7h0M454.7,329.3h0M456.2,323.7h0M453.7,325.5h0M456.0,327.4h0M463.8,323.6h0M455.3,326.4h0M458.4,323.0h0M467.8,321.2h0M466.5,327.2h0M467.5,326.8h0M462.2,326.3h0M462.8,327.5h0M470.8,324.9h0M458.0,330.3h0M467.8,328.9h0M454.5,323.9h0M461.8,325.3h0M452.8,325.7h0M469.9,329.2h0M457.6,327.7h0M455.1,328.1h0M462.9,330.5h0M459.6,323.6h0M463.5,325.1h0M470.5,324.8h0M457.8,329.9h0M458.6,323.7h0M461.3,322.6h0M467.9,325.4h0M458.7,324.5h0M460.0,325.8h0M466.2,327.1h0M466.1,327.9h0M466.2,327.5h0M471.0,330.4h0M454.2,323.3h0M465.3,325.7h0M452.6,325.3h0M459.0,325.5h0M472.3,324.8h0M472.9,325.1h0M454.1,328.2h0M458.7,326.8h0M463.3,323.3h0M469.1,326.3h0M493.9,328.2h0M520.7,324.7h0M513.4,326.7h0M502.1,321.3h0M505.7,326.4h0M517.1,325.1h0M494.8,323.8h0M491.4,326.1h0M511.5,329.8h0M522.2,330.0h0M519.1,327.6h0M509.0,327.5h0M505.7,324.9h0M501.4,328.6h0M496.5,326.1h0M500.4,331.1h0M522.1,323.6h0M519.4,330.5h0M491.0,332.7h0M509.8,328.1h0M496.8,326.8h0M498.2,326.2h0M511.3,326.6h0M497.8,323.2h0M511.5,328.1h0M513.2,327.9h0M491.7,330.2h0M511.2,324.9h0M518.7,326.1h0M500.8,326.0h0M517.5,330.8h0M506.9,325.8h0M515.9,324.5h0M513.2,326.5h0M507.0,326.2h0M519.9,326.5h0M490.9,329.2h0M525.9,323.7h0M502.2,325.9h0M505.4,323.6h0M511.9,326.9h0M496.3,328.9h0M518.1,325.8h0M505.4,324.4h0M499.7,322.9h0M507.9,327.5h0M517.7,333.4h0M494.8,330.1h0M495.3,330.2h0M508.5,328.4h0M524.3,327.3h0M524.0,325.6h0M493.1,329.0h0M506.9,328.9h0M526.4,328.5h0M518.0,327.4h0M492.4,328.5h0M511.6,323.1h0M505.9,329.7h0M502.7,330.0h0M516.9,326.6h0M501.2,331.0h0M517.2,323.8h0M523.2,330.4h0M502.3,328.2h0M524.3,323.2h0M505.8,324.9h0M511.5,321.4h0M493.1,326.1h0M497.2,329.7h0M519.5,328.9h0M501.6,325.9h0M496.8,327.1h0M514.1,325.7h0M495.6,330.0h0M518.7,324.1h0M513.8,330.6h0M497.6,326.2h0M515.0,326.0h0M491.1,327.3h0M502.1,329.6h0M503.6,327.8h0M502.2,327.2h0M526.9,326.6h0M524.5,326.6h0M497.2,328.0h0M524.4,327.1h0M519.4,325.1h0M500.7,324.1h0M526.1,324.1h0M509.0,322.8h0M527.5,333.0h0M496.8,330.5h0M493.3,328.1h0M514.6,322.0h0M493.4,329.2h0M497.8,325.8h0M505.9,327.3h0M507.6,325.5h0M491.2,323.6h0M505.4,325.2h0M527.7,331.7h0M521.2,326.1h0M504.6,323.2h0M518.8,330.5h0M490.0,326.6h0M493.6,327.5h0M497.0,327.4h0M500.5,327.7h0M497.8,327.9h0M504.8,327.2h0M519.1,327.7h0M521.9,322.6h0M499.5,327.4h0M499.6,322.1h0M496.4,328.4h0M498.4,325.2h0M491.2,322.6h0M508.9,327.4h0M508.6,321.9h0M494.9,322.9h0M492.3,325.3h0M512.3,324.5h0M502.5,331.3h0M522.2,322.1h0M501.3,324.0h0M508.8,326.0h0M510.0,325.7h0M506.0,324.2h0M505.8,322.0h0M502.4,328.9h0M502.9,326.0h0M512.9,326.7h0M505.9,324.6h0M526.1,333.1h0M491.6,322.4h0M502.5,321.8h0M503.7,326.3h0M494.7,327.0h0M524.2,328.1h0M508.4,327.8h0M527.2,328.0h0M509.3,331.8h0M506.1,330.4h0M503.0,323.6h0M518.4,321.0h0M496.9,330.5h0M519.7,331.8h0M490.9,321.2h0M513.0,324.7h0M498.2,330.8h0M503.6,323.7h0M496.8,329.1h0M504.5,326.2h0M504.2,322.7h0M491.7,327.2h0M510.7,328.7h0M497.3,324.8h0M497.4,323.7h0M498.6,326.2h0M506.3,328.0h0M506.0,324.1h0M525.0,326.1h0M505.1,329.7h0M508.9,328.2h0M505.5,325.9h0M512.7,326.1h0M490.5,322.3h0M498.6,329.1h0M525.5,328.3h0M569.1,324.3h0M567.3,327.2h0M551.6,329.3h0M556.6,331.7h0M551.2,329.4h0M558.9,331.3h0M562.8,330.6h0M572.9,328.4h0M565.2,326.1h0M560.7,327.2h0M563.6,331.5h0M566.3,330.7h0M564.0,327.4h0M573.8,325.8h0M562.3,326.6h0M565.8,323.6h0M563.4,329.7h0M552.1,330.9h0M549.8,327.7h0M558.6,326.0h0M555.7,328.9h0M553.2,328.7h0M566.3,329.8h0M565.8,328.5h0M552.4,323.6h0M552.2,331.6h0M551.7,327.3h0M568.1,328.6h0M566.0,328.7h0M558.3,323.6h0M554.8,324.6h0M553.9,324.5h0M547.1,324.1h0M557.7,327.1h0M548.5,324.6h0M564.9,328.2h0M565.1,321.7h0M560.8,323.4h0M562.7,325.0h0M572.4,326.5h0M547.5,324.2h0M555.0,332.0h0M554.0,330.7h0M547.7,332.1h0M572.2,330.2h0M573.3,325.9h0M556.3,326.9h0M559.7,326.2h0M549.7,324.7h0M556.9,331.2h0M550.5,326.8h0M569.8,323.2h0M550.4,326.9h0M550.9,324.3h0M554.4,327.1h0M559.6,326.3h0M554.5,321.6h0M549.7,323.4h0M557.7,324.2h0M546.9,328.4h0M571.5,327.3h0M556.8,327.9h0M569.4,323.3h0M548.5,329.1h0M551.1,324.6h0M574.3,329.8h0M563.6,322.4h0M573.1,329.3h0M565.3,328.0h0M554.1,324.5h0M565.4,328.3h0M547.7,330.1h0M565.6,330.2h0M559.4,325.4h0M547.0,327.4h0M566.4,330.4h0M548.5,323.6h0M561.3,329.0h0M557.0,320.6h0M567.2,325.6h0M560.1,324.8h0M562.8,327.0h0M562.3,332.6h0M560.2,325.2h0M571.7,326.8h0M547.8,325.7h0M548.1,323.8h0M568.6,328.4h0M549.5,328.3h0M571.5,325.1h0M560.6,328.8h0M554.6,325.9h0M556.4,329.3h0M546.7,328.7h0M558.4,321.2h0M549.1,320.3h0M556.3,328.6h0M553.6,328.0h0M546.8,325.6h0M563.5,323.9h0M560.1,329.8h0M552.1,325.1h0M572.9,324.1h0M550.8,329.8h0M569.3,330.0h0M549.6,323.6h0M573.5,327.2h0M552.6,329.1h0M554.2,329.4h0M555.6,325.6h0M548.1,324.2h0M556.6,324.6h0M572.1,322.7h0M546.7,326.4h0M572.8,323.8h0M551.9,329.3h0M561.4,327.9h0M552.5,323.1h0M569.7,328.8h0M571.3,325.0h0M569.5,325.3h0M571.5,323.1h0M565.5,330.0h0M559.1,326.0h0M562.0,322.2h0M547.9,324.8h0M570.1,325.9h0M548.2,330.6h0M555.8,328.6h0M552.5,325.0h0M551.5,332.7h0M561.1,324.7h0M555.0,325.3h0M548.2,323.2h0M552.0,328.7h0M557.7,326.4h0M558.7,323.8h0M567.3,326.8h0M552.0,321.0h0M557.2,326.5h0M547.1,330.1h0M551.7,329.3h0M555.8,323.6h0M554.1,324.1h0M568.3,327.8h0M568.3,327.7h0M555.5,322.3h0M557.4,328.3h0M556.3,327.6h0M572.5,323.2h0M104.7,326.8h0M101.6,330.9h0M110.0,332.6h0M97.6,330.8h0M128.2,320.4h0M112.6,335.6h0M106.1,334.3h0M96.1,325.9h0M94.2,329.0h0M98.4,325.9h0M99.8,323.6h0M93.8,322.3h0M124.8,330.2h0M93.7,332.6h0M121.7,322.2h0M107.6,332.4h0M106.2,332.3h0M120.6,324.8h0M129.0,331.8h0M111.3,323.1h0M130.4,317.2h0M124.4,331.7h0M129.0,331.2h0M96.9,327.7h0M124.6,331.0h0M93.0,323.2h0M165.4,321.4h0M154.8,316.8h0M160.3,335.3h0M174.5,327.9h0M166.6,336.3h0M169.4,334.0h0M149.9,323.0h0M179.0,331.7h0M175.7,324.6h0M156.4,334.4h0M172.6,317.1h0M181.8,323.9h0M155.8,319.1h0M178.1,330.9h0M162.0,336.2h0M176.0,326.8h0M182.0,324.0h0M160.9,321.8h0M185.6,327.4h0M152.2,317.1h0M178.7,320.8h0M187.2,318.2h0M162.5,324.4h0M179.9,321.4h0M175.1,324.2h0M157.3,336.2h0M221.8,320.3h0M236.0,327.0h0M208.2,326.9h0M242.3,322.4h0M231.3,330.1h0M238.5,325.8h0M206.1,327.9h0M208.5,336.4h0M216.5,324.8h0M207.1,331.4h0M216.2,325.0h0M237.0,319.3h0M218.3,320.5h0M210.1,332.9h0M214.7,329.0h0M218.2,319.4h0M234.7,331.2h0M243.7,336.0h0M222.4,331.1h0M235.6,331.6h0M218.5,325.6h0M236.6,327.6h0M219.3,330.1h0M216.1,335.7h0M225.2,333.6h0M221.1,320.4h0M464.8,323.5h0M454.5,330.8h0M464.3,320.0h0M458.5,327.9h0M443.2,327.0h0M447.9,322.4h0M445.7,326.0h0M458.3,330.3h0M435.2,323.9h0M438.2,318.9h0M490.8,322.4h0M518.2,321.9h0M520.7,328.4h0M495.5,327.4h0M517.2,325.4h0M519.4,328.6h0M517.1,331.1h0M506.2,324.5h0M517.8,329.2h0M512.4,333.1h0M517.5,319.1h0M507.8,329.1h0M548.1,325.8h0M564.5,333.2h0M560.0,329.8h0M557.7,328.3h0M551.4,333.8h0M551.7,324.9h0M560.8,328.2h0M547.8,323.5h0M560.2,328.3h0M558.0,334.6h0M92.0,312.0h0M92.7,314.0h0M108.2,309.8h0M114.5,309.2h0M121.3,310.5h0M104.0,313.5h0M131.4,318.0h0M99.0,344.7h0M91.3,340.5h0M97.7,343.0h0M102.6,347.0h0M104.0,344.0h0M113.0,338.5h0M120.0,338.0h0M132.8,334.2h0M132.8,319.4h0M154.8,313.6h0M161.0,313.6h0M168.0,313.6h0M182.0,312.0h0M189.0,310.0h0M147.0,321.5h0M152.0,341.0h0M155.5,341.0h0M164.6,341.5h0M172.6,342.0h0M187.8,343.5h0M182.0,338.8h0M219.0,305.2h0M227.0,306.6h0M233.3,309.5h0M211.2,314.0h0M245.0,315.5h0M216.5,309.5h0M222.0,310.0h0M224.5,309.5h0M230.0,310.0h0M236.0,311.5h0M213.5,311.0h0M209.3,340.5h0M219.0,338.0h0M225.6,340.0h0M233.5,344.5h0M242.0,347.8h0M242.4,343.5h0M244.5,342.0h0M240.5,343.0h0M264.6,308.0h0M262.1,343.4h0M264.0,311.0h0M265.0,341.0h0M408.0,307.0h0M413.4,315.0h0M404.5,313.0h0M404.5,351.0h0M408.4,354.0h0M413.1,353.0h0M414.4,349.4h0M414.0,316.5h0M406.0,349.0h0M410.5,350.5h0M466.9,346.6h0M473.3,317.0h0M433.6,316.4h0M435.3,342.2h0M449.0,336.5h0M444.3,318.5h0M462.5,320.0h0M438.0,339.0h0M447.0,320.5h0M468.0,338.0h0M511.6,341.6h0M526.0,339.5h0M506.4,337.8h0M493.0,320.0h0M520.0,319.0h0M525.8,320.5h0M490.0,322.0h0M503.0,320.5h0M555.0,344.8h0M547.7,317.6h0M562.9,341.0h0M569.0,341.0h0M547.5,336.0h0M567.0,319.0h0M572.0,318.0h0M581.5,337.8h0M583.6,320.5h0M584.5,330.2h0M582.5,326.0h0M580.5,331.0h0M577.2,124.6h0M577.3,124.9h0M577.7,125.2h0M577.5,125.8h0M577.5,126.0h0M577.6,126.5h0M577.5,126.7h0M577.7,126.9h0M577.5,146.3h0M577.8,146.8h0M577.2,148.1h0M577.6,148.6h0M577.6,148.8h0M577.3,149.8h0M577.4,150.4h0M577.4,151.1h0M577.7,152.2h0M577.2,152.4h0M577.3,153.1h0M577.3,153.8h0M577.2,154.5h0M577.5,155.3h0M577.4,194.1h0M577.3,195.5h0M577.3,196.1h0M577.4,197.1h0M577.7,197.9h0M577.3,198.6h0M577.5,198.9h0M577.5,199.7h0M577.3,200.5h0M577.2,201.8h0M577.6,202.5h0M577.7,203.0h0M577.5,192.3h0M577.3,224.9h0M577.3,225.7h0M577.7,226.4h0M577.2,227.2h0M577.8,228.4h0M577.7,228.9h0M577.8,229.8h0M577.8,230.9h0M577.4,231.6h0M577.5,233.1h0M577.2,233.3h0M577.8,234.7h0M577.3,250.7h0M577.3,251.7h0M577.3,252.0h0M577.4,253.5h0M577.2,254.0h0M577.4,255.3h0M577.8,256.4h0M577.4,257.7h0M577.3,257.8h0M577.4,259.3h0M577.6,259.9h0M577.2,261.2h0M577.6,261.8h0M577.8,262.7h0M577.9,275.2h0M577.9,276.5h0M578.1,277.4h0M577.8,277.8h0M578.2,278.8h0M578.1,279.3h0M578.1,280.9h0M578.5,281.5h0M577.8,281.9h0M577.8,282.9h0M577.9,284.2h0M578.4,284.8h0M577.9,285.4h0M578.3,286.1h0M578.0,287.2h0M578.2,288.3h0M578.6,288.9h0M578.0,289.7h0M578.2,290.8h0M577.9,291.5h0M578.4,292.1h0M577.8,293.1h0M578.2,293.8h0M577.8,294.7h0M578.4,296.1h0M578.0,297.0h0M577.8,297.5h0M578.5,298.1h0M578.2,299.4h0M578.5,300.4h0M578.6,301.3h0M578.5,301.9h0M578.4,302.4h0M577.8,303.7h0M578.0,304.0h0M578.3,304.8h0M578.5,306.1h0M578.3,306.9h0M577.9,307.3h0M577.8,308.3h0M577.8,309.2h0M578.4,309.9h0M578.3,311.0h0M578.6,311.6h0M578.2,313.1h0M578.0,313.5h0M578.0,314.8h0M578.2,315.1h0M578.1,315.9h0M578.0,317.2h0M578.0,318.1h0M578.6,319.2h0M578.4,319.8h0M578.5,320.1h0M578.4,321.6h0M578.5,322.3h0M578.5,323.3h0M577.9,323.7h0M578.0,324.3h0M578.2,325.7h0" fill="none" stroke="#000" stroke-width="5" stroke-linecap="round"/>
<path d="M87.55,326.90L560.00,326.90L560.50,326.90L561.00,326.90L561.50,326.90L562.00,326.90L562.50,326.90L563.00,326.90L563.50,326.89L564.00,326.89L564.50,326.89L565.00,326.89L565.50,326.89L566.00,326.89L566.50,326.89L567.00,326.88L567.50,326.88L568.00,326.88L568.50,326.87L569.00,326.86L569.50,326.85L570.00,326.84L570.50,326.82L571.00,326.80L571.50,326.76L572.00,326.71L572.50,326.63L573.00,326.50L573.50,326.30L574.00,325.95L574.50,325.31L575.00,324.08L575.05,323.91L575.10,323.71L575.15,323.51L575.20,323.28L575.25,323.04L575.30,322.78L575.35,322.50L575.40,322.19L575.45,321.86L575.50,321.50L575.55,321.11L575.60,320.68L575.65,320.22L575.70,319.72L575.75,319.17L575.80,318.57L575.85,317.92L575.90,317.20L575.95,316.42L576.00,315.56L576.05,314.62L576.10,313.59L576.15,312.45L576.20,311.20L576.25,309.83L576.30,308.32L576.35,306.65L576.40,304.81L576.45,302.78L576.50,300.54L576.55,298.06L576.60,295.31L576.65,292.27L576.70,288.91L576.75,285.18L576.80,281.05L576.85,276.47L576.90,271.39L576.95,265.77L577.00,259.54L577.05,252.66L577.10,245.05L577.15,236.66L577.20,227.45L577.25,217.37L577.30,206.42L577.35,194.66L577.40,182.21L577.45,169.38L577.50,156.65L577.55,144.82L577.60,134.97L577.65,128.35L577.70,126.00L577.75,128.35L577.80,134.97L577.85,144.82L577.90,156.65L577.95,169.38L578.00,182.21L578.05,194.66L578.10,206.42L578.15,217.37L578.20,227.45L578.25,236.66L578.30,245.05L578.35,252.66L578.40,259.54L578.45,265.77L578.50,271.39L578.55,276.47L578.60,281.05L578.65,285.18L578.70,288.91L578.75,292.27L578.80,295.31L578.85,298.06L578.90,300.54L578.95,302.78L579.00,304.81L579.05,306.65L579.10,308.32L579.15,309.83L579.20,311.20L579.25,312.45L579.30,313.59L579.35,314.62L579.40,315.56L579.45,316.42L579.50,317.20L579.55,317.92L579.60,318.57L579.65,319.17L579.70,319.72L579.75,320.22L579.80,320.68L579.85,321.11L579.90,321.50L579.95,321.86L580.00,322.19L580.05,322.50L580.10,322.78L580.15,323.04L580.20,323.28L580.25,323.51L580.30,323.71L580.35,323.91L580.40,324.08L580.45,324.25L580.50,324.40L580.55,324.55L580.60,324.68L580.65,324.81L580.70,324.92L580.75,325.03L581.25,325.80L581.75,326.21L582.25,326.45L582.75,326.60L583.25,326.69L583.75,326.75L584.25,326.79L584.75,326.82L585.25,326.83L585.75,326.85L586.25,326.86L586.75,326.87L587.25,326.87L587.50,326.88" fill="none" stroke="#ff00ff" stroke-width="1.0" stroke-opacity="0.78" stroke-linejoin="round"/>
<g fill="none" stroke="#000" stroke-width="1.15">
<rect x="87.55" y="62.4" width="499.95" height="374.5"/>
<path stroke-width="0.9" d="M92.22,62.4v9.7M92.22,436.9v-9.7M123.25,62.4v19M123.25,436.9v-19M154.28,62.4v9.7M154.28,436.9v-9.7M185.31,62.4v9.7M185.31,436.9v-9.7M216.34,62.4v9.7M216.34,436.9v-9.7M247.37,62.4v9.7M247.37,436.9v-9.7M278.40,62.4v19M278.40,436.9v-19M309.43,62.4v9.7M309.43,436.9v-9.7M340.46,62.4v9.7M340.46,436.9v-9.7M371.49,62.4v9.7M371.49,436.9v-9.7M402.52,62.4v9.7M402.52,436.9v-9.7M433.55,62.4v19M433.55,436.9v-19M464.58,62.4v9.7M464.58,436.9v-9.7M495.61,62.4v9.7M495.61,436.9v-9.7M526.64,62.4v9.7M526.64,436.9v-9.7M557.67,62.4v9.7M557.67,436.9v-9.7M87.55,67.05h9.7M587.5,67.05h-9.7M87.55,82.85h9.7M587.5,82.85h-9.7M87.55,98.65h9.7M587.5,98.65h-9.7M87.55,114.45h19M587.5,114.45h-19M87.55,130.25h9.7M587.5,130.25h-9.7M87.55,146.05h9.7M587.5,146.05h-9.7M87.55,161.85h9.7M587.5,161.85h-9.7M87.55,177.65h9.7M587.5,177.65h-9.7M87.55,193.45h19M587.5,193.45h-19M87.55,209.25h9.7M587.5,209.25h-9.7M87.55,225.05h9.7M587.5,225.05h-9.7M87.55,240.85h9.7M587.5,240.85h-9.7M87.55,256.65h9.7M587.5,256.65h-9.7M87.55,272.45h19M587.5,272.45h-19M87.55,288.25h9.7M587.5,288.25h-9.7M87.55,304.05h9.7M587.5,304.05h-9.7M87.55,319.85h9.7M587.5,319.85h-9.7M87.55,335.65h9.7M587.5,335.65h-9.7M87.55,351.45h19M587.5,351.45h-19M87.55,367.25h9.7M587.5,367.25h-9.7M87.55,383.05h9.7M587.5,383.05h-9.7M87.55,398.85h9.7M587.5,398.85h-9.7M87.55,414.65h9.7M587.5,414.65h-9.7M87.55,430.45h19M587.5,430.45h-19"/>
</g>
<g opacity="0.999">
<text x="337.7" y="40.4" text-anchor="middle" textLength="196.4" lengthAdjust="spacingAndGlyphs">OGLE-2025-BLG-1369</text>
<text x="337.5" y="491" text-anchor="middle" textLength="129" lengthAdjust="spacingAndGlyphs">HJD - 2450000</text>
<text transform="translate(27.3,248.8) rotate(-90)" text-anchor="middle" textLength="103.6" lengthAdjust="spacingAndGlyphs">I magnitude</text>
<text x="77.6" y="122.0" text-anchor="end" textLength="36.2" lengthAdjust="spacingAndGlyphs">16.5</text>
<text x="77.6" y="201.0" text-anchor="end" textLength="20.3" lengthAdjust="spacingAndGlyphs">17</text>
<text x="77.6" y="280.0" text-anchor="end" textLength="36.2" lengthAdjust="spacingAndGlyphs">17.5</text>
<text x="77.6" y="359.0" text-anchor="end" textLength="20.3" lengthAdjust="spacingAndGlyphs">18</text>
<text x="77.6" y="438.0" text-anchor="end" textLength="36.2" lengthAdjust="spacingAndGlyphs">18.5</text>
<text x="123.2" y="462.8" text-anchor="middle" textLength="40.7" lengthAdjust="spacingAndGlyphs">8000</text>
<text x="278.4" y="462.8" text-anchor="middle" textLength="40.7" lengthAdjust="spacingAndGlyphs">9000</text>
<text x="433.2" y="462.8" text-anchor="middle" textLength="52.0" lengthAdjust="spacingAndGlyphs">10000</text>
</g>
</svg>
</body></html>
